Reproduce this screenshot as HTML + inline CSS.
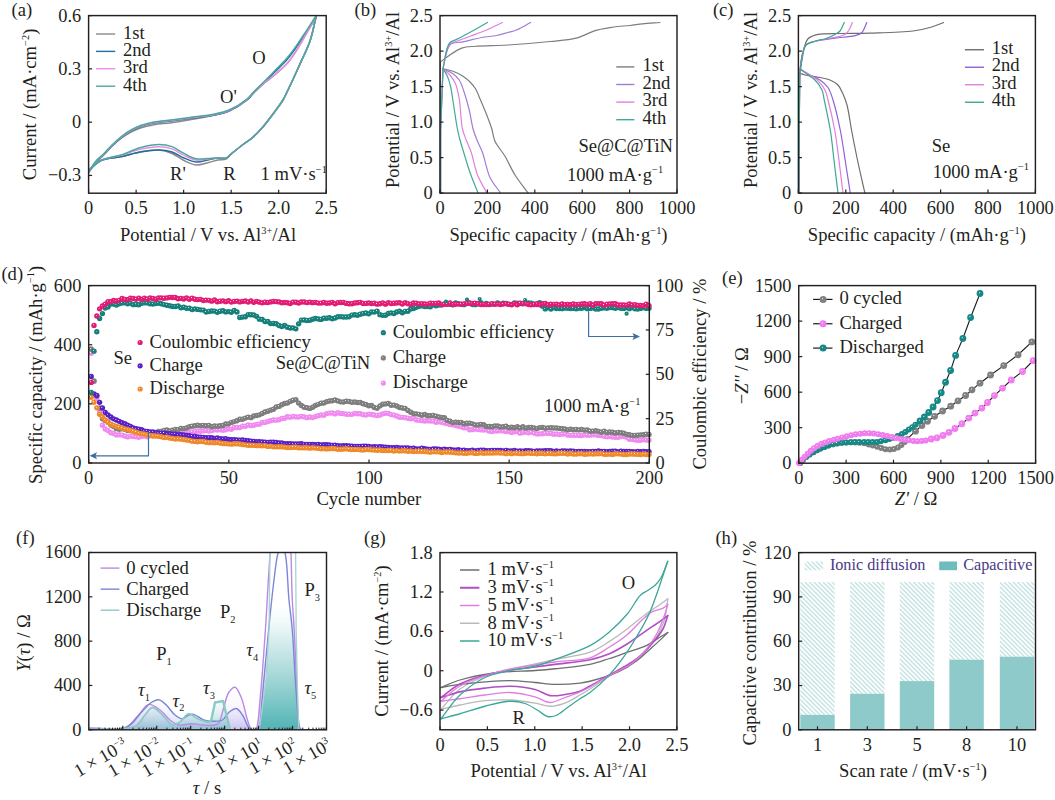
<!DOCTYPE html>
<html><head><meta charset="utf-8"><style>
html,body{margin:0;padding:0;background:#fff;}
svg{display:block;font-family:"Liberation Serif",serif;}
</style></head><body>
<svg width="1055" height="800" viewBox="0 0 1055 800">
<path d="M89,172 C91.33,168.67 93.46,164.92 96,162 C98.33,159.32 100.96,157.51 103.5,155 C106.28,152.25 108.97,148.96 112,146.11 C115.13,143.16 118.66,140.06 122,137.63 C125,135.45 127.9,133.68 131,132.06 C134.07,130.45 137,129.09 140.5,127.92 C144.55,126.58 149.22,125.58 154,124.74 C159.32,123.81 165.18,123.55 171,122.74 C177.17,121.89 183.24,120.9 190,119.72 C197.77,118.37 207.9,116.68 215,115 C220.37,113.73 224.19,113.11 229,111 C234.79,108.46 242.56,103.62 247,100 C250.09,97.48 251.34,95.12 254,92.5 C257.2,89.35 261.37,85.62 265,82.54 C268.37,79.69 271.54,77.59 275,74.62 C279,71.19 284.01,66.92 287.5,63 C290.51,59.61 292.36,56.72 295,52.74 C298.43,47.57 302.45,40.44 306,34.39 C309.44,28.54 312.67,22.8 316,17" fill="none" stroke="#8a8a8a" stroke-width="1.5" stroke-linejoin="round" stroke-linecap="round" />
<path d="M316,17 C314,25 312.65,33.19 310,41 C307.33,48.86 303.53,56.12 300,64 C296.23,72.42 291.18,83.38 288,90 C286.01,94.13 284.94,96.74 283,100 C280.97,103.41 278.79,106.22 276,110 C272.19,115.17 266.42,122.99 262,128 C258.52,131.95 255.36,135.14 252,138 C249.02,140.54 246.17,142.04 243,144.5 C239.24,147.42 234.11,151.77 231,154.5 C228.95,156.3 228.04,158.18 226,159.1 C223.78,160.11 220.79,159.43 218,159.96 C214.83,160.56 211.5,161.9 208,162.71 C204.2,163.6 199.95,165.33 196,164.99 C191.95,164.65 187.92,162.4 184,160.53 C179.91,158.58 176.21,155.21 172,153.45 C167.87,151.72 163.78,150.37 159,150 C153.3,149.56 146.21,150.9 140,152 C133.88,153.08 128.25,155.12 122,156.5 C115.29,157.98 106.77,157.86 101,160.5 C96.12,162.73 93,166.83 89,170" fill="none" stroke="#8a8a8a" stroke-width="1.5" stroke-linejoin="round" stroke-linecap="round" />
<path d="M89,172 C91.33,168.67 93.46,164.92 96,162 C98.33,159.32 100.96,157.52 103.5,155 C106.29,152.23 108.99,148.94 112,146 C115.14,142.93 118.66,139.59 122,137 C124.99,134.67 127.89,132.76 131,131 C134.06,129.27 136.99,127.77 140.5,126.5 C144.54,125.03 149.21,123.9 154,123 C159.31,122 165.18,121.73 171,121 C177.16,120.23 183.23,119.42 190,118.5 C197.76,117.45 207.91,116.5 215,115 C220.38,113.86 224.19,113.11 229,111 C234.79,108.46 242.56,103.62 247,100 C250.09,97.48 251.37,95.19 254,92.5 C257.22,89.22 261.43,85.34 265,81.82 C268.43,78.44 271.49,75.35 275,71.79 C278.94,67.8 283.97,63.1 287.5,59 C290.44,55.58 292.32,52.86 295,49.09 C298.38,44.32 302.44,37.98 306,32.54 C309.43,27.29 312.67,22.18 316,17" fill="none" stroke="#1f6f9a" stroke-width="1.5" stroke-linejoin="round" stroke-linecap="round" />
<path d="M316,17 C314,25 312.65,33.19 310,41 C307.33,48.86 303.53,56.12 300,64 C296.23,72.42 291.18,83.38 288,90 C286.01,94.13 284.94,96.74 283,100 C280.97,103.41 278.79,106.22 276,110 C272.19,115.17 266.42,122.99 262,128 C258.52,131.95 255.36,135.14 252,138 C249.02,140.54 246.19,142.09 243,144.5 C239.26,147.33 234.14,151.5 231,154 C228.97,155.61 228.01,157.3 226,158 C223.76,158.79 220.8,157.72 218,158 C214.84,158.31 211.49,159.36 208,160 C204.19,160.7 199.96,162.31 196,162 C191.96,161.68 187.94,159.63 184,158 C179.94,156.32 176.19,153.33 172,152 C167.85,150.68 163.75,150.11 159,150 C153.27,149.86 146.21,150.9 140,152 C133.88,153.08 128.25,155.12 122,156.5 C115.29,157.98 106.77,157.86 101,160.5 C96.12,162.73 93,166.83 89,170" fill="none" stroke="#1f6f9a" stroke-width="1.5" stroke-linejoin="round" stroke-linecap="round" />
<path d="M89,171.5 C91.33,168.17 93.46,164.42 96,161.5 C98.33,158.82 100.96,157.02 103.5,154.5 C106.29,151.73 108.99,148.44 112,145.5 C115.14,142.43 118.66,139.09 122,136.5 C124.99,134.17 127.89,132.26 131,130.5 C134.06,128.77 136.99,127.27 140.5,126 C144.54,124.53 149.21,123.4 154,122.5 C159.31,121.5 165.18,121.23 171,120.5 C177.16,119.73 183.23,118.92 190,118 C197.76,116.95 207.91,116 215,114.5 C220.38,113.36 224.19,112.61 229,110.5 C234.79,107.96 242.56,103.12 247,99.5 C250.09,96.98 251.34,94.61 254,92 C257.19,88.87 261.36,85.15 265,82.13 C268.36,79.35 271.55,77.37 275,74.47 C279.01,71.11 284.02,66.9 287.5,63 C290.52,59.62 292.36,56.7 295,52.69 C298.43,47.47 302.45,40.25 306,34.13 C309.44,28.19 312.67,22.38 316,16.5" fill="none" stroke="#e88ee8" stroke-width="1.5" stroke-linejoin="round" stroke-linecap="round" />
<path d="M316,17 C314,25 312.65,33.19 310,41 C307.33,48.86 303.53,56.12 300,64 C296.23,72.42 291.18,83.38 288,90 C286.01,94.13 284.94,96.74 283,100 C280.97,103.41 278.79,106.22 276,110 C272.19,115.17 266.42,122.99 262,128 C258.52,131.95 255.36,135.14 252,138 C249.02,140.54 246.19,142.09 243,144.5 C239.26,147.33 234.14,151.5 231,154 C228.97,155.61 228.01,157.32 226,158 C223.76,158.76 220.81,157.7 218,157.83 C214.85,157.97 211.49,158.61 208,158.97 C204.18,159.36 199.93,160.61 196,160.05 C191.93,159.47 187.95,157.16 184,155.34 C179.94,153.46 176.2,150.33 172,148.91 C167.86,147.51 163.75,146.87 159,146.81 C153.27,146.74 146.19,148 140,149.39 C133.86,150.76 128.26,153.27 122,155.07 C115.29,156.99 106.78,157.62 101,160.5 C96.14,162.92 93,166.83 89,170" fill="none" stroke="#e88ee8" stroke-width="1.5" stroke-linejoin="round" stroke-linecap="round" />
<path d="M89,171 C91.33,167.67 93.46,163.92 96,161 C98.33,158.32 100.96,156.52 103.5,154 C106.29,151.23 108.99,147.94 112,145 C115.14,141.93 118.66,138.59 122,136 C124.99,133.67 127.89,131.76 131,130 C134.06,128.27 136.99,126.77 140.5,125.5 C144.54,124.03 149.21,122.9 154,122 C159.31,121 165.18,120.73 171,120 C177.16,119.23 183.23,118.42 190,117.5 C197.76,116.45 207.91,115.5 215,114 C220.38,112.86 224.19,112.11 229,110 C234.79,107.46 242.56,102.62 247,99 C250.09,96.48 251.37,94.19 254,91.5 C257.22,88.2 261.44,84.3 265,80.73 C268.43,77.28 271.48,74.07 275,70.44 C278.94,66.38 283.96,61.62 287.5,57.5 C290.43,54.08 292.32,51.38 295,47.63 C298.38,42.91 302.44,36.67 306,31.3 C309.43,26.13 312.67,21.1 316,16" fill="none" stroke="#4aa89a" stroke-width="1.5" stroke-linejoin="round" stroke-linecap="round" />
<path d="M316,17 C314,25 312.65,33.19 310,41 C307.33,48.86 303.53,56.12 300,64 C296.23,72.42 291.18,83.38 288,90 C286.01,94.13 284.94,96.74 283,100 C280.97,103.41 278.79,106.22 276,110 C272.19,115.17 266.42,122.99 262,128 C258.52,131.95 255.36,135.14 252,138 C249.02,140.54 246.19,142.09 243,144.5 C239.26,147.33 234.14,151.5 231,154 C228.97,155.61 228.01,157.3 226,158 C223.76,158.79 220.81,157.94 218,158 C214.85,158.07 211.49,158.31 208,158.42 C204.18,158.55 199.91,159.49 196,158.72 C191.91,157.9 187.95,155.39 184,153.4 C179.95,151.37 176.22,148.12 172,146.65 C167.88,145.21 163.74,144.54 159,144.56 C153.26,144.58 146.17,146.11 140,147.79 C133.83,149.46 128.28,152.55 122,154.62 C115.32,156.82 106.79,157.55 101,160.5 C96.15,162.97 93,166.83 89,170" fill="none" stroke="#4aa89a" stroke-width="1.5" stroke-linejoin="round" stroke-linecap="round" />
<rect x="88.6" y="15.6" width="237.6" height="177.6" fill="none" stroke="#231f20" stroke-width="1.45"/>
<line x1="88.6" y1="15.6" x2="92.1" y2="15.6" stroke="#231f20" stroke-width="1.2" />
<text x="81.3" y="21.5" font-size="18.4" text-anchor="end" fill="#231f20" >0.6</text>
<line x1="88.6" y1="68.88" x2="92.1" y2="68.88" stroke="#231f20" stroke-width="1.2" />
<text x="81.3" y="74.78" font-size="18.4" text-anchor="end" fill="#231f20" >0.3</text>
<line x1="88.6" y1="122.16" x2="92.1" y2="122.16" stroke="#231f20" stroke-width="1.2" />
<text x="81.3" y="128.06" font-size="18.4" text-anchor="end" fill="#231f20" >0</text>
<line x1="88.6" y1="175.44" x2="92.1" y2="175.44" stroke="#231f20" stroke-width="1.2" />
<text x="81.3" y="181.34" font-size="18.4" text-anchor="end" fill="#231f20" >−0.3</text>
<line x1="88.6" y1="193.2" x2="88.6" y2="189.7" stroke="#231f20" stroke-width="1.2" />
<text x="88.6" y="214.2" font-size="18.4" text-anchor="middle" fill="#231f20" >0</text>
<line x1="136.12" y1="193.2" x2="136.12" y2="189.7" stroke="#231f20" stroke-width="1.2" />
<text x="136.12" y="214.2" font-size="18.4" text-anchor="middle" fill="#231f20" >0.5</text>
<line x1="183.64" y1="193.2" x2="183.64" y2="189.7" stroke="#231f20" stroke-width="1.2" />
<text x="183.64" y="214.2" font-size="18.4" text-anchor="middle" fill="#231f20" >1.0</text>
<line x1="231.16" y1="193.2" x2="231.16" y2="189.7" stroke="#231f20" stroke-width="1.2" />
<text x="231.16" y="214.2" font-size="18.4" text-anchor="middle" fill="#231f20" >1.5</text>
<line x1="278.68" y1="193.2" x2="278.68" y2="189.7" stroke="#231f20" stroke-width="1.2" />
<text x="278.68" y="214.2" font-size="18.4" text-anchor="middle" fill="#231f20" >2.0</text>
<line x1="326.2" y1="193.2" x2="326.2" y2="189.7" stroke="#231f20" stroke-width="1.2" />
<text x="326.2" y="214.2" font-size="18.4" text-anchor="middle" fill="#231f20" >2.5</text>
<text x="208" y="241" font-size="18.6" text-anchor="middle" fill="#231f20" >Potential / V vs. Al<tspan font-size="10.4" dy="-7.4">3+</tspan><tspan dy="7.4">/Al</tspan></text>
<text transform="translate(36.3,104.4) rotate(-90)" font-size="18.6" text-anchor="middle" fill="#231f20">Current / (mA·cm<tspan font-size="10.4" dy="-7.4">−2</tspan><tspan dy="7.4">)</tspan></text>
<text x="11.5" y="15.5" font-size="18.6" text-anchor="start" fill="#231f20" >(a)</text>
<line x1="96" y1="34" x2="115.2" y2="34" stroke="#8a8a8a" stroke-width="1.4" />
<text x="123" y="38.6" font-size="18.6" text-anchor="start" fill="#231f20" >1st</text>
<line x1="96" y1="51.4" x2="115.2" y2="51.4" stroke="#1f6f9a" stroke-width="1.4" />
<text x="123" y="56" font-size="18.6" text-anchor="start" fill="#231f20" >2nd</text>
<line x1="96" y1="68.8" x2="115.2" y2="68.8" stroke="#e88ee8" stroke-width="1.4" />
<text x="123" y="73.4" font-size="18.6" text-anchor="start" fill="#231f20" >3rd</text>
<line x1="96" y1="86.2" x2="115.2" y2="86.2" stroke="#4aa89a" stroke-width="1.4" />
<text x="123" y="90.8" font-size="18.6" text-anchor="start" fill="#231f20" >4th</text>
<text x="259" y="64.4" font-size="18.6" text-anchor="middle" fill="#231f20" >O</text>
<text x="228.5" y="103" font-size="18.6" text-anchor="middle" fill="#231f20" >O'</text>
<text x="178" y="180.2" font-size="18.6" text-anchor="middle" fill="#231f20" >R'</text>
<text x="229.5" y="180.2" font-size="18.6" text-anchor="middle" fill="#231f20" >R</text>
<text x="260.5" y="180.2" font-size="18.6" text-anchor="start" fill="#231f20" >1 mV·s<tspan font-size="10.4" dy="-7.4">−1</tspan></text>
<text x="578.5" y="151.9" font-size="18.6" text-anchor="start" fill="#231f20" >Se@C@TiN</text>
<text x="566.9" y="180.6" font-size="18.6" text-anchor="start" fill="#231f20" >1000 mA·g<tspan font-size="10.4" dy="-7.4">−1</tspan></text>
<path d="M440.2,193 L440.3,120 L440.4,62" fill="none" stroke="#7d7d7d" stroke-width="1.2" stroke-linejoin="round" />
<path d="M440.4,62 C442.93,60.08 445.03,58.25 448,56.25 C451.85,53.67 456.99,49.75 461.75,48.1 C466.18,46.56 469.93,46.73 475.5,46.25 C484.03,45.51 496.48,45.7 508,45 C521.11,44.2 537.68,42.79 550,41.5 C559.71,40.48 568.02,40.25 576,38.2 C583.23,36.34 589.85,32.09 596,30.3 C601.01,28.84 606.05,28.27 610,27.6 C612.88,27.11 614.68,26.82 617.5,26.5 C621.13,26.09 625.84,25.95 630,25.5 C634.17,25.05 637.98,24.28 642.5,23.8 C647.84,23.24 654.17,22.93 660,22.5" fill="none" stroke="#7d7d7d" stroke-width="1.2" stroke-linejoin="round" stroke-linecap="round" />
<path d="M443,68.75 C446.33,69.58 449.73,70.04 453,71.25 C456.4,72.51 460.01,74.29 463,76.25 C465.8,78.08 468.35,80.3 470.5,82.5 C472.45,84.49 473.98,86.25 475.5,88.75 C477.39,91.85 478.77,95.97 480.5,100 C482.49,104.63 484.83,110.09 486.75,115 C488.57,119.66 490.35,124.24 491.75,128.75 C493.07,132.98 493.12,137.05 495,141.25 C497.22,146.21 501.79,150.89 505,156.25 C508.48,162.07 511.21,168.94 515,175 C518.88,181.2 523.73,187 528.1,193" fill="none" stroke="#7d7d7d" stroke-width="1.2" stroke-linejoin="round" stroke-linecap="round" />
<path d="M440.6,193 L440.6,130 L443,68.75 L445.7,56" fill="none" stroke="#a07cd6" stroke-width="1.2" stroke-linejoin="round" />
<path d="M445.7,56 C446.4,53.67 446.85,51.08 447.8,49 C448.66,47.13 449.22,45.18 451,44 C453.54,42.31 458.57,42.81 463,41.9 C468.57,40.76 475.85,38.59 481.75,37.5 C486.94,36.54 491.91,36.41 496.5,35.5 C500.6,34.69 504.47,33.48 508,32.5 C511.03,31.65 513.3,31.26 516.4,30 C520.59,28.29 525.87,25 530.6,22.5" fill="none" stroke="#a07cd6" stroke-width="1.2" stroke-linejoin="round" stroke-linecap="round" />
<path d="M443,68.75 C446.33,70.42 450.19,71.73 453,73.75 C455.5,75.55 457.49,77.34 459.25,80 C461.42,83.29 462.69,87.94 464.25,92.5 C466.06,97.8 467.8,104.04 469.25,110 C470.73,116.11 471.51,123.34 473,128.75 C474.18,133.02 475.48,136.18 477,140 C478.62,144.09 480.68,147.55 482.5,152.5 C485.02,159.34 486.6,170.38 490,177.5 C492.88,183.54 497.07,187.83 500.6,193" fill="none" stroke="#a07cd6" stroke-width="1.2" stroke-linejoin="round" stroke-linecap="round" />
<path d="M440.6,193 L440.6,130 L443,68.75 L445.5,55" fill="none" stroke="#e07fe0" stroke-width="1.2" stroke-linejoin="round" />
<path d="M445.5,55 C446.13,52.67 446.47,50.01 447.4,48 C448.21,46.26 449.06,44.61 450.5,43.5 C452.09,42.28 454.28,42.16 456.75,41.25 C460.35,39.92 465.32,37.96 470,36.2 C475.25,34.23 481.3,32.3 486.75,30 C492.13,27.73 497.25,25 502.5,22.5" fill="none" stroke="#e07fe0" stroke-width="1.2" stroke-linejoin="round" stroke-linecap="round" />
<path d="M443,68.75 C445.3,70.83 447.86,72.59 449.9,75 C452.06,77.55 454.01,80.3 455.5,83.75 C457.31,87.96 458.21,92.85 459.25,98.75 C460.71,106.99 460.74,121.22 462.4,128.75 C463.44,133.48 464.83,136.17 466.25,140 C467.76,144.08 469.62,147.67 471.25,152.5 C473.4,158.86 474.76,168.05 477.5,175 C480.06,181.48 483.77,187 486.9,193" fill="none" stroke="#e07fe0" stroke-width="1.2" stroke-linejoin="round" stroke-linecap="round" />
<path d="M440.6,193 L440.6,130 L443,68.75 L445.5,55" fill="none" stroke="#3eaa98" stroke-width="1.2" stroke-linejoin="round" />
<path d="M445.5,55 C446.13,52.5 446.58,49.71 447.4,47.5 C448.1,45.62 448.54,43.81 449.9,42.5 C451.48,40.98 453.97,40.77 456.75,39.4 C461.27,37.17 468.84,32.99 474.25,30 C478.99,27.39 483.08,25 487.5,22.5" fill="none" stroke="#3eaa98" stroke-width="1.2" stroke-linejoin="round" stroke-linecap="round" />
<path d="M443,68.75 C444.47,71.25 446.18,73.49 447.4,76.25 C448.73,79.27 449.58,82.36 450.5,86.25 C451.74,91.49 452.52,98.38 453.6,105 C454.81,112.45 456.14,122.31 457.4,128.75 C458.27,133.21 458.98,136.17 460,140 C461.08,144.07 462.33,147.85 463.75,152.5 C465.55,158.39 467.65,165.84 470,172.5 C472.41,179.34 475.4,186.17 478.1,193" fill="none" stroke="#3eaa98" stroke-width="1.2" stroke-linejoin="round" stroke-linecap="round" />
<rect x="440" y="15.6" width="237" height="177.5" fill="none" stroke="#231f20" stroke-width="1.45"/>
<line x1="440" y1="193.1" x2="443.5" y2="193.1" stroke="#231f20" stroke-width="1.2" />
<text x="432.7" y="199" font-size="18.4" text-anchor="end" fill="#231f20" >0</text>
<line x1="440" y1="157.6" x2="443.5" y2="157.6" stroke="#231f20" stroke-width="1.2" />
<text x="432.7" y="163.5" font-size="18.4" text-anchor="end" fill="#231f20" >0.5</text>
<line x1="440" y1="122.1" x2="443.5" y2="122.1" stroke="#231f20" stroke-width="1.2" />
<text x="432.7" y="128" font-size="18.4" text-anchor="end" fill="#231f20" >1.0</text>
<line x1="440" y1="86.6" x2="443.5" y2="86.6" stroke="#231f20" stroke-width="1.2" />
<text x="432.7" y="92.5" font-size="18.4" text-anchor="end" fill="#231f20" >1.5</text>
<line x1="440" y1="51.1" x2="443.5" y2="51.1" stroke="#231f20" stroke-width="1.2" />
<text x="432.7" y="57" font-size="18.4" text-anchor="end" fill="#231f20" >2.0</text>
<line x1="440" y1="15.6" x2="443.5" y2="15.6" stroke="#231f20" stroke-width="1.2" />
<text x="432.7" y="21.5" font-size="18.4" text-anchor="end" fill="#231f20" >2.5</text>
<line x1="440" y1="193.1" x2="440" y2="189.6" stroke="#231f20" stroke-width="1.2" />
<text x="440" y="214.1" font-size="18.4" text-anchor="middle" fill="#231f20" >0</text>
<line x1="487.4" y1="193.1" x2="487.4" y2="189.6" stroke="#231f20" stroke-width="1.2" />
<text x="487.4" y="214.1" font-size="18.4" text-anchor="middle" fill="#231f20" >200</text>
<line x1="534.8" y1="193.1" x2="534.8" y2="189.6" stroke="#231f20" stroke-width="1.2" />
<text x="534.8" y="214.1" font-size="18.4" text-anchor="middle" fill="#231f20" >400</text>
<line x1="582.2" y1="193.1" x2="582.2" y2="189.6" stroke="#231f20" stroke-width="1.2" />
<text x="582.2" y="214.1" font-size="18.4" text-anchor="middle" fill="#231f20" >600</text>
<line x1="629.6" y1="193.1" x2="629.6" y2="189.6" stroke="#231f20" stroke-width="1.2" />
<text x="629.6" y="214.1" font-size="18.4" text-anchor="middle" fill="#231f20" >800</text>
<line x1="677" y1="193.1" x2="677" y2="189.6" stroke="#231f20" stroke-width="1.2" />
<text x="677" y="214.1" font-size="18.4" text-anchor="middle" fill="#231f20" >1000</text>
<text x="558.5" y="241" font-size="18.6" text-anchor="middle" fill="#231f20" >Specific capacity / (mAh·g<tspan font-size="10.4" dy="-7.4">−1</tspan><tspan dy="7.4">)</tspan></text>
<text transform="translate(399,100) rotate(-90)" font-size="18.6" text-anchor="middle" fill="#231f20">Potential / V vs. Al<tspan font-size="10.4" dy="-7.4">3+</tspan><tspan dy="7.4">/Al</tspan></text>
<text x="354.5" y="15.5" font-size="18.6" text-anchor="start" fill="#231f20" >(b)</text>
<line x1="616.25" y1="66.9" x2="634.4" y2="66.9" stroke="#7d7d7d" stroke-width="1.4" />
<text x="642.5" y="71.1" font-size="18.6" text-anchor="start" fill="#231f20" >1st</text>
<line x1="616.25" y1="84.5" x2="634.4" y2="84.5" stroke="#a07cd6" stroke-width="1.4" />
<text x="642.5" y="88.7" font-size="18.6" text-anchor="start" fill="#231f20" >2nd</text>
<line x1="616.25" y1="102.1" x2="634.4" y2="102.1" stroke="#e07fe0" stroke-width="1.4" />
<text x="642.5" y="106.3" font-size="18.6" text-anchor="start" fill="#231f20" >3rd</text>
<line x1="616.25" y1="119.7" x2="634.4" y2="119.7" stroke="#3eaa98" stroke-width="1.4" />
<text x="642.5" y="123.9" font-size="18.6" text-anchor="start" fill="#231f20" >4th</text>
<text x="931.7" y="151.9" font-size="18.6" text-anchor="start" fill="#231f20" >Se</text>
<text x="932.7" y="177.8" font-size="18.6" text-anchor="start" fill="#231f20" >1000 mA·g<tspan font-size="10.4" dy="-7.4">−1</tspan></text>
<path d="M799,193 L799.2,120 L799.5,80" fill="none" stroke="#6e6e6e" stroke-width="1.2" stroke-linejoin="round" />
<path d="M799.5,80 C799.67,77.83 799.71,76.05 800,73.5 C800.42,69.81 801.2,64.61 802,60 C802.85,55.12 803.71,48.86 805,45 C805.87,42.4 806.66,40.25 808,38.75 C809.1,37.52 810.48,36.94 812,36.25 C813.75,35.45 815.33,34.86 818,34.4 C822.99,33.54 832.1,33.71 840,33.5 C849.22,33.25 859.11,33.44 870,33.1 C883.05,32.69 901.65,32.48 913,31 C920.58,30.01 926.27,28.62 931.75,27 C936.21,25.69 939.65,24 943.6,22.5" fill="none" stroke="#6e6e6e" stroke-width="1.2" stroke-linejoin="round" stroke-linecap="round" />
<path d="M799,73 C801,73.67 802.52,74.38 805,75 C808.85,75.96 815.52,76.57 820,77.5 C823.69,78.27 826.95,78.7 830,80 C832.92,81.24 835.86,82.74 838,85 C840.24,87.36 841.53,90.79 843,94 C844.56,97.43 845.78,100.48 847,105 C848.84,111.82 850.01,122.13 851.75,131.25 C853.65,141.22 855.8,152.16 858,162.5 C860.18,172.74 862.6,182.83 864.9,193" fill="none" stroke="#6e6e6e" stroke-width="1.2" stroke-linejoin="round" stroke-linecap="round" />
<path d="M799,193 L799.3,120 L799.8,75" fill="none" stroke="#9060d8" stroke-width="1.2" stroke-linejoin="round" />
<path d="M799.8,75 C800.2,70.67 800.41,66.04 801,62 C801.52,58.43 802.07,54.99 803,52 C803.8,49.41 804.23,46.76 806,45 C808.01,43.01 811.33,42.29 815,41.25 C820.28,39.76 828.33,39.04 835,38.1 C841.66,37.16 850.12,36.96 855,35.6 C858.01,34.76 860.13,34.32 862,32.5 C864.25,30.31 865.17,25.83 866.75,22.5" fill="none" stroke="#9060d8" stroke-width="1.2" stroke-linejoin="round" stroke-linecap="round" />
<path d="M800,69 C803.33,71 806.63,73.15 810,75 C813.3,76.81 816.99,77.9 820,80 C822.98,82.08 825.88,84.4 828,87.5 C830.34,90.93 831.35,94.82 833,100 C835.55,108 838.41,120.79 840.5,131.25 C842.57,141.63 843.87,152.14 845.5,162.5 C847.11,172.73 848.67,182.83 850.25,193" fill="none" stroke="#9060d8" stroke-width="1.2" stroke-linejoin="round" stroke-linecap="round" />
<path d="M799,193 L799.3,120 L799.8,75" fill="none" stroke="#e07fe0" stroke-width="1.2" stroke-linejoin="round" />
<path d="M799.8,75 C800.2,70.67 800.41,66.04 801,62 C801.52,58.43 802.07,54.99 803,52 C803.8,49.41 804.23,46.76 806,45 C808.01,43.01 811.8,42.23 815,41.25 C818.44,40.19 821.84,39.93 826,39 C831.48,37.78 841.19,36.66 845,34.4 C847.1,33.15 847.84,31.77 849,30 C850.37,27.92 851.27,25 852.4,22.5" fill="none" stroke="#e07fe0" stroke-width="1.2" stroke-linejoin="round" stroke-linecap="round" />
<path d="M800,69 C803.33,71 806.89,72.98 810,75 C812.85,76.85 815.59,78.26 818,80.6 C820.64,83.16 823.32,86.66 825,90 C826.58,93.15 826.89,95.72 828,100 C829.95,107.5 833.02,120.8 834.9,131.25 C836.77,141.63 837.89,152.14 839.25,162.5 C840.59,172.72 841.75,182.83 843,193" fill="none" stroke="#e07fe0" stroke-width="1.2" stroke-linejoin="round" stroke-linecap="round" />
<path d="M799,193 L799.3,120 L799.8,75" fill="none" stroke="#3aa890" stroke-width="1.2" stroke-linejoin="round" />
<path d="M799.8,75 C800.2,70.67 800.41,66.04 801,62 C801.52,58.43 802.07,54.99 803,52 C803.8,49.41 804.23,46.76 806,45 C808.01,43.01 811.81,42.31 815,41.25 C818.44,40.11 822.57,39.7 826,38.5 C829.2,37.38 832.49,35.81 835,34.4 C836.96,33.3 838.57,32.63 840,31 C841.79,28.95 842.83,25.33 844.25,22.5" fill="none" stroke="#3aa890" stroke-width="1.2" stroke-linejoin="round" stroke-linecap="round" />
<path d="M800,69 C802.67,71 805.41,73.11 808,75 C810.4,76.76 812.84,77.82 815,80 C817.58,82.6 820.46,86.51 822,90 C823.41,93.2 823.34,95.74 824.25,100 C825.85,107.52 828.83,120.8 830.5,131.25 C832.16,141.63 832.99,152.15 834.25,162.5 C835.49,172.73 836.75,182.83 838,193" fill="none" stroke="#3aa890" stroke-width="1.2" stroke-linejoin="round" stroke-linecap="round" />
<rect x="798.4" y="15.6" width="237" height="177.5" fill="none" stroke="#231f20" stroke-width="1.45"/>
<line x1="798.4" y1="193.1" x2="801.9" y2="193.1" stroke="#231f20" stroke-width="1.2" />
<text x="791.1" y="199" font-size="18.4" text-anchor="end" fill="#231f20" >0</text>
<line x1="798.4" y1="157.6" x2="801.9" y2="157.6" stroke="#231f20" stroke-width="1.2" />
<text x="791.1" y="163.5" font-size="18.4" text-anchor="end" fill="#231f20" >0.5</text>
<line x1="798.4" y1="122.1" x2="801.9" y2="122.1" stroke="#231f20" stroke-width="1.2" />
<text x="791.1" y="128" font-size="18.4" text-anchor="end" fill="#231f20" >1.0</text>
<line x1="798.4" y1="86.6" x2="801.9" y2="86.6" stroke="#231f20" stroke-width="1.2" />
<text x="791.1" y="92.5" font-size="18.4" text-anchor="end" fill="#231f20" >1.5</text>
<line x1="798.4" y1="51.1" x2="801.9" y2="51.1" stroke="#231f20" stroke-width="1.2" />
<text x="791.1" y="57" font-size="18.4" text-anchor="end" fill="#231f20" >2.0</text>
<line x1="798.4" y1="15.6" x2="801.9" y2="15.6" stroke="#231f20" stroke-width="1.2" />
<text x="791.1" y="21.5" font-size="18.4" text-anchor="end" fill="#231f20" >2.5</text>
<line x1="798.4" y1="193.1" x2="798.4" y2="189.6" stroke="#231f20" stroke-width="1.2" />
<text x="798.4" y="214.1" font-size="18.4" text-anchor="middle" fill="#231f20" >0</text>
<line x1="845.8" y1="193.1" x2="845.8" y2="189.6" stroke="#231f20" stroke-width="1.2" />
<text x="845.8" y="214.1" font-size="18.4" text-anchor="middle" fill="#231f20" >200</text>
<line x1="893.2" y1="193.1" x2="893.2" y2="189.6" stroke="#231f20" stroke-width="1.2" />
<text x="893.2" y="214.1" font-size="18.4" text-anchor="middle" fill="#231f20" >400</text>
<line x1="940.6" y1="193.1" x2="940.6" y2="189.6" stroke="#231f20" stroke-width="1.2" />
<text x="940.6" y="214.1" font-size="18.4" text-anchor="middle" fill="#231f20" >600</text>
<line x1="988" y1="193.1" x2="988" y2="189.6" stroke="#231f20" stroke-width="1.2" />
<text x="988" y="214.1" font-size="18.4" text-anchor="middle" fill="#231f20" >800</text>
<line x1="1035.4" y1="193.1" x2="1035.4" y2="189.6" stroke="#231f20" stroke-width="1.2" />
<text x="1035.4" y="214.1" font-size="18.4" text-anchor="middle" fill="#231f20" >1000</text>
<text x="916.9" y="241" font-size="18.6" text-anchor="middle" fill="#231f20" >Specific capacity / (mAh·g<tspan font-size="10.4" dy="-7.4">−1</tspan><tspan dy="7.4">)</tspan></text>
<text transform="translate(757.4,100) rotate(-90)" font-size="18.6" text-anchor="middle" fill="#231f20">Potential / V vs. Al<tspan font-size="10.4" dy="-7.4">3+</tspan><tspan dy="7.4">/Al</tspan></text>
<text x="712.9" y="15.5" font-size="18.6" text-anchor="start" fill="#231f20" >(c)</text>
<line x1="964.9" y1="49.75" x2="984" y2="49.75" stroke="#6e6e6e" stroke-width="1.4" />
<text x="991.75" y="53.95" font-size="18.6" text-anchor="start" fill="#231f20" >1st</text>
<line x1="964.9" y1="67.25" x2="984" y2="67.25" stroke="#9060d8" stroke-width="1.4" />
<text x="991.75" y="71.45" font-size="18.6" text-anchor="start" fill="#231f20" >2nd</text>
<line x1="964.9" y1="84.75" x2="984" y2="84.75" stroke="#e07fe0" stroke-width="1.4" />
<text x="991.75" y="88.95" font-size="18.6" text-anchor="start" fill="#231f20" >3rd</text>
<line x1="964.9" y1="102.25" x2="984" y2="102.25" stroke="#3aa890" stroke-width="1.4" />
<text x="991.75" y="106.45" font-size="18.6" text-anchor="start" fill="#231f20" >4th</text>
<defs>
<radialGradient id="g0" cx="0.5" cy="0.5" r="0.5" fx="0.38" fy="0.36"><stop offset="0" stop-color="#ffffff"/><stop offset="0.28" stop-color="#e21c74"/><stop offset="1" stop-color="#e21c74"/></radialGradient>
<radialGradient id="g1" cx="0.5" cy="0.5" r="0.5" fx="0.38" fy="0.36"><stop offset="0" stop-color="#ffffff"/><stop offset="0.28" stop-color="#157f7a"/><stop offset="1" stop-color="#157f7a"/></radialGradient>
<radialGradient id="g2" cx="0.5" cy="0.5" r="0.5" fx="0.38" fy="0.36"><stop offset="0" stop-color="#ffffff"/><stop offset="0.28" stop-color="#5a20c8"/><stop offset="1" stop-color="#5a20c8"/></radialGradient>
<radialGradient id="g3" cx="0.5" cy="0.5" r="0.5" fx="0.38" fy="0.36"><stop offset="0" stop-color="#ffffff"/><stop offset="0.28" stop-color="#ee8a2a"/><stop offset="1" stop-color="#ee8a2a"/></radialGradient>
<radialGradient id="g4" cx="0.5" cy="0.5" r="0.5" fx="0.38" fy="0.36"><stop offset="0" stop-color="#ffffff"/><stop offset="0.28" stop-color="#7d7d7d"/><stop offset="1" stop-color="#7d7d7d"/></radialGradient>
<radialGradient id="g5" cx="0.5" cy="0.5" r="0.5" fx="0.38" fy="0.36"><stop offset="0" stop-color="#ffffff"/><stop offset="0.28" stop-color="#f08af0"/><stop offset="1" stop-color="#f08af0"/></radialGradient>
</defs>
<circle cx="91.2" cy="353.22" r="2.7" fill="url(#g5)"/>
<circle cx="94.01" cy="381.49" r="2.7" fill="url(#g5)"/>
<circle cx="96.81" cy="398.38" r="2.7" fill="url(#g5)"/>
<circle cx="99.61" cy="411.69" r="2.7" fill="url(#g5)"/>
<circle cx="102.42" cy="425.16" r="2.7" fill="url(#g5)"/>
<circle cx="105.22" cy="428.99" r="2.7" fill="url(#g5)"/>
<circle cx="108.02" cy="430.58" r="2.7" fill="url(#g5)"/>
<circle cx="110.82" cy="432.73" r="2.7" fill="url(#g5)"/>
<circle cx="113.63" cy="433.41" r="2.7" fill="url(#g5)"/>
<circle cx="116.43" cy="435.02" r="2.7" fill="url(#g5)"/>
<circle cx="119.23" cy="434.75" r="2.7" fill="url(#g5)"/>
<circle cx="122.04" cy="435.09" r="2.7" fill="url(#g5)"/>
<circle cx="124.84" cy="435.94" r="2.7" fill="url(#g5)"/>
<circle cx="127.64" cy="436.89" r="2.7" fill="url(#g5)"/>
<circle cx="130.44" cy="436.08" r="2.7" fill="url(#g5)"/>
<circle cx="133.25" cy="436.4" r="2.7" fill="url(#g5)"/>
<circle cx="136.05" cy="436.86" r="2.7" fill="url(#g5)"/>
<circle cx="138.85" cy="437.19" r="2.7" fill="url(#g5)"/>
<circle cx="141.66" cy="436.41" r="2.7" fill="url(#g5)"/>
<circle cx="144.46" cy="435.94" r="2.7" fill="url(#g5)"/>
<circle cx="147.26" cy="436.68" r="2.7" fill="url(#g5)"/>
<circle cx="150.07" cy="434.95" r="2.7" fill="url(#g5)"/>
<circle cx="152.87" cy="435.99" r="2.7" fill="url(#g5)"/>
<circle cx="155.67" cy="434.82" r="2.7" fill="url(#g5)"/>
<circle cx="158.47" cy="434.33" r="2.7" fill="url(#g5)"/>
<circle cx="161.28" cy="434.03" r="2.7" fill="url(#g5)"/>
<circle cx="164.08" cy="434.08" r="2.7" fill="url(#g5)"/>
<circle cx="166.88" cy="434.63" r="2.7" fill="url(#g5)"/>
<circle cx="169.69" cy="433.36" r="2.7" fill="url(#g5)"/>
<circle cx="172.49" cy="433.74" r="2.7" fill="url(#g5)"/>
<circle cx="175.29" cy="433.58" r="2.7" fill="url(#g5)"/>
<circle cx="178.1" cy="432.89" r="2.7" fill="url(#g5)"/>
<circle cx="180.9" cy="432.91" r="2.7" fill="url(#g5)"/>
<circle cx="183.7" cy="431.88" r="2.7" fill="url(#g5)"/>
<circle cx="186.5" cy="431.62" r="2.7" fill="url(#g5)"/>
<circle cx="189.31" cy="431.59" r="2.7" fill="url(#g5)"/>
<circle cx="192.11" cy="432.09" r="2.7" fill="url(#g5)"/>
<circle cx="194.91" cy="431.43" r="2.7" fill="url(#g5)"/>
<circle cx="197.72" cy="430.99" r="2.7" fill="url(#g5)"/>
<circle cx="200.52" cy="431.22" r="2.7" fill="url(#g5)"/>
<circle cx="203.32" cy="430.82" r="2.7" fill="url(#g5)"/>
<circle cx="206.13" cy="430.38" r="2.7" fill="url(#g5)"/>
<circle cx="208.93" cy="430.99" r="2.7" fill="url(#g5)"/>
<circle cx="211.73" cy="430.65" r="2.7" fill="url(#g5)"/>
<circle cx="214.53" cy="429.73" r="2.7" fill="url(#g5)"/>
<circle cx="217.34" cy="430.08" r="2.7" fill="url(#g5)"/>
<circle cx="220.14" cy="429.81" r="2.7" fill="url(#g5)"/>
<circle cx="222.94" cy="430.18" r="2.7" fill="url(#g5)"/>
<circle cx="225.75" cy="429.76" r="2.7" fill="url(#g5)"/>
<circle cx="228.55" cy="428.73" r="2.7" fill="url(#g5)"/>
<circle cx="231.35" cy="429.37" r="2.7" fill="url(#g5)"/>
<circle cx="234.16" cy="427.51" r="2.7" fill="url(#g5)"/>
<circle cx="236.96" cy="427.52" r="2.7" fill="url(#g5)"/>
<circle cx="239.76" cy="427.59" r="2.7" fill="url(#g5)"/>
<circle cx="242.56" cy="426.15" r="2.7" fill="url(#g5)"/>
<circle cx="245.37" cy="426.21" r="2.7" fill="url(#g5)"/>
<circle cx="248.17" cy="425.02" r="2.7" fill="url(#g5)"/>
<circle cx="250.97" cy="425.55" r="2.7" fill="url(#g5)"/>
<circle cx="253.78" cy="425.23" r="2.7" fill="url(#g5)"/>
<circle cx="256.58" cy="424.37" r="2.7" fill="url(#g5)"/>
<circle cx="259.38" cy="424.13" r="2.7" fill="url(#g5)"/>
<circle cx="262.19" cy="422.51" r="2.7" fill="url(#g5)"/>
<circle cx="264.99" cy="422.4" r="2.7" fill="url(#g5)"/>
<circle cx="267.79" cy="421.52" r="2.7" fill="url(#g5)"/>
<circle cx="270.59" cy="420.81" r="2.7" fill="url(#g5)"/>
<circle cx="273.4" cy="420.07" r="2.7" fill="url(#g5)"/>
<circle cx="276.2" cy="420.13" r="2.7" fill="url(#g5)"/>
<circle cx="279" cy="419.75" r="2.7" fill="url(#g5)"/>
<circle cx="281.81" cy="418.45" r="2.7" fill="url(#g5)"/>
<circle cx="284.61" cy="418.21" r="2.7" fill="url(#g5)"/>
<circle cx="287.41" cy="416.7" r="2.7" fill="url(#g5)"/>
<circle cx="290.22" cy="417.18" r="2.7" fill="url(#g5)"/>
<circle cx="293.02" cy="416.54" r="2.7" fill="url(#g5)"/>
<circle cx="295.82" cy="416.92" r="2.7" fill="url(#g5)"/>
<circle cx="298.62" cy="416.96" r="2.7" fill="url(#g5)"/>
<circle cx="301.43" cy="416.41" r="2.7" fill="url(#g5)"/>
<circle cx="304.23" cy="416.89" r="2.7" fill="url(#g5)"/>
<circle cx="307.03" cy="417.65" r="2.7" fill="url(#g5)"/>
<circle cx="309.84" cy="416.93" r="2.7" fill="url(#g5)"/>
<circle cx="312.64" cy="417.61" r="2.7" fill="url(#g5)"/>
<circle cx="315.44" cy="416.44" r="2.7" fill="url(#g5)"/>
<circle cx="318.25" cy="415.67" r="2.7" fill="url(#g5)"/>
<circle cx="321.05" cy="414.88" r="2.7" fill="url(#g5)"/>
<circle cx="323.85" cy="415.32" r="2.7" fill="url(#g5)"/>
<circle cx="326.65" cy="413.61" r="2.7" fill="url(#g5)"/>
<circle cx="329.46" cy="413.1" r="2.7" fill="url(#g5)"/>
<circle cx="332.26" cy="413.07" r="2.7" fill="url(#g5)"/>
<circle cx="335.06" cy="413.91" r="2.7" fill="url(#g5)"/>
<circle cx="337.87" cy="412.72" r="2.7" fill="url(#g5)"/>
<circle cx="340.67" cy="413.38" r="2.7" fill="url(#g5)"/>
<circle cx="343.47" cy="413.62" r="2.7" fill="url(#g5)"/>
<circle cx="346.28" cy="414.22" r="2.7" fill="url(#g5)"/>
<circle cx="349.08" cy="414.2" r="2.7" fill="url(#g5)"/>
<circle cx="351.88" cy="414.34" r="2.7" fill="url(#g5)"/>
<circle cx="354.68" cy="413.48" r="2.7" fill="url(#g5)"/>
<circle cx="357.49" cy="413.77" r="2.7" fill="url(#g5)"/>
<circle cx="360.29" cy="413.76" r="2.7" fill="url(#g5)"/>
<circle cx="363.09" cy="414.67" r="2.7" fill="url(#g5)"/>
<circle cx="365.9" cy="414.99" r="2.7" fill="url(#g5)"/>
<circle cx="368.7" cy="414.1" r="2.7" fill="url(#g5)"/>
<circle cx="371.5" cy="414.55" r="2.7" fill="url(#g5)"/>
<circle cx="374.31" cy="415.04" r="2.7" fill="url(#g5)"/>
<circle cx="377.11" cy="415.45" r="2.7" fill="url(#g5)"/>
<circle cx="379.91" cy="415.04" r="2.7" fill="url(#g5)"/>
<circle cx="382.71" cy="413.83" r="2.7" fill="url(#g5)"/>
<circle cx="385.52" cy="413.2" r="2.7" fill="url(#g5)"/>
<circle cx="388.32" cy="413.36" r="2.7" fill="url(#g5)"/>
<circle cx="391.12" cy="414.6" r="2.7" fill="url(#g5)"/>
<circle cx="393.93" cy="415.1" r="2.7" fill="url(#g5)"/>
<circle cx="396.73" cy="415.99" r="2.7" fill="url(#g5)"/>
<circle cx="399.53" cy="417.19" r="2.7" fill="url(#g5)"/>
<circle cx="402.34" cy="417.35" r="2.7" fill="url(#g5)"/>
<circle cx="405.14" cy="417.64" r="2.7" fill="url(#g5)"/>
<circle cx="407.94" cy="418.29" r="2.7" fill="url(#g5)"/>
<circle cx="410.74" cy="418.78" r="2.7" fill="url(#g5)"/>
<circle cx="413.55" cy="418.18" r="2.7" fill="url(#g5)"/>
<circle cx="416.35" cy="419.93" r="2.7" fill="url(#g5)"/>
<circle cx="419.15" cy="420.13" r="2.7" fill="url(#g5)"/>
<circle cx="421.96" cy="420.67" r="2.7" fill="url(#g5)"/>
<circle cx="424.76" cy="420.95" r="2.7" fill="url(#g5)"/>
<circle cx="427.56" cy="420.69" r="2.7" fill="url(#g5)"/>
<circle cx="430.37" cy="421.1" r="2.7" fill="url(#g5)"/>
<circle cx="433.17" cy="421.02" r="2.7" fill="url(#g5)"/>
<circle cx="435.97" cy="422.26" r="2.7" fill="url(#g5)"/>
<circle cx="438.77" cy="421.74" r="2.7" fill="url(#g5)"/>
<circle cx="441.58" cy="422.23" r="2.7" fill="url(#g5)"/>
<circle cx="444.38" cy="423.08" r="2.7" fill="url(#g5)"/>
<circle cx="447.18" cy="423.64" r="2.7" fill="url(#g5)"/>
<circle cx="449.99" cy="424.55" r="2.7" fill="url(#g5)"/>
<circle cx="452.79" cy="424.72" r="2.7" fill="url(#g5)"/>
<circle cx="455.59" cy="425.27" r="2.7" fill="url(#g5)"/>
<circle cx="458.4" cy="426.14" r="2.7" fill="url(#g5)"/>
<circle cx="461.2" cy="426.69" r="2.7" fill="url(#g5)"/>
<circle cx="464" cy="427.74" r="2.7" fill="url(#g5)"/>
<circle cx="466.8" cy="427.82" r="2.7" fill="url(#g5)"/>
<circle cx="469.61" cy="429.81" r="2.7" fill="url(#g5)"/>
<circle cx="472.41" cy="429.64" r="2.7" fill="url(#g5)"/>
<circle cx="475.21" cy="429.09" r="2.7" fill="url(#g5)"/>
<circle cx="478.02" cy="429.44" r="2.7" fill="url(#g5)"/>
<circle cx="480.82" cy="429.78" r="2.7" fill="url(#g5)"/>
<circle cx="483.62" cy="429.99" r="2.7" fill="url(#g5)"/>
<circle cx="486.43" cy="429.79" r="2.7" fill="url(#g5)"/>
<circle cx="489.23" cy="431.14" r="2.7" fill="url(#g5)"/>
<circle cx="492.03" cy="431.56" r="2.7" fill="url(#g5)"/>
<circle cx="494.83" cy="430.91" r="2.7" fill="url(#g5)"/>
<circle cx="497.64" cy="431.12" r="2.7" fill="url(#g5)"/>
<circle cx="500.44" cy="430.67" r="2.7" fill="url(#g5)"/>
<circle cx="503.24" cy="430.89" r="2.7" fill="url(#g5)"/>
<circle cx="506.05" cy="431.46" r="2.7" fill="url(#g5)"/>
<circle cx="508.85" cy="431.52" r="2.7" fill="url(#g5)"/>
<circle cx="511.65" cy="432.61" r="2.7" fill="url(#g5)"/>
<circle cx="514.46" cy="431.67" r="2.7" fill="url(#g5)"/>
<circle cx="517.26" cy="431.56" r="2.7" fill="url(#g5)"/>
<circle cx="520.06" cy="433.17" r="2.7" fill="url(#g5)"/>
<circle cx="522.87" cy="432.61" r="2.7" fill="url(#g5)"/>
<circle cx="525.67" cy="432.12" r="2.7" fill="url(#g5)"/>
<circle cx="528.47" cy="432.87" r="2.7" fill="url(#g5)"/>
<circle cx="531.27" cy="432.16" r="2.7" fill="url(#g5)"/>
<circle cx="534.08" cy="433.08" r="2.7" fill="url(#g5)"/>
<circle cx="536.88" cy="433.92" r="2.7" fill="url(#g5)"/>
<circle cx="539.68" cy="433.85" r="2.7" fill="url(#g5)"/>
<circle cx="542.49" cy="433.71" r="2.7" fill="url(#g5)"/>
<circle cx="545.29" cy="433.13" r="2.7" fill="url(#g5)"/>
<circle cx="548.09" cy="433.41" r="2.7" fill="url(#g5)"/>
<circle cx="550.89" cy="433.21" r="2.7" fill="url(#g5)"/>
<circle cx="553.7" cy="434.3" r="2.7" fill="url(#g5)"/>
<circle cx="556.5" cy="434.04" r="2.7" fill="url(#g5)"/>
<circle cx="559.3" cy="434.55" r="2.7" fill="url(#g5)"/>
<circle cx="562.11" cy="433.95" r="2.7" fill="url(#g5)"/>
<circle cx="564.91" cy="433.89" r="2.7" fill="url(#g5)"/>
<circle cx="567.71" cy="434.95" r="2.7" fill="url(#g5)"/>
<circle cx="570.52" cy="435.35" r="2.7" fill="url(#g5)"/>
<circle cx="573.32" cy="435.26" r="2.7" fill="url(#g5)"/>
<circle cx="576.12" cy="435.3" r="2.7" fill="url(#g5)"/>
<circle cx="578.92" cy="435.44" r="2.7" fill="url(#g5)"/>
<circle cx="581.73" cy="435.43" r="2.7" fill="url(#g5)"/>
<circle cx="584.53" cy="434.73" r="2.7" fill="url(#g5)"/>
<circle cx="587.33" cy="435.31" r="2.7" fill="url(#g5)"/>
<circle cx="590.14" cy="435.17" r="2.7" fill="url(#g5)"/>
<circle cx="592.94" cy="434.77" r="2.7" fill="url(#g5)"/>
<circle cx="595.74" cy="434.88" r="2.7" fill="url(#g5)"/>
<circle cx="598.55" cy="435.4" r="2.7" fill="url(#g5)"/>
<circle cx="601.35" cy="435.49" r="2.7" fill="url(#g5)"/>
<circle cx="604.15" cy="436.3" r="2.7" fill="url(#g5)"/>
<circle cx="606.96" cy="436.84" r="2.7" fill="url(#g5)"/>
<circle cx="609.76" cy="436.15" r="2.7" fill="url(#g5)"/>
<circle cx="612.56" cy="437.05" r="2.7" fill="url(#g5)"/>
<circle cx="615.36" cy="437.25" r="2.7" fill="url(#g5)"/>
<circle cx="618.17" cy="437.31" r="2.7" fill="url(#g5)"/>
<circle cx="620.97" cy="436.49" r="2.7" fill="url(#g5)"/>
<circle cx="623.77" cy="436.38" r="2.7" fill="url(#g5)"/>
<circle cx="626.58" cy="437.18" r="2.7" fill="url(#g5)"/>
<circle cx="629.38" cy="439.2" r="2.7" fill="url(#g5)"/>
<circle cx="632.18" cy="439.23" r="2.7" fill="url(#g5)"/>
<circle cx="634.99" cy="439.9" r="2.7" fill="url(#g5)"/>
<circle cx="637.79" cy="440.34" r="2.7" fill="url(#g5)"/>
<circle cx="640.59" cy="440.24" r="2.7" fill="url(#g5)"/>
<circle cx="643.39" cy="439.67" r="2.7" fill="url(#g5)"/>
<circle cx="646.2" cy="439.94" r="2.7" fill="url(#g5)"/>
<circle cx="649" cy="440.18" r="2.7" fill="url(#g5)"/>
<circle cx="91.2" cy="349.04" r="2.7" fill="url(#g4)"/>
<circle cx="94.01" cy="381.01" r="2.7" fill="url(#g4)"/>
<circle cx="96.81" cy="396" r="2.7" fill="url(#g4)"/>
<circle cx="99.61" cy="408.03" r="2.7" fill="url(#g4)"/>
<circle cx="102.42" cy="418.71" r="2.7" fill="url(#g4)"/>
<circle cx="105.22" cy="420.38" r="2.7" fill="url(#g4)"/>
<circle cx="108.02" cy="422.01" r="2.7" fill="url(#g4)"/>
<circle cx="110.82" cy="425.1" r="2.7" fill="url(#g4)"/>
<circle cx="113.63" cy="426.47" r="2.7" fill="url(#g4)"/>
<circle cx="116.43" cy="428.65" r="2.7" fill="url(#g4)"/>
<circle cx="119.23" cy="429.33" r="2.7" fill="url(#g4)"/>
<circle cx="122.04" cy="428.82" r="2.7" fill="url(#g4)"/>
<circle cx="124.84" cy="429.24" r="2.7" fill="url(#g4)"/>
<circle cx="127.64" cy="430.52" r="2.7" fill="url(#g4)"/>
<circle cx="130.44" cy="430.57" r="2.7" fill="url(#g4)"/>
<circle cx="133.25" cy="430.1" r="2.7" fill="url(#g4)"/>
<circle cx="136.05" cy="430.44" r="2.7" fill="url(#g4)"/>
<circle cx="138.85" cy="430.89" r="2.7" fill="url(#g4)"/>
<circle cx="141.66" cy="432.5" r="2.7" fill="url(#g4)"/>
<circle cx="144.46" cy="432.75" r="2.7" fill="url(#g4)"/>
<circle cx="147.26" cy="432.11" r="2.7" fill="url(#g4)"/>
<circle cx="150.07" cy="433.45" r="2.7" fill="url(#g4)"/>
<circle cx="152.87" cy="433.31" r="2.7" fill="url(#g4)"/>
<circle cx="155.67" cy="432.42" r="2.7" fill="url(#g4)"/>
<circle cx="158.47" cy="431.55" r="2.7" fill="url(#g4)"/>
<circle cx="161.28" cy="431.49" r="2.7" fill="url(#g4)"/>
<circle cx="164.08" cy="430.45" r="2.7" fill="url(#g4)"/>
<circle cx="166.88" cy="429.88" r="2.7" fill="url(#g4)"/>
<circle cx="169.69" cy="431.04" r="2.7" fill="url(#g4)"/>
<circle cx="172.49" cy="430.08" r="2.7" fill="url(#g4)"/>
<circle cx="175.29" cy="429.42" r="2.7" fill="url(#g4)"/>
<circle cx="178.1" cy="429.6" r="2.7" fill="url(#g4)"/>
<circle cx="180.9" cy="428.34" r="2.7" fill="url(#g4)"/>
<circle cx="183.7" cy="428.58" r="2.7" fill="url(#g4)"/>
<circle cx="186.5" cy="428.04" r="2.7" fill="url(#g4)"/>
<circle cx="189.31" cy="426.59" r="2.7" fill="url(#g4)"/>
<circle cx="192.11" cy="426.19" r="2.7" fill="url(#g4)"/>
<circle cx="194.91" cy="425.8" r="2.7" fill="url(#g4)"/>
<circle cx="197.72" cy="425.25" r="2.7" fill="url(#g4)"/>
<circle cx="200.52" cy="425.72" r="2.7" fill="url(#g4)"/>
<circle cx="203.32" cy="425.33" r="2.7" fill="url(#g4)"/>
<circle cx="206.13" cy="425.72" r="2.7" fill="url(#g4)"/>
<circle cx="208.93" cy="425.39" r="2.7" fill="url(#g4)"/>
<circle cx="211.73" cy="426.77" r="2.7" fill="url(#g4)"/>
<circle cx="214.53" cy="426.02" r="2.7" fill="url(#g4)"/>
<circle cx="217.34" cy="426.32" r="2.7" fill="url(#g4)"/>
<circle cx="220.14" cy="425.81" r="2.7" fill="url(#g4)"/>
<circle cx="222.94" cy="425.5" r="2.7" fill="url(#g4)"/>
<circle cx="225.75" cy="423.9" r="2.7" fill="url(#g4)"/>
<circle cx="228.55" cy="423.87" r="2.7" fill="url(#g4)"/>
<circle cx="231.35" cy="422.38" r="2.7" fill="url(#g4)"/>
<circle cx="234.16" cy="421.6" r="2.7" fill="url(#g4)"/>
<circle cx="236.96" cy="420.77" r="2.7" fill="url(#g4)"/>
<circle cx="239.76" cy="419.25" r="2.7" fill="url(#g4)"/>
<circle cx="242.56" cy="419.21" r="2.7" fill="url(#g4)"/>
<circle cx="245.37" cy="418.09" r="2.7" fill="url(#g4)"/>
<circle cx="248.17" cy="417.09" r="2.7" fill="url(#g4)"/>
<circle cx="250.97" cy="417.65" r="2.7" fill="url(#g4)"/>
<circle cx="253.78" cy="415.94" r="2.7" fill="url(#g4)"/>
<circle cx="256.58" cy="415.57" r="2.7" fill="url(#g4)"/>
<circle cx="259.38" cy="414.86" r="2.7" fill="url(#g4)"/>
<circle cx="262.19" cy="413.48" r="2.7" fill="url(#g4)"/>
<circle cx="264.99" cy="412.01" r="2.7" fill="url(#g4)"/>
<circle cx="267.79" cy="411.2" r="2.7" fill="url(#g4)"/>
<circle cx="270.59" cy="410.13" r="2.7" fill="url(#g4)"/>
<circle cx="273.4" cy="409.25" r="2.7" fill="url(#g4)"/>
<circle cx="276.2" cy="406.93" r="2.7" fill="url(#g4)"/>
<circle cx="279" cy="406.42" r="2.7" fill="url(#g4)"/>
<circle cx="281.81" cy="404.69" r="2.7" fill="url(#g4)"/>
<circle cx="284.61" cy="403.49" r="2.7" fill="url(#g4)"/>
<circle cx="287.41" cy="403.05" r="2.7" fill="url(#g4)"/>
<circle cx="290.22" cy="401.39" r="2.7" fill="url(#g4)"/>
<circle cx="293.02" cy="400.24" r="2.7" fill="url(#g4)"/>
<circle cx="295.82" cy="399.67" r="2.7" fill="url(#g4)"/>
<circle cx="298.62" cy="403.1" r="2.7" fill="url(#g4)"/>
<circle cx="301.43" cy="405.53" r="2.7" fill="url(#g4)"/>
<circle cx="304.23" cy="407.19" r="2.7" fill="url(#g4)"/>
<circle cx="307.03" cy="407.72" r="2.7" fill="url(#g4)"/>
<circle cx="309.84" cy="408.4" r="2.7" fill="url(#g4)"/>
<circle cx="312.64" cy="407.29" r="2.7" fill="url(#g4)"/>
<circle cx="315.44" cy="405.5" r="2.7" fill="url(#g4)"/>
<circle cx="318.25" cy="404.35" r="2.7" fill="url(#g4)"/>
<circle cx="321.05" cy="403.28" r="2.7" fill="url(#g4)"/>
<circle cx="323.85" cy="403.03" r="2.7" fill="url(#g4)"/>
<circle cx="326.65" cy="401.65" r="2.7" fill="url(#g4)"/>
<circle cx="329.46" cy="400.94" r="2.7" fill="url(#g4)"/>
<circle cx="332.26" cy="400.8" r="2.7" fill="url(#g4)"/>
<circle cx="335.06" cy="400.06" r="2.7" fill="url(#g4)"/>
<circle cx="337.87" cy="400.9" r="2.7" fill="url(#g4)"/>
<circle cx="340.67" cy="401.86" r="2.7" fill="url(#g4)"/>
<circle cx="343.47" cy="402.05" r="2.7" fill="url(#g4)"/>
<circle cx="346.28" cy="401.27" r="2.7" fill="url(#g4)"/>
<circle cx="349.08" cy="401.52" r="2.7" fill="url(#g4)"/>
<circle cx="351.88" cy="402.32" r="2.7" fill="url(#g4)"/>
<circle cx="354.68" cy="402" r="2.7" fill="url(#g4)"/>
<circle cx="357.49" cy="402.55" r="2.7" fill="url(#g4)"/>
<circle cx="360.29" cy="402.57" r="2.7" fill="url(#g4)"/>
<circle cx="363.09" cy="403.8" r="2.7" fill="url(#g4)"/>
<circle cx="365.9" cy="404.54" r="2.7" fill="url(#g4)"/>
<circle cx="368.7" cy="405.72" r="2.7" fill="url(#g4)"/>
<circle cx="371.5" cy="405.53" r="2.7" fill="url(#g4)"/>
<circle cx="374.31" cy="407.43" r="2.7" fill="url(#g4)"/>
<circle cx="377.11" cy="408.34" r="2.7" fill="url(#g4)"/>
<circle cx="379.91" cy="405.92" r="2.7" fill="url(#g4)"/>
<circle cx="382.71" cy="404.3" r="2.7" fill="url(#g4)"/>
<circle cx="385.52" cy="403.91" r="2.7" fill="url(#g4)"/>
<circle cx="388.32" cy="403.42" r="2.7" fill="url(#g4)"/>
<circle cx="391.12" cy="405.3" r="2.7" fill="url(#g4)"/>
<circle cx="393.93" cy="405.12" r="2.7" fill="url(#g4)"/>
<circle cx="396.73" cy="405.97" r="2.7" fill="url(#g4)"/>
<circle cx="399.53" cy="407.48" r="2.7" fill="url(#g4)"/>
<circle cx="402.34" cy="407.94" r="2.7" fill="url(#g4)"/>
<circle cx="405.14" cy="408.38" r="2.7" fill="url(#g4)"/>
<circle cx="407.94" cy="410.45" r="2.7" fill="url(#g4)"/>
<circle cx="410.74" cy="412.22" r="2.7" fill="url(#g4)"/>
<circle cx="413.55" cy="413.58" r="2.7" fill="url(#g4)"/>
<circle cx="416.35" cy="413.87" r="2.7" fill="url(#g4)"/>
<circle cx="419.15" cy="414.37" r="2.7" fill="url(#g4)"/>
<circle cx="421.96" cy="415.32" r="2.7" fill="url(#g4)"/>
<circle cx="424.76" cy="414.5" r="2.7" fill="url(#g4)"/>
<circle cx="427.56" cy="415.67" r="2.7" fill="url(#g4)"/>
<circle cx="430.37" cy="415.79" r="2.7" fill="url(#g4)"/>
<circle cx="433.17" cy="415.42" r="2.7" fill="url(#g4)"/>
<circle cx="435.97" cy="416.23" r="2.7" fill="url(#g4)"/>
<circle cx="438.77" cy="417" r="2.7" fill="url(#g4)"/>
<circle cx="441.58" cy="417.41" r="2.7" fill="url(#g4)"/>
<circle cx="444.38" cy="417.8" r="2.7" fill="url(#g4)"/>
<circle cx="447.18" cy="420.38" r="2.7" fill="url(#g4)"/>
<circle cx="449.99" cy="421.18" r="2.7" fill="url(#g4)"/>
<circle cx="452.79" cy="422.58" r="2.7" fill="url(#g4)"/>
<circle cx="455.59" cy="422.11" r="2.7" fill="url(#g4)"/>
<circle cx="458.4" cy="422.57" r="2.7" fill="url(#g4)"/>
<circle cx="461.2" cy="422.42" r="2.7" fill="url(#g4)"/>
<circle cx="464" cy="423.81" r="2.7" fill="url(#g4)"/>
<circle cx="466.8" cy="423.2" r="2.7" fill="url(#g4)"/>
<circle cx="469.61" cy="423.18" r="2.7" fill="url(#g4)"/>
<circle cx="472.41" cy="423.85" r="2.7" fill="url(#g4)"/>
<circle cx="475.21" cy="424.84" r="2.7" fill="url(#g4)"/>
<circle cx="478.02" cy="424.89" r="2.7" fill="url(#g4)"/>
<circle cx="480.82" cy="424.36" r="2.7" fill="url(#g4)"/>
<circle cx="483.62" cy="424.74" r="2.7" fill="url(#g4)"/>
<circle cx="486.43" cy="426.54" r="2.7" fill="url(#g4)"/>
<circle cx="489.23" cy="426.52" r="2.7" fill="url(#g4)"/>
<circle cx="492.03" cy="426.81" r="2.7" fill="url(#g4)"/>
<circle cx="494.83" cy="425.92" r="2.7" fill="url(#g4)"/>
<circle cx="497.64" cy="425.96" r="2.7" fill="url(#g4)"/>
<circle cx="500.44" cy="427.06" r="2.7" fill="url(#g4)"/>
<circle cx="503.24" cy="426.72" r="2.7" fill="url(#g4)"/>
<circle cx="506.05" cy="426.25" r="2.7" fill="url(#g4)"/>
<circle cx="508.85" cy="427.72" r="2.7" fill="url(#g4)"/>
<circle cx="511.65" cy="427.32" r="2.7" fill="url(#g4)"/>
<circle cx="514.46" cy="427.68" r="2.7" fill="url(#g4)"/>
<circle cx="517.26" cy="426.62" r="2.7" fill="url(#g4)"/>
<circle cx="520.06" cy="427.94" r="2.7" fill="url(#g4)"/>
<circle cx="522.87" cy="426.76" r="2.7" fill="url(#g4)"/>
<circle cx="525.67" cy="428.13" r="2.7" fill="url(#g4)"/>
<circle cx="528.47" cy="427.56" r="2.7" fill="url(#g4)"/>
<circle cx="531.27" cy="427.46" r="2.7" fill="url(#g4)"/>
<circle cx="534.08" cy="427.89" r="2.7" fill="url(#g4)"/>
<circle cx="536.88" cy="428.58" r="2.7" fill="url(#g4)"/>
<circle cx="539.68" cy="427.61" r="2.7" fill="url(#g4)"/>
<circle cx="542.49" cy="427.48" r="2.7" fill="url(#g4)"/>
<circle cx="545.29" cy="428.2" r="2.7" fill="url(#g4)"/>
<circle cx="548.09" cy="427.83" r="2.7" fill="url(#g4)"/>
<circle cx="550.89" cy="427.74" r="2.7" fill="url(#g4)"/>
<circle cx="553.7" cy="428.01" r="2.7" fill="url(#g4)"/>
<circle cx="556.5" cy="428" r="2.7" fill="url(#g4)"/>
<circle cx="559.3" cy="428.42" r="2.7" fill="url(#g4)"/>
<circle cx="562.11" cy="428.78" r="2.7" fill="url(#g4)"/>
<circle cx="564.91" cy="428.94" r="2.7" fill="url(#g4)"/>
<circle cx="567.71" cy="429.85" r="2.7" fill="url(#g4)"/>
<circle cx="570.52" cy="429.28" r="2.7" fill="url(#g4)"/>
<circle cx="573.32" cy="429.79" r="2.7" fill="url(#g4)"/>
<circle cx="576.12" cy="429.45" r="2.7" fill="url(#g4)"/>
<circle cx="578.92" cy="429.9" r="2.7" fill="url(#g4)"/>
<circle cx="581.73" cy="429.55" r="2.7" fill="url(#g4)"/>
<circle cx="584.53" cy="430.1" r="2.7" fill="url(#g4)"/>
<circle cx="587.33" cy="429.9" r="2.7" fill="url(#g4)"/>
<circle cx="590.14" cy="431.23" r="2.7" fill="url(#g4)"/>
<circle cx="592.94" cy="431.11" r="2.7" fill="url(#g4)"/>
<circle cx="595.74" cy="430.71" r="2.7" fill="url(#g4)"/>
<circle cx="598.55" cy="431.35" r="2.7" fill="url(#g4)"/>
<circle cx="601.35" cy="432.26" r="2.7" fill="url(#g4)"/>
<circle cx="604.15" cy="431.11" r="2.7" fill="url(#g4)"/>
<circle cx="606.96" cy="432.43" r="2.7" fill="url(#g4)"/>
<circle cx="609.76" cy="431.99" r="2.7" fill="url(#g4)"/>
<circle cx="612.56" cy="432.27" r="2.7" fill="url(#g4)"/>
<circle cx="615.36" cy="432.99" r="2.7" fill="url(#g4)"/>
<circle cx="618.17" cy="432.46" r="2.7" fill="url(#g4)"/>
<circle cx="620.97" cy="432.82" r="2.7" fill="url(#g4)"/>
<circle cx="623.77" cy="433.28" r="2.7" fill="url(#g4)"/>
<circle cx="626.58" cy="434.36" r="2.7" fill="url(#g4)"/>
<circle cx="629.38" cy="434.74" r="2.7" fill="url(#g4)"/>
<circle cx="632.18" cy="435.53" r="2.7" fill="url(#g4)"/>
<circle cx="634.99" cy="435.33" r="2.7" fill="url(#g4)"/>
<circle cx="637.79" cy="435.22" r="2.7" fill="url(#g4)"/>
<circle cx="640.59" cy="434.85" r="2.7" fill="url(#g4)"/>
<circle cx="643.39" cy="434.76" r="2.7" fill="url(#g4)"/>
<circle cx="646.2" cy="434.29" r="2.7" fill="url(#g4)"/>
<circle cx="649" cy="434.41" r="2.7" fill="url(#g4)"/>
<circle cx="91.2" cy="376.56" r="2.7" fill="url(#g2)"/>
<circle cx="94.01" cy="393.92" r="2.7" fill="url(#g2)"/>
<circle cx="96.81" cy="395.5" r="2.7" fill="url(#g2)"/>
<circle cx="99.61" cy="402.37" r="2.7" fill="url(#g2)"/>
<circle cx="102.42" cy="408.04" r="2.7" fill="url(#g2)"/>
<circle cx="105.22" cy="412.56" r="2.7" fill="url(#g2)"/>
<circle cx="108.02" cy="414.85" r="2.7" fill="url(#g2)"/>
<circle cx="110.82" cy="416.95" r="2.7" fill="url(#g2)"/>
<circle cx="113.63" cy="418.83" r="2.7" fill="url(#g2)"/>
<circle cx="116.43" cy="420.05" r="2.7" fill="url(#g2)"/>
<circle cx="119.23" cy="421.34" r="2.7" fill="url(#g2)"/>
<circle cx="122.04" cy="422.73" r="2.7" fill="url(#g2)"/>
<circle cx="124.84" cy="423.74" r="2.7" fill="url(#g2)"/>
<circle cx="127.64" cy="425.23" r="2.7" fill="url(#g2)"/>
<circle cx="130.44" cy="426.34" r="2.7" fill="url(#g2)"/>
<circle cx="133.25" cy="428" r="2.7" fill="url(#g2)"/>
<circle cx="136.05" cy="428.78" r="2.7" fill="url(#g2)"/>
<circle cx="138.85" cy="429.21" r="2.7" fill="url(#g2)"/>
<circle cx="141.66" cy="429.74" r="2.7" fill="url(#g2)"/>
<circle cx="144.46" cy="431.09" r="2.7" fill="url(#g2)"/>
<circle cx="147.26" cy="431.33" r="2.7" fill="url(#g2)"/>
<circle cx="150.07" cy="432.04" r="2.7" fill="url(#g2)"/>
<circle cx="152.87" cy="432.03" r="2.7" fill="url(#g2)"/>
<circle cx="155.67" cy="432.61" r="2.7" fill="url(#g2)"/>
<circle cx="158.47" cy="432.96" r="2.7" fill="url(#g2)"/>
<circle cx="161.28" cy="433.25" r="2.7" fill="url(#g2)"/>
<circle cx="164.08" cy="433.28" r="2.7" fill="url(#g2)"/>
<circle cx="166.88" cy="433.8" r="2.7" fill="url(#g2)"/>
<circle cx="169.69" cy="433.67" r="2.7" fill="url(#g2)"/>
<circle cx="172.49" cy="434.15" r="2.7" fill="url(#g2)"/>
<circle cx="175.29" cy="434.29" r="2.7" fill="url(#g2)"/>
<circle cx="178.1" cy="434.81" r="2.7" fill="url(#g2)"/>
<circle cx="180.9" cy="434.8" r="2.7" fill="url(#g2)"/>
<circle cx="183.7" cy="435.05" r="2.7" fill="url(#g2)"/>
<circle cx="186.5" cy="435.55" r="2.7" fill="url(#g2)"/>
<circle cx="189.31" cy="435.77" r="2.7" fill="url(#g2)"/>
<circle cx="192.11" cy="436.33" r="2.7" fill="url(#g2)"/>
<circle cx="194.91" cy="436.55" r="2.7" fill="url(#g2)"/>
<circle cx="197.72" cy="437" r="2.7" fill="url(#g2)"/>
<circle cx="200.52" cy="437.17" r="2.7" fill="url(#g2)"/>
<circle cx="203.32" cy="437.43" r="2.7" fill="url(#g2)"/>
<circle cx="206.13" cy="437.77" r="2.7" fill="url(#g2)"/>
<circle cx="208.93" cy="437.59" r="2.7" fill="url(#g2)"/>
<circle cx="211.73" cy="437.76" r="2.7" fill="url(#g2)"/>
<circle cx="214.53" cy="438.5" r="2.7" fill="url(#g2)"/>
<circle cx="217.34" cy="438.04" r="2.7" fill="url(#g2)"/>
<circle cx="220.14" cy="438.72" r="2.7" fill="url(#g2)"/>
<circle cx="222.94" cy="438.87" r="2.7" fill="url(#g2)"/>
<circle cx="225.75" cy="438.6" r="2.7" fill="url(#g2)"/>
<circle cx="228.55" cy="439.45" r="2.7" fill="url(#g2)"/>
<circle cx="231.35" cy="439.71" r="2.7" fill="url(#g2)"/>
<circle cx="234.16" cy="439.71" r="2.7" fill="url(#g2)"/>
<circle cx="236.96" cy="440.01" r="2.7" fill="url(#g2)"/>
<circle cx="239.76" cy="440.29" r="2.7" fill="url(#g2)"/>
<circle cx="242.56" cy="439.97" r="2.7" fill="url(#g2)"/>
<circle cx="245.37" cy="440.49" r="2.7" fill="url(#g2)"/>
<circle cx="248.17" cy="440.69" r="2.7" fill="url(#g2)"/>
<circle cx="250.97" cy="441.17" r="2.7" fill="url(#g2)"/>
<circle cx="253.78" cy="441.36" r="2.7" fill="url(#g2)"/>
<circle cx="256.58" cy="441.59" r="2.7" fill="url(#g2)"/>
<circle cx="259.38" cy="441.61" r="2.7" fill="url(#g2)"/>
<circle cx="262.19" cy="442.07" r="2.7" fill="url(#g2)"/>
<circle cx="264.99" cy="442.12" r="2.7" fill="url(#g2)"/>
<circle cx="267.79" cy="442.34" r="2.7" fill="url(#g2)"/>
<circle cx="270.59" cy="442.18" r="2.7" fill="url(#g2)"/>
<circle cx="273.4" cy="442.24" r="2.7" fill="url(#g2)"/>
<circle cx="276.2" cy="442.53" r="2.7" fill="url(#g2)"/>
<circle cx="279" cy="442.93" r="2.7" fill="url(#g2)"/>
<circle cx="281.81" cy="442.94" r="2.7" fill="url(#g2)"/>
<circle cx="284.61" cy="443.74" r="2.7" fill="url(#g2)"/>
<circle cx="287.41" cy="443.64" r="2.7" fill="url(#g2)"/>
<circle cx="290.22" cy="443.8" r="2.7" fill="url(#g2)"/>
<circle cx="293.02" cy="443.9" r="2.7" fill="url(#g2)"/>
<circle cx="295.82" cy="444.05" r="2.7" fill="url(#g2)"/>
<circle cx="298.62" cy="444.01" r="2.7" fill="url(#g2)"/>
<circle cx="301.43" cy="443.72" r="2.7" fill="url(#g2)"/>
<circle cx="304.23" cy="444.47" r="2.7" fill="url(#g2)"/>
<circle cx="307.03" cy="444.53" r="2.7" fill="url(#g2)"/>
<circle cx="309.84" cy="444.44" r="2.7" fill="url(#g2)"/>
<circle cx="312.64" cy="444.57" r="2.7" fill="url(#g2)"/>
<circle cx="315.44" cy="444.78" r="2.7" fill="url(#g2)"/>
<circle cx="318.25" cy="444.41" r="2.7" fill="url(#g2)"/>
<circle cx="321.05" cy="445.05" r="2.7" fill="url(#g2)"/>
<circle cx="323.85" cy="444.77" r="2.7" fill="url(#g2)"/>
<circle cx="326.65" cy="444.74" r="2.7" fill="url(#g2)"/>
<circle cx="329.46" cy="444.99" r="2.7" fill="url(#g2)"/>
<circle cx="332.26" cy="445.47" r="2.7" fill="url(#g2)"/>
<circle cx="335.06" cy="445.16" r="2.7" fill="url(#g2)"/>
<circle cx="337.87" cy="445.69" r="2.7" fill="url(#g2)"/>
<circle cx="340.67" cy="445.99" r="2.7" fill="url(#g2)"/>
<circle cx="343.47" cy="445.71" r="2.7" fill="url(#g2)"/>
<circle cx="346.28" cy="445.72" r="2.7" fill="url(#g2)"/>
<circle cx="349.08" cy="445.91" r="2.7" fill="url(#g2)"/>
<circle cx="351.88" cy="446.18" r="2.7" fill="url(#g2)"/>
<circle cx="354.68" cy="446.35" r="2.7" fill="url(#g2)"/>
<circle cx="357.49" cy="446.34" r="2.7" fill="url(#g2)"/>
<circle cx="360.29" cy="446.46" r="2.7" fill="url(#g2)"/>
<circle cx="363.09" cy="446.12" r="2.7" fill="url(#g2)"/>
<circle cx="365.9" cy="446.28" r="2.7" fill="url(#g2)"/>
<circle cx="368.7" cy="446.47" r="2.7" fill="url(#g2)"/>
<circle cx="371.5" cy="446.97" r="2.7" fill="url(#g2)"/>
<circle cx="374.31" cy="446.72" r="2.7" fill="url(#g2)"/>
<circle cx="377.11" cy="447.04" r="2.7" fill="url(#g2)"/>
<circle cx="379.91" cy="446.7" r="2.7" fill="url(#g2)"/>
<circle cx="382.71" cy="446.85" r="2.7" fill="url(#g2)"/>
<circle cx="385.52" cy="447.12" r="2.7" fill="url(#g2)"/>
<circle cx="388.32" cy="447.55" r="2.7" fill="url(#g2)"/>
<circle cx="391.12" cy="447.67" r="2.7" fill="url(#g2)"/>
<circle cx="393.93" cy="447.76" r="2.7" fill="url(#g2)"/>
<circle cx="396.73" cy="447.56" r="2.7" fill="url(#g2)"/>
<circle cx="399.53" cy="447.85" r="2.7" fill="url(#g2)"/>
<circle cx="402.34" cy="447.91" r="2.7" fill="url(#g2)"/>
<circle cx="405.14" cy="448.02" r="2.7" fill="url(#g2)"/>
<circle cx="407.94" cy="447.85" r="2.7" fill="url(#g2)"/>
<circle cx="410.74" cy="448.57" r="2.7" fill="url(#g2)"/>
<circle cx="413.55" cy="448.12" r="2.7" fill="url(#g2)"/>
<circle cx="416.35" cy="448.85" r="2.7" fill="url(#g2)"/>
<circle cx="419.15" cy="448.93" r="2.7" fill="url(#g2)"/>
<circle cx="421.96" cy="448.3" r="2.7" fill="url(#g2)"/>
<circle cx="424.76" cy="448.76" r="2.7" fill="url(#g2)"/>
<circle cx="427.56" cy="449.15" r="2.7" fill="url(#g2)"/>
<circle cx="430.37" cy="449.37" r="2.7" fill="url(#g2)"/>
<circle cx="433.17" cy="449.07" r="2.7" fill="url(#g2)"/>
<circle cx="435.97" cy="449.03" r="2.7" fill="url(#g2)"/>
<circle cx="438.77" cy="449.09" r="2.7" fill="url(#g2)"/>
<circle cx="441.58" cy="449.78" r="2.7" fill="url(#g2)"/>
<circle cx="444.38" cy="449.3" r="2.7" fill="url(#g2)"/>
<circle cx="447.18" cy="449.7" r="2.7" fill="url(#g2)"/>
<circle cx="449.99" cy="449.46" r="2.7" fill="url(#g2)"/>
<circle cx="452.79" cy="449.87" r="2.7" fill="url(#g2)"/>
<circle cx="455.59" cy="450.32" r="2.7" fill="url(#g2)"/>
<circle cx="458.4" cy="449.77" r="2.7" fill="url(#g2)"/>
<circle cx="461.2" cy="450.42" r="2.7" fill="url(#g2)"/>
<circle cx="464" cy="450.28" r="2.7" fill="url(#g2)"/>
<circle cx="466.8" cy="450.69" r="2.7" fill="url(#g2)"/>
<circle cx="469.61" cy="450.65" r="2.7" fill="url(#g2)"/>
<circle cx="472.41" cy="450.3" r="2.7" fill="url(#g2)"/>
<circle cx="475.21" cy="450.85" r="2.7" fill="url(#g2)"/>
<circle cx="478.02" cy="450.54" r="2.7" fill="url(#g2)"/>
<circle cx="480.82" cy="450.19" r="2.7" fill="url(#g2)"/>
<circle cx="483.62" cy="450.19" r="2.7" fill="url(#g2)"/>
<circle cx="486.43" cy="450.6" r="2.7" fill="url(#g2)"/>
<circle cx="489.23" cy="450.59" r="2.7" fill="url(#g2)"/>
<circle cx="492.03" cy="450.49" r="2.7" fill="url(#g2)"/>
<circle cx="494.83" cy="450.38" r="2.7" fill="url(#g2)"/>
<circle cx="497.64" cy="450.56" r="2.7" fill="url(#g2)"/>
<circle cx="500.44" cy="450.56" r="2.7" fill="url(#g2)"/>
<circle cx="503.24" cy="451" r="2.7" fill="url(#g2)"/>
<circle cx="506.05" cy="450.34" r="2.7" fill="url(#g2)"/>
<circle cx="508.85" cy="450.96" r="2.7" fill="url(#g2)"/>
<circle cx="511.65" cy="451.05" r="2.7" fill="url(#g2)"/>
<circle cx="514.46" cy="450.49" r="2.7" fill="url(#g2)"/>
<circle cx="517.26" cy="451.16" r="2.7" fill="url(#g2)"/>
<circle cx="520.06" cy="451.01" r="2.7" fill="url(#g2)"/>
<circle cx="522.87" cy="451.18" r="2.7" fill="url(#g2)"/>
<circle cx="525.67" cy="450.71" r="2.7" fill="url(#g2)"/>
<circle cx="528.47" cy="450.79" r="2.7" fill="url(#g2)"/>
<circle cx="531.27" cy="450.83" r="2.7" fill="url(#g2)"/>
<circle cx="534.08" cy="451.33" r="2.7" fill="url(#g2)"/>
<circle cx="536.88" cy="451.02" r="2.7" fill="url(#g2)"/>
<circle cx="539.68" cy="450.86" r="2.7" fill="url(#g2)"/>
<circle cx="542.49" cy="450.93" r="2.7" fill="url(#g2)"/>
<circle cx="545.29" cy="450.82" r="2.7" fill="url(#g2)"/>
<circle cx="548.09" cy="450.66" r="2.7" fill="url(#g2)"/>
<circle cx="550.89" cy="450.72" r="2.7" fill="url(#g2)"/>
<circle cx="553.7" cy="451.33" r="2.7" fill="url(#g2)"/>
<circle cx="556.5" cy="450.91" r="2.7" fill="url(#g2)"/>
<circle cx="559.3" cy="451.45" r="2.7" fill="url(#g2)"/>
<circle cx="562.11" cy="450.92" r="2.7" fill="url(#g2)"/>
<circle cx="564.91" cy="450.95" r="2.7" fill="url(#g2)"/>
<circle cx="567.71" cy="451.16" r="2.7" fill="url(#g2)"/>
<circle cx="570.52" cy="450.93" r="2.7" fill="url(#g2)"/>
<circle cx="573.32" cy="451.09" r="2.7" fill="url(#g2)"/>
<circle cx="576.12" cy="451.58" r="2.7" fill="url(#g2)"/>
<circle cx="578.92" cy="451.54" r="2.7" fill="url(#g2)"/>
<circle cx="581.73" cy="451.5" r="2.7" fill="url(#g2)"/>
<circle cx="584.53" cy="451.37" r="2.7" fill="url(#g2)"/>
<circle cx="587.33" cy="451.62" r="2.7" fill="url(#g2)"/>
<circle cx="590.14" cy="451.66" r="2.7" fill="url(#g2)"/>
<circle cx="592.94" cy="451.36" r="2.7" fill="url(#g2)"/>
<circle cx="595.74" cy="451.52" r="2.7" fill="url(#g2)"/>
<circle cx="598.55" cy="451" r="2.7" fill="url(#g2)"/>
<circle cx="601.35" cy="451.57" r="2.7" fill="url(#g2)"/>
<circle cx="604.15" cy="451.36" r="2.7" fill="url(#g2)"/>
<circle cx="606.96" cy="451.62" r="2.7" fill="url(#g2)"/>
<circle cx="609.76" cy="451.55" r="2.7" fill="url(#g2)"/>
<circle cx="612.56" cy="451.28" r="2.7" fill="url(#g2)"/>
<circle cx="615.36" cy="451.11" r="2.7" fill="url(#g2)"/>
<circle cx="618.17" cy="451.83" r="2.7" fill="url(#g2)"/>
<circle cx="620.97" cy="451.21" r="2.7" fill="url(#g2)"/>
<circle cx="623.77" cy="451.51" r="2.7" fill="url(#g2)"/>
<circle cx="626.58" cy="451.42" r="2.7" fill="url(#g2)"/>
<circle cx="629.38" cy="451.41" r="2.7" fill="url(#g2)"/>
<circle cx="632.18" cy="451.78" r="2.7" fill="url(#g2)"/>
<circle cx="634.99" cy="451.99" r="2.7" fill="url(#g2)"/>
<circle cx="637.79" cy="451.43" r="2.7" fill="url(#g2)"/>
<circle cx="640.59" cy="451.77" r="2.7" fill="url(#g2)"/>
<circle cx="643.39" cy="451.5" r="2.7" fill="url(#g2)"/>
<circle cx="646.2" cy="451.73" r="2.7" fill="url(#g2)"/>
<circle cx="649" cy="451.62" r="2.7" fill="url(#g2)"/>
<circle cx="91.2" cy="397.33" r="2.7" fill="url(#g3)"/>
<circle cx="94.01" cy="402.18" r="2.7" fill="url(#g3)"/>
<circle cx="96.81" cy="407.87" r="2.7" fill="url(#g3)"/>
<circle cx="99.61" cy="414.37" r="2.7" fill="url(#g3)"/>
<circle cx="102.42" cy="417.06" r="2.7" fill="url(#g3)"/>
<circle cx="105.22" cy="419.84" r="2.7" fill="url(#g3)"/>
<circle cx="108.02" cy="422.39" r="2.7" fill="url(#g3)"/>
<circle cx="110.82" cy="424.13" r="2.7" fill="url(#g3)"/>
<circle cx="113.63" cy="425.36" r="2.7" fill="url(#g3)"/>
<circle cx="116.43" cy="426.43" r="2.7" fill="url(#g3)"/>
<circle cx="119.23" cy="427.26" r="2.7" fill="url(#g3)"/>
<circle cx="122.04" cy="427.96" r="2.7" fill="url(#g3)"/>
<circle cx="124.84" cy="428.95" r="2.7" fill="url(#g3)"/>
<circle cx="127.64" cy="429.54" r="2.7" fill="url(#g3)"/>
<circle cx="130.44" cy="430.44" r="2.7" fill="url(#g3)"/>
<circle cx="133.25" cy="431.21" r="2.7" fill="url(#g3)"/>
<circle cx="136.05" cy="432.15" r="2.7" fill="url(#g3)"/>
<circle cx="138.85" cy="433.09" r="2.7" fill="url(#g3)"/>
<circle cx="141.66" cy="433.67" r="2.7" fill="url(#g3)"/>
<circle cx="144.46" cy="434.09" r="2.7" fill="url(#g3)"/>
<circle cx="147.26" cy="434.78" r="2.7" fill="url(#g3)"/>
<circle cx="150.07" cy="435.49" r="2.7" fill="url(#g3)"/>
<circle cx="152.87" cy="435.73" r="2.7" fill="url(#g3)"/>
<circle cx="155.67" cy="436.05" r="2.7" fill="url(#g3)"/>
<circle cx="158.47" cy="436.18" r="2.7" fill="url(#g3)"/>
<circle cx="161.28" cy="436.71" r="2.7" fill="url(#g3)"/>
<circle cx="164.08" cy="437.61" r="2.7" fill="url(#g3)"/>
<circle cx="166.88" cy="437.29" r="2.7" fill="url(#g3)"/>
<circle cx="169.69" cy="437.95" r="2.7" fill="url(#g3)"/>
<circle cx="172.49" cy="438.4" r="2.7" fill="url(#g3)"/>
<circle cx="175.29" cy="438.94" r="2.7" fill="url(#g3)"/>
<circle cx="178.1" cy="438.78" r="2.7" fill="url(#g3)"/>
<circle cx="180.9" cy="439.17" r="2.7" fill="url(#g3)"/>
<circle cx="183.7" cy="439.51" r="2.7" fill="url(#g3)"/>
<circle cx="186.5" cy="439.98" r="2.7" fill="url(#g3)"/>
<circle cx="189.31" cy="440.37" r="2.7" fill="url(#g3)"/>
<circle cx="192.11" cy="441.13" r="2.7" fill="url(#g3)"/>
<circle cx="194.91" cy="441.4" r="2.7" fill="url(#g3)"/>
<circle cx="197.72" cy="441.77" r="2.7" fill="url(#g3)"/>
<circle cx="200.52" cy="441.34" r="2.7" fill="url(#g3)"/>
<circle cx="203.32" cy="441.53" r="2.7" fill="url(#g3)"/>
<circle cx="206.13" cy="442.26" r="2.7" fill="url(#g3)"/>
<circle cx="208.93" cy="442.59" r="2.7" fill="url(#g3)"/>
<circle cx="211.73" cy="442.44" r="2.7" fill="url(#g3)"/>
<circle cx="214.53" cy="442.72" r="2.7" fill="url(#g3)"/>
<circle cx="217.34" cy="442.43" r="2.7" fill="url(#g3)"/>
<circle cx="220.14" cy="442.93" r="2.7" fill="url(#g3)"/>
<circle cx="222.94" cy="443.54" r="2.7" fill="url(#g3)"/>
<circle cx="225.75" cy="443.65" r="2.7" fill="url(#g3)"/>
<circle cx="228.55" cy="443.86" r="2.7" fill="url(#g3)"/>
<circle cx="231.35" cy="444.13" r="2.7" fill="url(#g3)"/>
<circle cx="234.16" cy="443.74" r="2.7" fill="url(#g3)"/>
<circle cx="236.96" cy="443.81" r="2.7" fill="url(#g3)"/>
<circle cx="239.76" cy="444.04" r="2.7" fill="url(#g3)"/>
<circle cx="242.56" cy="444.52" r="2.7" fill="url(#g3)"/>
<circle cx="245.37" cy="444.83" r="2.7" fill="url(#g3)"/>
<circle cx="248.17" cy="445.22" r="2.7" fill="url(#g3)"/>
<circle cx="250.97" cy="445.23" r="2.7" fill="url(#g3)"/>
<circle cx="253.78" cy="445.36" r="2.7" fill="url(#g3)"/>
<circle cx="256.58" cy="445.63" r="2.7" fill="url(#g3)"/>
<circle cx="259.38" cy="445.57" r="2.7" fill="url(#g3)"/>
<circle cx="262.19" cy="445.83" r="2.7" fill="url(#g3)"/>
<circle cx="264.99" cy="445.61" r="2.7" fill="url(#g3)"/>
<circle cx="267.79" cy="446.39" r="2.7" fill="url(#g3)"/>
<circle cx="270.59" cy="446.13" r="2.7" fill="url(#g3)"/>
<circle cx="273.4" cy="446.87" r="2.7" fill="url(#g3)"/>
<circle cx="276.2" cy="446.84" r="2.7" fill="url(#g3)"/>
<circle cx="279" cy="446.75" r="2.7" fill="url(#g3)"/>
<circle cx="281.81" cy="446.79" r="2.7" fill="url(#g3)"/>
<circle cx="284.61" cy="447.08" r="2.7" fill="url(#g3)"/>
<circle cx="287.41" cy="447.48" r="2.7" fill="url(#g3)"/>
<circle cx="290.22" cy="447.62" r="2.7" fill="url(#g3)"/>
<circle cx="293.02" cy="447.24" r="2.7" fill="url(#g3)"/>
<circle cx="295.82" cy="447.29" r="2.7" fill="url(#g3)"/>
<circle cx="298.62" cy="447.74" r="2.7" fill="url(#g3)"/>
<circle cx="301.43" cy="447.87" r="2.7" fill="url(#g3)"/>
<circle cx="304.23" cy="447.8" r="2.7" fill="url(#g3)"/>
<circle cx="307.03" cy="447.76" r="2.7" fill="url(#g3)"/>
<circle cx="309.84" cy="448.15" r="2.7" fill="url(#g3)"/>
<circle cx="312.64" cy="447.76" r="2.7" fill="url(#g3)"/>
<circle cx="315.44" cy="448.08" r="2.7" fill="url(#g3)"/>
<circle cx="318.25" cy="448.29" r="2.7" fill="url(#g3)"/>
<circle cx="321.05" cy="448.78" r="2.7" fill="url(#g3)"/>
<circle cx="323.85" cy="448.61" r="2.7" fill="url(#g3)"/>
<circle cx="326.65" cy="448.89" r="2.7" fill="url(#g3)"/>
<circle cx="329.46" cy="448.65" r="2.7" fill="url(#g3)"/>
<circle cx="332.26" cy="448.54" r="2.7" fill="url(#g3)"/>
<circle cx="335.06" cy="448.64" r="2.7" fill="url(#g3)"/>
<circle cx="337.87" cy="449.3" r="2.7" fill="url(#g3)"/>
<circle cx="340.67" cy="449.18" r="2.7" fill="url(#g3)"/>
<circle cx="343.47" cy="448.95" r="2.7" fill="url(#g3)"/>
<circle cx="346.28" cy="448.81" r="2.7" fill="url(#g3)"/>
<circle cx="349.08" cy="449.27" r="2.7" fill="url(#g3)"/>
<circle cx="351.88" cy="449.5" r="2.7" fill="url(#g3)"/>
<circle cx="354.68" cy="449.38" r="2.7" fill="url(#g3)"/>
<circle cx="357.49" cy="449.34" r="2.7" fill="url(#g3)"/>
<circle cx="360.29" cy="449.75" r="2.7" fill="url(#g3)"/>
<circle cx="363.09" cy="450.05" r="2.7" fill="url(#g3)"/>
<circle cx="365.9" cy="449.57" r="2.7" fill="url(#g3)"/>
<circle cx="368.7" cy="449.51" r="2.7" fill="url(#g3)"/>
<circle cx="371.5" cy="449.84" r="2.7" fill="url(#g3)"/>
<circle cx="374.31" cy="449.99" r="2.7" fill="url(#g3)"/>
<circle cx="377.11" cy="450.28" r="2.7" fill="url(#g3)"/>
<circle cx="379.91" cy="449.98" r="2.7" fill="url(#g3)"/>
<circle cx="382.71" cy="450.55" r="2.7" fill="url(#g3)"/>
<circle cx="385.52" cy="450.59" r="2.7" fill="url(#g3)"/>
<circle cx="388.32" cy="450.49" r="2.7" fill="url(#g3)"/>
<circle cx="391.12" cy="450.33" r="2.7" fill="url(#g3)"/>
<circle cx="393.93" cy="451.03" r="2.7" fill="url(#g3)"/>
<circle cx="396.73" cy="450.59" r="2.7" fill="url(#g3)"/>
<circle cx="399.53" cy="451.08" r="2.7" fill="url(#g3)"/>
<circle cx="402.34" cy="450.7" r="2.7" fill="url(#g3)"/>
<circle cx="405.14" cy="450.78" r="2.7" fill="url(#g3)"/>
<circle cx="407.94" cy="451.3" r="2.7" fill="url(#g3)"/>
<circle cx="410.74" cy="451.01" r="2.7" fill="url(#g3)"/>
<circle cx="413.55" cy="451.62" r="2.7" fill="url(#g3)"/>
<circle cx="416.35" cy="451.34" r="2.7" fill="url(#g3)"/>
<circle cx="419.15" cy="451.18" r="2.7" fill="url(#g3)"/>
<circle cx="421.96" cy="451.3" r="2.7" fill="url(#g3)"/>
<circle cx="424.76" cy="451.54" r="2.7" fill="url(#g3)"/>
<circle cx="427.56" cy="451.82" r="2.7" fill="url(#g3)"/>
<circle cx="430.37" cy="452.14" r="2.7" fill="url(#g3)"/>
<circle cx="433.17" cy="451.58" r="2.7" fill="url(#g3)"/>
<circle cx="435.97" cy="451.87" r="2.7" fill="url(#g3)"/>
<circle cx="438.77" cy="451.81" r="2.7" fill="url(#g3)"/>
<circle cx="441.58" cy="452.5" r="2.7" fill="url(#g3)"/>
<circle cx="444.38" cy="451.92" r="2.7" fill="url(#g3)"/>
<circle cx="447.18" cy="451.94" r="2.7" fill="url(#g3)"/>
<circle cx="449.99" cy="452.03" r="2.7" fill="url(#g3)"/>
<circle cx="452.79" cy="452.38" r="2.7" fill="url(#g3)"/>
<circle cx="455.59" cy="452.87" r="2.7" fill="url(#g3)"/>
<circle cx="458.4" cy="452.95" r="2.7" fill="url(#g3)"/>
<circle cx="461.2" cy="452.92" r="2.7" fill="url(#g3)"/>
<circle cx="464" cy="453.21" r="2.7" fill="url(#g3)"/>
<circle cx="466.8" cy="453.25" r="2.7" fill="url(#g3)"/>
<circle cx="469.61" cy="452.85" r="2.7" fill="url(#g3)"/>
<circle cx="472.41" cy="452.77" r="2.7" fill="url(#g3)"/>
<circle cx="475.21" cy="453.39" r="2.7" fill="url(#g3)"/>
<circle cx="478.02" cy="453.26" r="2.7" fill="url(#g3)"/>
<circle cx="480.82" cy="452.7" r="2.7" fill="url(#g3)"/>
<circle cx="483.62" cy="453.23" r="2.7" fill="url(#g3)"/>
<circle cx="486.43" cy="453.02" r="2.7" fill="url(#g3)"/>
<circle cx="489.23" cy="453.04" r="2.7" fill="url(#g3)"/>
<circle cx="492.03" cy="453.03" r="2.7" fill="url(#g3)"/>
<circle cx="494.83" cy="452.92" r="2.7" fill="url(#g3)"/>
<circle cx="497.64" cy="452.8" r="2.7" fill="url(#g3)"/>
<circle cx="500.44" cy="453.04" r="2.7" fill="url(#g3)"/>
<circle cx="503.24" cy="453.12" r="2.7" fill="url(#g3)"/>
<circle cx="506.05" cy="453.63" r="2.7" fill="url(#g3)"/>
<circle cx="508.85" cy="452.98" r="2.7" fill="url(#g3)"/>
<circle cx="511.65" cy="453.67" r="2.7" fill="url(#g3)"/>
<circle cx="514.46" cy="453.09" r="2.7" fill="url(#g3)"/>
<circle cx="517.26" cy="453.23" r="2.7" fill="url(#g3)"/>
<circle cx="520.06" cy="453.62" r="2.7" fill="url(#g3)"/>
<circle cx="522.87" cy="453.64" r="2.7" fill="url(#g3)"/>
<circle cx="525.67" cy="453.35" r="2.7" fill="url(#g3)"/>
<circle cx="528.47" cy="453.06" r="2.7" fill="url(#g3)"/>
<circle cx="531.27" cy="453.42" r="2.7" fill="url(#g3)"/>
<circle cx="534.08" cy="453.36" r="2.7" fill="url(#g3)"/>
<circle cx="536.88" cy="453.82" r="2.7" fill="url(#g3)"/>
<circle cx="539.68" cy="453.26" r="2.7" fill="url(#g3)"/>
<circle cx="542.49" cy="453.42" r="2.7" fill="url(#g3)"/>
<circle cx="545.29" cy="453.86" r="2.7" fill="url(#g3)"/>
<circle cx="548.09" cy="453.19" r="2.7" fill="url(#g3)"/>
<circle cx="550.89" cy="453.52" r="2.7" fill="url(#g3)"/>
<circle cx="553.7" cy="453.86" r="2.7" fill="url(#g3)"/>
<circle cx="556.5" cy="453.84" r="2.7" fill="url(#g3)"/>
<circle cx="559.3" cy="453.28" r="2.7" fill="url(#g3)"/>
<circle cx="562.11" cy="453.3" r="2.7" fill="url(#g3)"/>
<circle cx="564.91" cy="453.34" r="2.7" fill="url(#g3)"/>
<circle cx="567.71" cy="454.05" r="2.7" fill="url(#g3)"/>
<circle cx="570.52" cy="453.54" r="2.7" fill="url(#g3)"/>
<circle cx="573.32" cy="453.95" r="2.7" fill="url(#g3)"/>
<circle cx="576.12" cy="454.09" r="2.7" fill="url(#g3)"/>
<circle cx="578.92" cy="453.66" r="2.7" fill="url(#g3)"/>
<circle cx="581.73" cy="453.63" r="2.7" fill="url(#g3)"/>
<circle cx="584.53" cy="454.2" r="2.7" fill="url(#g3)"/>
<circle cx="587.33" cy="453.95" r="2.7" fill="url(#g3)"/>
<circle cx="590.14" cy="453.68" r="2.7" fill="url(#g3)"/>
<circle cx="592.94" cy="454.07" r="2.7" fill="url(#g3)"/>
<circle cx="595.74" cy="453.77" r="2.7" fill="url(#g3)"/>
<circle cx="598.55" cy="453.75" r="2.7" fill="url(#g3)"/>
<circle cx="601.35" cy="453.56" r="2.7" fill="url(#g3)"/>
<circle cx="604.15" cy="454.18" r="2.7" fill="url(#g3)"/>
<circle cx="606.96" cy="454.33" r="2.7" fill="url(#g3)"/>
<circle cx="609.76" cy="454.12" r="2.7" fill="url(#g3)"/>
<circle cx="612.56" cy="454.39" r="2.7" fill="url(#g3)"/>
<circle cx="615.36" cy="453.68" r="2.7" fill="url(#g3)"/>
<circle cx="618.17" cy="453.86" r="2.7" fill="url(#g3)"/>
<circle cx="620.97" cy="454.08" r="2.7" fill="url(#g3)"/>
<circle cx="623.77" cy="454.48" r="2.7" fill="url(#g3)"/>
<circle cx="626.58" cy="454.5" r="2.7" fill="url(#g3)"/>
<circle cx="629.38" cy="454.07" r="2.7" fill="url(#g3)"/>
<circle cx="632.18" cy="453.98" r="2.7" fill="url(#g3)"/>
<circle cx="634.99" cy="454.14" r="2.7" fill="url(#g3)"/>
<circle cx="637.79" cy="454.21" r="2.7" fill="url(#g3)"/>
<circle cx="640.59" cy="454.58" r="2.7" fill="url(#g3)"/>
<circle cx="643.39" cy="454.01" r="2.7" fill="url(#g3)"/>
<circle cx="646.2" cy="454.52" r="2.7" fill="url(#g3)"/>
<circle cx="649" cy="454.49" r="2.7" fill="url(#g3)"/>
<circle cx="91.2" cy="392.55" r="2.7" fill="url(#g1)"/>
<circle cx="94.01" cy="351.14" r="2.7" fill="url(#g1)"/>
<circle cx="96.81" cy="331.77" r="2.7" fill="url(#g1)"/>
<circle cx="99.61" cy="318.47" r="2.7" fill="url(#g1)"/>
<circle cx="102.42" cy="313.58" r="2.7" fill="url(#g1)"/>
<circle cx="105.22" cy="307.98" r="2.7" fill="url(#g1)"/>
<circle cx="108.02" cy="306.91" r="2.7" fill="url(#g1)"/>
<circle cx="110.82" cy="304.09" r="2.7" fill="url(#g1)"/>
<circle cx="113.63" cy="304.08" r="2.7" fill="url(#g1)"/>
<circle cx="116.43" cy="304.95" r="2.7" fill="url(#g1)"/>
<circle cx="119.23" cy="303.69" r="2.7" fill="url(#g1)"/>
<circle cx="122.04" cy="303.09" r="2.7" fill="url(#g1)"/>
<circle cx="124.84" cy="302.78" r="2.7" fill="url(#g1)"/>
<circle cx="127.64" cy="303.81" r="2.7" fill="url(#g1)"/>
<circle cx="130.44" cy="303.35" r="2.7" fill="url(#g1)"/>
<circle cx="133.25" cy="304.66" r="2.7" fill="url(#g1)"/>
<circle cx="136.05" cy="304.47" r="2.7" fill="url(#g1)"/>
<circle cx="138.85" cy="304.68" r="2.7" fill="url(#g1)"/>
<circle cx="141.66" cy="303.23" r="2.7" fill="url(#g1)"/>
<circle cx="144.46" cy="302.87" r="2.7" fill="url(#g1)"/>
<circle cx="147.26" cy="302.89" r="2.7" fill="url(#g1)"/>
<circle cx="150.07" cy="303.7" r="2.7" fill="url(#g1)"/>
<circle cx="152.87" cy="304.12" r="2.7" fill="url(#g1)"/>
<circle cx="155.67" cy="303.59" r="2.7" fill="url(#g1)"/>
<circle cx="158.47" cy="303.17" r="2.7" fill="url(#g1)"/>
<circle cx="161.28" cy="303.74" r="2.7" fill="url(#g1)"/>
<circle cx="164.08" cy="304.61" r="2.7" fill="url(#g1)"/>
<circle cx="166.88" cy="305.18" r="2.7" fill="url(#g1)"/>
<circle cx="169.69" cy="305.79" r="2.7" fill="url(#g1)"/>
<circle cx="172.49" cy="306.44" r="2.7" fill="url(#g1)"/>
<circle cx="175.29" cy="306.54" r="2.7" fill="url(#g1)"/>
<circle cx="178.1" cy="305.91" r="2.7" fill="url(#g1)"/>
<circle cx="180.9" cy="307.81" r="2.7" fill="url(#g1)"/>
<circle cx="183.7" cy="307.18" r="2.7" fill="url(#g1)"/>
<circle cx="186.5" cy="308.18" r="2.7" fill="url(#g1)"/>
<circle cx="189.31" cy="308.26" r="2.7" fill="url(#g1)"/>
<circle cx="192.11" cy="309.45" r="2.7" fill="url(#g1)"/>
<circle cx="194.91" cy="308.83" r="2.7" fill="url(#g1)"/>
<circle cx="197.72" cy="309.39" r="2.7" fill="url(#g1)"/>
<circle cx="200.52" cy="309.84" r="2.7" fill="url(#g1)"/>
<circle cx="203.32" cy="310.12" r="2.7" fill="url(#g1)"/>
<circle cx="206.13" cy="312.04" r="2.7" fill="url(#g1)"/>
<circle cx="208.93" cy="311.46" r="2.7" fill="url(#g1)"/>
<circle cx="211.73" cy="310.95" r="2.7" fill="url(#g1)"/>
<circle cx="214.53" cy="311.09" r="2.7" fill="url(#g1)"/>
<circle cx="217.34" cy="312.28" r="2.7" fill="url(#g1)"/>
<circle cx="220.14" cy="311.31" r="2.7" fill="url(#g1)"/>
<circle cx="222.94" cy="310.76" r="2.7" fill="url(#g1)"/>
<circle cx="225.75" cy="311.92" r="2.7" fill="url(#g1)"/>
<circle cx="228.55" cy="311.61" r="2.7" fill="url(#g1)"/>
<circle cx="231.35" cy="312.28" r="2.7" fill="url(#g1)"/>
<circle cx="234.16" cy="310.5" r="2.7" fill="url(#g1)"/>
<circle cx="236.96" cy="312.03" r="2.7" fill="url(#g1)"/>
<circle cx="239.76" cy="317.46" r="2.7" fill="url(#g1)"/>
<circle cx="242.56" cy="317.08" r="2.7" fill="url(#g1)"/>
<circle cx="245.37" cy="316.8" r="2.7" fill="url(#g1)"/>
<circle cx="248.17" cy="314.63" r="2.7" fill="url(#g1)"/>
<circle cx="250.97" cy="314.71" r="2.7" fill="url(#g1)"/>
<circle cx="253.78" cy="315.07" r="2.7" fill="url(#g1)"/>
<circle cx="256.58" cy="316.4" r="2.7" fill="url(#g1)"/>
<circle cx="259.38" cy="319.15" r="2.7" fill="url(#g1)"/>
<circle cx="262.19" cy="319.56" r="2.7" fill="url(#g1)"/>
<circle cx="264.99" cy="321.44" r="2.7" fill="url(#g1)"/>
<circle cx="267.79" cy="321.51" r="2.7" fill="url(#g1)"/>
<circle cx="270.59" cy="323.58" r="2.7" fill="url(#g1)"/>
<circle cx="273.4" cy="323.44" r="2.7" fill="url(#g1)"/>
<circle cx="276.2" cy="323.75" r="2.7" fill="url(#g1)"/>
<circle cx="279" cy="325.48" r="2.7" fill="url(#g1)"/>
<circle cx="281.81" cy="326.5" r="2.7" fill="url(#g1)"/>
<circle cx="284.61" cy="325.52" r="2.7" fill="url(#g1)"/>
<circle cx="287.41" cy="327.2" r="2.7" fill="url(#g1)"/>
<circle cx="290.22" cy="327.96" r="2.7" fill="url(#g1)"/>
<circle cx="293.02" cy="327.86" r="2.7" fill="url(#g1)"/>
<circle cx="295.82" cy="328.87" r="2.7" fill="url(#g1)"/>
<circle cx="298.62" cy="323.83" r="2.7" fill="url(#g1)"/>
<circle cx="301.43" cy="320.11" r="2.7" fill="url(#g1)"/>
<circle cx="304.23" cy="319.98" r="2.7" fill="url(#g1)"/>
<circle cx="307.03" cy="320.44" r="2.7" fill="url(#g1)"/>
<circle cx="309.84" cy="320.31" r="2.7" fill="url(#g1)"/>
<circle cx="312.64" cy="319.18" r="2.7" fill="url(#g1)"/>
<circle cx="315.44" cy="318.56" r="2.7" fill="url(#g1)"/>
<circle cx="318.25" cy="318.96" r="2.7" fill="url(#g1)"/>
<circle cx="321.05" cy="319.42" r="2.7" fill="url(#g1)"/>
<circle cx="323.85" cy="318.2" r="2.7" fill="url(#g1)"/>
<circle cx="326.65" cy="318.22" r="2.7" fill="url(#g1)"/>
<circle cx="329.46" cy="317.77" r="2.7" fill="url(#g1)"/>
<circle cx="332.26" cy="318.72" r="2.7" fill="url(#g1)"/>
<circle cx="335.06" cy="317.99" r="2.7" fill="url(#g1)"/>
<circle cx="337.87" cy="316.79" r="2.7" fill="url(#g1)"/>
<circle cx="340.67" cy="316.63" r="2.7" fill="url(#g1)"/>
<circle cx="343.47" cy="316.98" r="2.7" fill="url(#g1)"/>
<circle cx="346.28" cy="317.02" r="2.7" fill="url(#g1)"/>
<circle cx="349.08" cy="316.7" r="2.7" fill="url(#g1)"/>
<circle cx="351.88" cy="315.11" r="2.7" fill="url(#g1)"/>
<circle cx="354.68" cy="314.75" r="2.7" fill="url(#g1)"/>
<circle cx="357.49" cy="315.32" r="2.7" fill="url(#g1)"/>
<circle cx="360.29" cy="314.25" r="2.7" fill="url(#g1)"/>
<circle cx="363.09" cy="313.51" r="2.7" fill="url(#g1)"/>
<circle cx="365.9" cy="313.06" r="2.7" fill="url(#g1)"/>
<circle cx="368.7" cy="313.85" r="2.7" fill="url(#g1)"/>
<circle cx="371.5" cy="312.07" r="2.7" fill="url(#g1)"/>
<circle cx="374.31" cy="312.09" r="2.7" fill="url(#g1)"/>
<circle cx="377.11" cy="311.17" r="2.7" fill="url(#g1)"/>
<circle cx="379.91" cy="314.67" r="2.7" fill="url(#g1)"/>
<circle cx="382.71" cy="315.35" r="2.7" fill="url(#g1)"/>
<circle cx="385.52" cy="315.22" r="2.7" fill="url(#g1)"/>
<circle cx="388.32" cy="313.57" r="2.7" fill="url(#g1)"/>
<circle cx="391.12" cy="312.84" r="2.7" fill="url(#g1)"/>
<circle cx="393.93" cy="313.51" r="2.7" fill="url(#g1)"/>
<circle cx="396.73" cy="312.07" r="2.7" fill="url(#g1)"/>
<circle cx="399.53" cy="311.28" r="2.7" fill="url(#g1)"/>
<circle cx="402.34" cy="312.68" r="2.7" fill="url(#g1)"/>
<circle cx="405.14" cy="311.34" r="2.7" fill="url(#g1)"/>
<circle cx="407.94" cy="311.21" r="2.7" fill="url(#g1)"/>
<circle cx="410.74" cy="308.96" r="2.7" fill="url(#g1)"/>
<circle cx="413.55" cy="308.49" r="2.7" fill="url(#g1)"/>
<circle cx="416.35" cy="307.2" r="2.7" fill="url(#g1)"/>
<circle cx="419.15" cy="306.35" r="2.7" fill="url(#g1)"/>
<circle cx="421.96" cy="305.79" r="2.7" fill="url(#g1)"/>
<circle cx="424.76" cy="306.61" r="2.7" fill="url(#g1)"/>
<circle cx="427.56" cy="306.52" r="2.7" fill="url(#g1)"/>
<circle cx="430.37" cy="306.8" r="2.7" fill="url(#g1)"/>
<circle cx="433.17" cy="304.9" r="2.7" fill="url(#g1)"/>
<circle cx="435.97" cy="305.71" r="2.7" fill="url(#g1)"/>
<circle cx="438.77" cy="304.95" r="2.7" fill="url(#g1)"/>
<circle cx="441.58" cy="304.95" r="2.7" fill="url(#g1)"/>
<circle cx="444.38" cy="303.98" r="2.7" fill="url(#g1)"/>
<circle cx="447.18" cy="303.99" r="2.7" fill="url(#g1)"/>
<circle cx="449.99" cy="304.21" r="2.7" fill="url(#g1)"/>
<circle cx="452.79" cy="304.76" r="2.7" fill="url(#g1)"/>
<circle cx="455.59" cy="302.92" r="2.7" fill="url(#g1)"/>
<circle cx="458.4" cy="303.68" r="2.7" fill="url(#g1)"/>
<circle cx="461.2" cy="304.31" r="2.7" fill="url(#g1)"/>
<circle cx="464" cy="304.63" r="2.7" fill="url(#g1)"/>
<circle cx="466.8" cy="303.09" r="2.7" fill="url(#g1)"/>
<circle cx="469.61" cy="302.95" r="2.7" fill="url(#g1)"/>
<circle cx="472.41" cy="304.59" r="2.7" fill="url(#g1)"/>
<circle cx="475.21" cy="304.65" r="2.7" fill="url(#g1)"/>
<circle cx="478.02" cy="303.67" r="2.7" fill="url(#g1)"/>
<circle cx="480.82" cy="302.81" r="2.7" fill="url(#g1)"/>
<circle cx="483.62" cy="304.55" r="2.7" fill="url(#g1)"/>
<circle cx="486.43" cy="303.48" r="2.7" fill="url(#g1)"/>
<circle cx="489.23" cy="304.51" r="2.7" fill="url(#g1)"/>
<circle cx="492.03" cy="303.94" r="2.7" fill="url(#g1)"/>
<circle cx="494.83" cy="304.35" r="2.7" fill="url(#g1)"/>
<circle cx="497.64" cy="303.02" r="2.7" fill="url(#g1)"/>
<circle cx="500.44" cy="304.27" r="2.7" fill="url(#g1)"/>
<circle cx="503.24" cy="303.14" r="2.7" fill="url(#g1)"/>
<circle cx="506.05" cy="303.51" r="2.7" fill="url(#g1)"/>
<circle cx="508.85" cy="304.39" r="2.7" fill="url(#g1)"/>
<circle cx="511.65" cy="304.36" r="2.7" fill="url(#g1)"/>
<circle cx="514.46" cy="303.07" r="2.7" fill="url(#g1)"/>
<circle cx="517.26" cy="303.14" r="2.7" fill="url(#g1)"/>
<circle cx="520.06" cy="303.5" r="2.7" fill="url(#g1)"/>
<circle cx="522.87" cy="303.74" r="2.7" fill="url(#g1)"/>
<circle cx="525.67" cy="303.47" r="2.7" fill="url(#g1)"/>
<circle cx="528.47" cy="302.95" r="2.7" fill="url(#g1)"/>
<circle cx="531.27" cy="303.19" r="2.7" fill="url(#g1)"/>
<circle cx="534.08" cy="304.15" r="2.7" fill="url(#g1)"/>
<circle cx="536.88" cy="304.49" r="2.7" fill="url(#g1)"/>
<circle cx="539.68" cy="302.78" r="2.7" fill="url(#g1)"/>
<circle cx="542.49" cy="306.16" r="2.7" fill="url(#g1)"/>
<circle cx="545.29" cy="308.91" r="2.7" fill="url(#g1)"/>
<circle cx="548.09" cy="307.48" r="2.7" fill="url(#g1)"/>
<circle cx="550.89" cy="309.08" r="2.7" fill="url(#g1)"/>
<circle cx="553.7" cy="307.64" r="2.7" fill="url(#g1)"/>
<circle cx="556.5" cy="308.6" r="2.7" fill="url(#g1)"/>
<circle cx="559.3" cy="308.5" r="2.7" fill="url(#g1)"/>
<circle cx="562.11" cy="308.65" r="2.7" fill="url(#g1)"/>
<circle cx="564.91" cy="308.01" r="2.7" fill="url(#g1)"/>
<circle cx="567.71" cy="308.24" r="2.7" fill="url(#g1)"/>
<circle cx="570.52" cy="308.57" r="2.7" fill="url(#g1)"/>
<circle cx="573.32" cy="308.25" r="2.7" fill="url(#g1)"/>
<circle cx="576.12" cy="308.72" r="2.7" fill="url(#g1)"/>
<circle cx="578.92" cy="308.29" r="2.7" fill="url(#g1)"/>
<circle cx="581.73" cy="308.28" r="2.7" fill="url(#g1)"/>
<circle cx="584.53" cy="307.45" r="2.7" fill="url(#g1)"/>
<circle cx="587.33" cy="308.64" r="2.7" fill="url(#g1)"/>
<circle cx="590.14" cy="308.38" r="2.7" fill="url(#g1)"/>
<circle cx="592.94" cy="307.87" r="2.7" fill="url(#g1)"/>
<circle cx="595.74" cy="308.93" r="2.7" fill="url(#g1)"/>
<circle cx="598.55" cy="308.96" r="2.7" fill="url(#g1)"/>
<circle cx="601.35" cy="308.32" r="2.7" fill="url(#g1)"/>
<circle cx="604.15" cy="307.76" r="2.7" fill="url(#g1)"/>
<circle cx="606.96" cy="308.35" r="2.7" fill="url(#g1)"/>
<circle cx="609.76" cy="307.61" r="2.7" fill="url(#g1)"/>
<circle cx="612.56" cy="307.66" r="2.7" fill="url(#g1)"/>
<circle cx="615.36" cy="308.26" r="2.7" fill="url(#g1)"/>
<circle cx="618.17" cy="307.58" r="2.7" fill="url(#g1)"/>
<circle cx="620.97" cy="308.28" r="2.7" fill="url(#g1)"/>
<circle cx="623.77" cy="308.42" r="2.7" fill="url(#g1)"/>
<circle cx="626.58" cy="307.48" r="2.7" fill="url(#g1)"/>
<circle cx="629.38" cy="308.67" r="2.7" fill="url(#g1)"/>
<circle cx="632.18" cy="307.56" r="2.7" fill="url(#g1)"/>
<circle cx="634.99" cy="308.87" r="2.7" fill="url(#g1)"/>
<circle cx="637.79" cy="308.96" r="2.7" fill="url(#g1)"/>
<circle cx="640.59" cy="308.42" r="2.7" fill="url(#g1)"/>
<circle cx="643.39" cy="307.51" r="2.7" fill="url(#g1)"/>
<circle cx="646.2" cy="308.41" r="2.7" fill="url(#g1)"/>
<circle cx="649" cy="308.16" r="2.7" fill="url(#g1)"/>
<circle cx="91.2" cy="382.41" r="2.7" fill="url(#g0)"/>
<circle cx="94.01" cy="325.42" r="2.7" fill="url(#g0)"/>
<circle cx="96.81" cy="316" r="2.7" fill="url(#g0)"/>
<circle cx="99.61" cy="308.85" r="2.7" fill="url(#g0)"/>
<circle cx="102.42" cy="305.93" r="2.7" fill="url(#g0)"/>
<circle cx="105.22" cy="304.3" r="2.7" fill="url(#g0)"/>
<circle cx="108.02" cy="301.58" r="2.7" fill="url(#g0)"/>
<circle cx="110.82" cy="301.74" r="2.7" fill="url(#g0)"/>
<circle cx="113.63" cy="300.43" r="2.7" fill="url(#g0)"/>
<circle cx="116.43" cy="300.83" r="2.7" fill="url(#g0)"/>
<circle cx="119.23" cy="300.33" r="2.7" fill="url(#g0)"/>
<circle cx="122.04" cy="298.55" r="2.7" fill="url(#g0)"/>
<circle cx="124.84" cy="299.49" r="2.7" fill="url(#g0)"/>
<circle cx="127.64" cy="299.69" r="2.7" fill="url(#g0)"/>
<circle cx="130.44" cy="298.09" r="2.7" fill="url(#g0)"/>
<circle cx="133.25" cy="298.55" r="2.7" fill="url(#g0)"/>
<circle cx="136.05" cy="299.23" r="2.7" fill="url(#g0)"/>
<circle cx="138.85" cy="298.11" r="2.7" fill="url(#g0)"/>
<circle cx="141.66" cy="299.39" r="2.7" fill="url(#g0)"/>
<circle cx="144.46" cy="298.22" r="2.7" fill="url(#g0)"/>
<circle cx="147.26" cy="299.14" r="2.7" fill="url(#g0)"/>
<circle cx="150.07" cy="297.88" r="2.7" fill="url(#g0)"/>
<circle cx="152.87" cy="298.48" r="2.7" fill="url(#g0)"/>
<circle cx="155.67" cy="299.18" r="2.7" fill="url(#g0)"/>
<circle cx="158.47" cy="297.85" r="2.7" fill="url(#g0)"/>
<circle cx="161.28" cy="297.9" r="2.7" fill="url(#g0)"/>
<circle cx="164.08" cy="298.29" r="2.7" fill="url(#g0)"/>
<circle cx="166.88" cy="297.9" r="2.7" fill="url(#g0)"/>
<circle cx="169.69" cy="297.34" r="2.7" fill="url(#g0)"/>
<circle cx="172.49" cy="297.56" r="2.7" fill="url(#g0)"/>
<circle cx="175.29" cy="297.47" r="2.7" fill="url(#g0)"/>
<circle cx="178.1" cy="298.82" r="2.7" fill="url(#g0)"/>
<circle cx="180.9" cy="298.41" r="2.7" fill="url(#g0)"/>
<circle cx="183.7" cy="299.01" r="2.7" fill="url(#g0)"/>
<circle cx="186.5" cy="297.92" r="2.7" fill="url(#g0)"/>
<circle cx="189.31" cy="299.24" r="2.7" fill="url(#g0)"/>
<circle cx="192.11" cy="298.25" r="2.7" fill="url(#g0)"/>
<circle cx="194.91" cy="299.21" r="2.7" fill="url(#g0)"/>
<circle cx="197.72" cy="299.62" r="2.7" fill="url(#g0)"/>
<circle cx="200.52" cy="299.33" r="2.7" fill="url(#g0)"/>
<circle cx="203.32" cy="300.47" r="2.7" fill="url(#g0)"/>
<circle cx="206.13" cy="300.11" r="2.7" fill="url(#g0)"/>
<circle cx="208.93" cy="300.37" r="2.7" fill="url(#g0)"/>
<circle cx="211.73" cy="301.13" r="2.7" fill="url(#g0)"/>
<circle cx="214.53" cy="299.95" r="2.7" fill="url(#g0)"/>
<circle cx="217.34" cy="301.76" r="2.7" fill="url(#g0)"/>
<circle cx="220.14" cy="301.19" r="2.7" fill="url(#g0)"/>
<circle cx="222.94" cy="300.83" r="2.7" fill="url(#g0)"/>
<circle cx="225.75" cy="301.63" r="2.7" fill="url(#g0)"/>
<circle cx="228.55" cy="300.73" r="2.7" fill="url(#g0)"/>
<circle cx="231.35" cy="302.11" r="2.7" fill="url(#g0)"/>
<circle cx="234.16" cy="301.43" r="2.7" fill="url(#g0)"/>
<circle cx="236.96" cy="301.11" r="2.7" fill="url(#g0)"/>
<circle cx="239.76" cy="301.9" r="2.7" fill="url(#g0)"/>
<circle cx="242.56" cy="301.39" r="2.7" fill="url(#g0)"/>
<circle cx="245.37" cy="300.98" r="2.7" fill="url(#g0)"/>
<circle cx="248.17" cy="302.06" r="2.7" fill="url(#g0)"/>
<circle cx="250.97" cy="300.88" r="2.7" fill="url(#g0)"/>
<circle cx="253.78" cy="302.33" r="2.7" fill="url(#g0)"/>
<circle cx="256.58" cy="301.39" r="2.7" fill="url(#g0)"/>
<circle cx="259.38" cy="302.17" r="2.7" fill="url(#g0)"/>
<circle cx="262.19" cy="302.87" r="2.7" fill="url(#g0)"/>
<circle cx="264.99" cy="302.24" r="2.7" fill="url(#g0)"/>
<circle cx="267.79" cy="302.47" r="2.7" fill="url(#g0)"/>
<circle cx="270.59" cy="301.92" r="2.7" fill="url(#g0)"/>
<circle cx="273.4" cy="301.45" r="2.7" fill="url(#g0)"/>
<circle cx="276.2" cy="301.59" r="2.7" fill="url(#g0)"/>
<circle cx="279" cy="301.89" r="2.7" fill="url(#g0)"/>
<circle cx="281.81" cy="302.81" r="2.7" fill="url(#g0)"/>
<circle cx="284.61" cy="302.57" r="2.7" fill="url(#g0)"/>
<circle cx="287.41" cy="302.74" r="2.7" fill="url(#g0)"/>
<circle cx="290.22" cy="303.45" r="2.7" fill="url(#g0)"/>
<circle cx="293.02" cy="302.09" r="2.7" fill="url(#g0)"/>
<circle cx="295.82" cy="302.29" r="2.7" fill="url(#g0)"/>
<circle cx="298.62" cy="303.07" r="2.7" fill="url(#g0)"/>
<circle cx="301.43" cy="301.96" r="2.7" fill="url(#g0)"/>
<circle cx="304.23" cy="301.94" r="2.7" fill="url(#g0)"/>
<circle cx="307.03" cy="302.59" r="2.7" fill="url(#g0)"/>
<circle cx="309.84" cy="302.17" r="2.7" fill="url(#g0)"/>
<circle cx="312.64" cy="302.64" r="2.7" fill="url(#g0)"/>
<circle cx="315.44" cy="302.42" r="2.7" fill="url(#g0)"/>
<circle cx="318.25" cy="303.08" r="2.7" fill="url(#g0)"/>
<circle cx="321.05" cy="303.11" r="2.7" fill="url(#g0)"/>
<circle cx="323.85" cy="302.44" r="2.7" fill="url(#g0)"/>
<circle cx="326.65" cy="303.22" r="2.7" fill="url(#g0)"/>
<circle cx="329.46" cy="302.97" r="2.7" fill="url(#g0)"/>
<circle cx="332.26" cy="302.37" r="2.7" fill="url(#g0)"/>
<circle cx="335.06" cy="303.84" r="2.7" fill="url(#g0)"/>
<circle cx="337.87" cy="302.61" r="2.7" fill="url(#g0)"/>
<circle cx="340.67" cy="302.46" r="2.7" fill="url(#g0)"/>
<circle cx="343.47" cy="302.38" r="2.7" fill="url(#g0)"/>
<circle cx="346.28" cy="303.38" r="2.7" fill="url(#g0)"/>
<circle cx="349.08" cy="303.82" r="2.7" fill="url(#g0)"/>
<circle cx="351.88" cy="303.68" r="2.7" fill="url(#g0)"/>
<circle cx="354.68" cy="303.01" r="2.7" fill="url(#g0)"/>
<circle cx="357.49" cy="302.79" r="2.7" fill="url(#g0)"/>
<circle cx="360.29" cy="302.35" r="2.7" fill="url(#g0)"/>
<circle cx="363.09" cy="303.51" r="2.7" fill="url(#g0)"/>
<circle cx="365.9" cy="303.38" r="2.7" fill="url(#g0)"/>
<circle cx="368.7" cy="303.02" r="2.7" fill="url(#g0)"/>
<circle cx="371.5" cy="303.57" r="2.7" fill="url(#g0)"/>
<circle cx="374.31" cy="303.23" r="2.7" fill="url(#g0)"/>
<circle cx="377.11" cy="304.13" r="2.7" fill="url(#g0)"/>
<circle cx="379.91" cy="303.79" r="2.7" fill="url(#g0)"/>
<circle cx="382.71" cy="302.93" r="2.7" fill="url(#g0)"/>
<circle cx="385.52" cy="304.13" r="2.7" fill="url(#g0)"/>
<circle cx="388.32" cy="302.61" r="2.7" fill="url(#g0)"/>
<circle cx="391.12" cy="303.5" r="2.7" fill="url(#g0)"/>
<circle cx="393.93" cy="303.3" r="2.7" fill="url(#g0)"/>
<circle cx="396.73" cy="303.01" r="2.7" fill="url(#g0)"/>
<circle cx="399.53" cy="302.71" r="2.7" fill="url(#g0)"/>
<circle cx="402.34" cy="304.03" r="2.7" fill="url(#g0)"/>
<circle cx="405.14" cy="302.67" r="2.7" fill="url(#g0)"/>
<circle cx="407.94" cy="303.66" r="2.7" fill="url(#g0)"/>
<circle cx="410.74" cy="304.38" r="2.7" fill="url(#g0)"/>
<circle cx="413.55" cy="302.96" r="2.7" fill="url(#g0)"/>
<circle cx="416.35" cy="303.08" r="2.7" fill="url(#g0)"/>
<circle cx="419.15" cy="303.84" r="2.7" fill="url(#g0)"/>
<circle cx="421.96" cy="303.67" r="2.7" fill="url(#g0)"/>
<circle cx="424.76" cy="303.94" r="2.7" fill="url(#g0)"/>
<circle cx="427.56" cy="304.27" r="2.7" fill="url(#g0)"/>
<circle cx="430.37" cy="303.14" r="2.7" fill="url(#g0)"/>
<circle cx="433.17" cy="303.4" r="2.7" fill="url(#g0)"/>
<circle cx="435.97" cy="303.4" r="2.7" fill="url(#g0)"/>
<circle cx="438.77" cy="302.97" r="2.7" fill="url(#g0)"/>
<circle cx="441.58" cy="304.5" r="2.7" fill="url(#g0)"/>
<circle cx="444.38" cy="304.33" r="2.7" fill="url(#g0)"/>
<circle cx="447.18" cy="304.23" r="2.7" fill="url(#g0)"/>
<circle cx="449.99" cy="302.97" r="2.7" fill="url(#g0)"/>
<circle cx="452.79" cy="304.5" r="2.7" fill="url(#g0)"/>
<circle cx="455.59" cy="304.34" r="2.7" fill="url(#g0)"/>
<circle cx="458.4" cy="303.86" r="2.7" fill="url(#g0)"/>
<circle cx="461.2" cy="304.37" r="2.7" fill="url(#g0)"/>
<circle cx="464" cy="303.87" r="2.7" fill="url(#g0)"/>
<circle cx="466.8" cy="303.48" r="2.7" fill="url(#g0)"/>
<circle cx="469.61" cy="303.29" r="2.7" fill="url(#g0)"/>
<circle cx="472.41" cy="303.52" r="2.7" fill="url(#g0)"/>
<circle cx="475.21" cy="303.17" r="2.7" fill="url(#g0)"/>
<circle cx="478.02" cy="303.7" r="2.7" fill="url(#g0)"/>
<circle cx="480.82" cy="304.45" r="2.7" fill="url(#g0)"/>
<circle cx="483.62" cy="304.35" r="2.7" fill="url(#g0)"/>
<circle cx="486.43" cy="304.62" r="2.7" fill="url(#g0)"/>
<circle cx="489.23" cy="304.38" r="2.7" fill="url(#g0)"/>
<circle cx="492.03" cy="303.58" r="2.7" fill="url(#g0)"/>
<circle cx="494.83" cy="304.1" r="2.7" fill="url(#g0)"/>
<circle cx="497.64" cy="303.88" r="2.7" fill="url(#g0)"/>
<circle cx="500.44" cy="304.52" r="2.7" fill="url(#g0)"/>
<circle cx="503.24" cy="304.04" r="2.7" fill="url(#g0)"/>
<circle cx="506.05" cy="303.58" r="2.7" fill="url(#g0)"/>
<circle cx="508.85" cy="304.26" r="2.7" fill="url(#g0)"/>
<circle cx="511.65" cy="304.84" r="2.7" fill="url(#g0)"/>
<circle cx="514.46" cy="303.49" r="2.7" fill="url(#g0)"/>
<circle cx="517.26" cy="304.68" r="2.7" fill="url(#g0)"/>
<circle cx="520.06" cy="303.13" r="2.7" fill="url(#g0)"/>
<circle cx="522.87" cy="303.57" r="2.7" fill="url(#g0)"/>
<circle cx="525.67" cy="303.52" r="2.7" fill="url(#g0)"/>
<circle cx="528.47" cy="304.44" r="2.7" fill="url(#g0)"/>
<circle cx="531.27" cy="304.8" r="2.7" fill="url(#g0)"/>
<circle cx="534.08" cy="304.44" r="2.7" fill="url(#g0)"/>
<circle cx="536.88" cy="303.69" r="2.7" fill="url(#g0)"/>
<circle cx="539.68" cy="304.68" r="2.7" fill="url(#g0)"/>
<circle cx="542.49" cy="303.69" r="2.7" fill="url(#g0)"/>
<circle cx="545.29" cy="303.53" r="2.7" fill="url(#g0)"/>
<circle cx="548.09" cy="304.73" r="2.7" fill="url(#g0)"/>
<circle cx="550.89" cy="304.24" r="2.7" fill="url(#g0)"/>
<circle cx="553.7" cy="304.35" r="2.7" fill="url(#g0)"/>
<circle cx="556.5" cy="304.3" r="2.7" fill="url(#g0)"/>
<circle cx="559.3" cy="304.86" r="2.7" fill="url(#g0)"/>
<circle cx="562.11" cy="303.97" r="2.7" fill="url(#g0)"/>
<circle cx="564.91" cy="304.67" r="2.7" fill="url(#g0)"/>
<circle cx="567.71" cy="304.44" r="2.7" fill="url(#g0)"/>
<circle cx="570.52" cy="304.76" r="2.7" fill="url(#g0)"/>
<circle cx="573.32" cy="304.04" r="2.7" fill="url(#g0)"/>
<circle cx="576.12" cy="304.59" r="2.7" fill="url(#g0)"/>
<circle cx="578.92" cy="304.34" r="2.7" fill="url(#g0)"/>
<circle cx="581.73" cy="303.9" r="2.7" fill="url(#g0)"/>
<circle cx="584.53" cy="303.76" r="2.7" fill="url(#g0)"/>
<circle cx="587.33" cy="304.53" r="2.7" fill="url(#g0)"/>
<circle cx="590.14" cy="303.58" r="2.7" fill="url(#g0)"/>
<circle cx="592.94" cy="305.11" r="2.7" fill="url(#g0)"/>
<circle cx="595.74" cy="303.76" r="2.7" fill="url(#g0)"/>
<circle cx="598.55" cy="303.58" r="2.7" fill="url(#g0)"/>
<circle cx="601.35" cy="303.76" r="2.7" fill="url(#g0)"/>
<circle cx="604.15" cy="305.27" r="2.7" fill="url(#g0)"/>
<circle cx="606.96" cy="304.25" r="2.7" fill="url(#g0)"/>
<circle cx="609.76" cy="303.91" r="2.7" fill="url(#g0)"/>
<circle cx="612.56" cy="303.74" r="2.7" fill="url(#g0)"/>
<circle cx="615.36" cy="303.8" r="2.7" fill="url(#g0)"/>
<circle cx="618.17" cy="305" r="2.7" fill="url(#g0)"/>
<circle cx="620.97" cy="304.93" r="2.7" fill="url(#g0)"/>
<circle cx="623.77" cy="305.07" r="2.7" fill="url(#g0)"/>
<circle cx="626.58" cy="305.17" r="2.7" fill="url(#g0)"/>
<circle cx="629.38" cy="304" r="2.7" fill="url(#g0)"/>
<circle cx="632.18" cy="304.97" r="2.7" fill="url(#g0)"/>
<circle cx="634.99" cy="304.6" r="2.7" fill="url(#g0)"/>
<circle cx="637.79" cy="305.45" r="2.7" fill="url(#g0)"/>
<circle cx="640.59" cy="305.48" r="2.7" fill="url(#g0)"/>
<circle cx="643.39" cy="305.64" r="2.7" fill="url(#g0)"/>
<circle cx="646.2" cy="304.19" r="2.7" fill="url(#g0)"/>
<circle cx="649" cy="305.66" r="2.7" fill="url(#g0)"/>
<circle cx="626.6" cy="313.7" r="2.1" fill="url(#g1)"/>
<circle cx="446" cy="301.5" r="2.1" fill="url(#g1)"/>
<circle cx="467" cy="299.5" r="2.1" fill="url(#g1)"/>
<circle cx="479.64" cy="299" r="2.1" fill="url(#g1)"/>
<circle cx="525.14" cy="300" r="2.1" fill="url(#g1)"/>
<rect x="88.7" y="285.6" width="560.6" height="177.4" fill="none" stroke="#231f20" stroke-width="1.45"/>
<line x1="88.7" y1="463" x2="92.2" y2="463" stroke="#231f20" stroke-width="1.2" />
<text x="81.4" y="468.9" font-size="18.4" text-anchor="end" fill="#231f20" >0</text>
<line x1="88.7" y1="403.87" x2="92.2" y2="403.87" stroke="#231f20" stroke-width="1.2" />
<text x="81.4" y="409.77" font-size="18.4" text-anchor="end" fill="#231f20" >200</text>
<line x1="88.7" y1="344.73" x2="92.2" y2="344.73" stroke="#231f20" stroke-width="1.2" />
<text x="81.4" y="350.63" font-size="18.4" text-anchor="end" fill="#231f20" >400</text>
<line x1="88.7" y1="285.6" x2="92.2" y2="285.6" stroke="#231f20" stroke-width="1.2" />
<text x="81.4" y="291.5" font-size="18.4" text-anchor="end" fill="#231f20" >600</text>
<line x1="649.3" y1="463" x2="645.8" y2="463" stroke="#231f20" stroke-width="1.2" />
<text x="655.6" y="468.9" font-size="18.4" text-anchor="start" fill="#231f20" >0</text>
<line x1="649.3" y1="418.65" x2="645.8" y2="418.65" stroke="#231f20" stroke-width="1.2" />
<text x="655.6" y="424.55" font-size="18.4" text-anchor="start" fill="#231f20" >25</text>
<line x1="649.3" y1="374.3" x2="645.8" y2="374.3" stroke="#231f20" stroke-width="1.2" />
<text x="655.6" y="380.2" font-size="18.4" text-anchor="start" fill="#231f20" >50</text>
<line x1="649.3" y1="329.95" x2="645.8" y2="329.95" stroke="#231f20" stroke-width="1.2" />
<text x="655.6" y="335.85" font-size="18.4" text-anchor="start" fill="#231f20" >75</text>
<line x1="649.3" y1="285.6" x2="645.8" y2="285.6" stroke="#231f20" stroke-width="1.2" />
<text x="655.6" y="291.5" font-size="18.4" text-anchor="start" fill="#231f20" >100</text>
<line x1="88.7" y1="463" x2="88.7" y2="459.5" stroke="#231f20" stroke-width="1.2" />
<text x="88.7" y="484" font-size="18.4" text-anchor="middle" fill="#231f20" >0</text>
<line x1="228.85" y1="463" x2="228.85" y2="459.5" stroke="#231f20" stroke-width="1.2" />
<text x="228.85" y="484" font-size="18.4" text-anchor="middle" fill="#231f20" >50</text>
<line x1="369" y1="463" x2="369" y2="459.5" stroke="#231f20" stroke-width="1.2" />
<text x="369" y="484" font-size="18.4" text-anchor="middle" fill="#231f20" >100</text>
<line x1="509.15" y1="463" x2="509.15" y2="459.5" stroke="#231f20" stroke-width="1.2" />
<text x="509.15" y="484" font-size="18.4" text-anchor="middle" fill="#231f20" >150</text>
<line x1="649.3" y1="463" x2="649.3" y2="459.5" stroke="#231f20" stroke-width="1.2" />
<text x="649.3" y="484" font-size="18.4" text-anchor="middle" fill="#231f20" >200</text>
<text x="368.8" y="505" font-size="18.6" text-anchor="middle" fill="#231f20" >Cycle number</text>
<text transform="translate(41.8,374.9) rotate(-90)" font-size="18.6" text-anchor="middle" fill="#231f20">Specific capacity / (mAh·g<tspan font-size="10.4" dy="-7.4">−1</tspan><tspan dy="7.4">)</tspan></text>
<text transform="translate(705.5,374) rotate(-90)" font-size="18.6" text-anchor="middle" fill="#231f20">Coulombic efficiency / %</text>
<text x="1.4" y="279.5" font-size="18.6" text-anchor="start" fill="#231f20" >(d)</text>
<path d="M148.5,432 L148.5,455.8 L95,455.8" fill="none" stroke="#3f6fa0" stroke-width="1.2" stroke-linejoin="round" />
<path d="M89.5,455.8 L97,452.3 L95.5,455.8 L97,459.3 Z" fill="#3f6fa0"/>
<path d="M588.6,311.3 L588.6,336.5 L634,336.5" fill="none" stroke="#3f6fa0" stroke-width="1.2" stroke-linejoin="round" />
<path d="M640,336.5 L632.5,333 L634,336.5 L632.5,340 Z" fill="#3f6fa0"/>
<circle cx="140.1" cy="342.5" r="2.6" fill="url(#g0)"/>
<text x="149.5" y="347.5" font-size="18.6" text-anchor="start" fill="#231f20" >Coulombic efficiency</text>
<circle cx="140.1" cy="365.8" r="2.6" fill="url(#g2)"/>
<text x="149.5" y="370.8" font-size="18.6" text-anchor="start" fill="#231f20" >Charge</text>
<circle cx="140.1" cy="389" r="2.6" fill="url(#g3)"/>
<text x="149.5" y="394" font-size="18.6" text-anchor="start" fill="#231f20" >Discharge</text>
<circle cx="383.3" cy="332.7" r="2.6" fill="url(#g1)"/>
<text x="392.7" y="337.7" font-size="18.6" text-anchor="start" fill="#231f20" >Coulombic efficiency</text>
<circle cx="383.3" cy="357.9" r="2.6" fill="url(#g4)"/>
<text x="392.7" y="362.9" font-size="18.6" text-anchor="start" fill="#231f20" >Charge</text>
<circle cx="383.3" cy="383.1" r="2.6" fill="url(#g5)"/>
<text x="392.7" y="388.1" font-size="18.6" text-anchor="start" fill="#231f20" >Discharge</text>
<text x="113.4" y="364.4" font-size="18.6" text-anchor="start" fill="#231f20" >Se</text>
<text x="275.7" y="369.1" font-size="18.6" text-anchor="start" fill="#231f20" >Se@C@TiN</text>
<text x="544.1" y="412.2" font-size="18.6" text-anchor="start" fill="#231f20" >1000 mA·g<tspan font-size="10.4" dy="-7.4">−1</tspan></text>
<defs>
<radialGradient id="g6" cx="0.5" cy="0.5" r="0.5" fx="0.38" fy="0.36"><stop offset="0" stop-color="#ffffff"/><stop offset="0.28" stop-color="#808080"/><stop offset="1" stop-color="#808080"/></radialGradient>
<radialGradient id="g7" cx="0.5" cy="0.5" r="0.5" fx="0.38" fy="0.36"><stop offset="0" stop-color="#ffffff"/><stop offset="0.28" stop-color="#f07cf0"/><stop offset="1" stop-color="#f07cf0"/></radialGradient>
<radialGradient id="g8" cx="0.5" cy="0.5" r="0.5" fx="0.38" fy="0.36"><stop offset="0" stop-color="#ffffff"/><stop offset="0.28" stop-color="#168886"/><stop offset="1" stop-color="#168886"/></radialGradient>
</defs>
<path d="M907.3,438.89 L915.5,431.2 L921.9,425.5 L927.5,421.25 L934.6,416.3 L942.6,411 L950.7,406.2 L958,400.8 L965.6,395.5 L972,389.8 L980,383.2 L990.6,375 L1003.75,365.6 L1018.1,354.75 L1031.9,341.9" fill="none" stroke="#1a1a1a" stroke-width="1.1" stroke-linejoin="round" />
<circle cx="800" cy="463" r="3.0" fill="url(#g6)"/>
<circle cx="802.76" cy="460.02" r="3.0" fill="url(#g6)"/>
<circle cx="806" cy="457" r="3.0" fill="url(#g6)"/>
<circle cx="809.51" cy="454.42" r="3.0" fill="url(#g6)"/>
<circle cx="813.3" cy="452.14" r="3.0" fill="url(#g6)"/>
<circle cx="816.92" cy="450.3" r="3.0" fill="url(#g6)"/>
<circle cx="820.57" cy="448.61" r="3.0" fill="url(#g6)"/>
<circle cx="824.51" cy="446.93" r="3.0" fill="url(#g6)"/>
<circle cx="828.47" cy="445.48" r="3.0" fill="url(#g6)"/>
<circle cx="832.97" cy="444.21" r="3.0" fill="url(#g6)"/>
<circle cx="837.38" cy="443.33" r="3.0" fill="url(#g6)"/>
<circle cx="841.87" cy="442.75" r="3.0" fill="url(#g6)"/>
<circle cx="846.63" cy="442.41" r="3.0" fill="url(#g6)"/>
<circle cx="850.92" cy="442.33" r="3.0" fill="url(#g6)"/>
<circle cx="855.32" cy="442.44" r="3.0" fill="url(#g6)"/>
<circle cx="859.59" cy="442.73" r="3.0" fill="url(#g6)"/>
<circle cx="864.29" cy="443.37" r="3.0" fill="url(#g6)"/>
<circle cx="868.67" cy="444.4" r="3.0" fill="url(#g6)"/>
<circle cx="872.78" cy="445.59" r="3.0" fill="url(#g6)"/>
<circle cx="877.23" cy="446.84" r="3.0" fill="url(#g6)"/>
<circle cx="881.27" cy="448.11" r="3.0" fill="url(#g6)"/>
<circle cx="885.49" cy="449.27" r="3.0" fill="url(#g6)"/>
<circle cx="889.91" cy="449.62" r="3.0" fill="url(#g6)"/>
<circle cx="893.94" cy="449.12" r="3.0" fill="url(#g6)"/>
<circle cx="897.93" cy="447.55" r="3.0" fill="url(#g6)"/>
<circle cx="901.4" cy="444.91" r="3.0" fill="url(#g6)"/>
<circle cx="904.61" cy="441.93" r="3.0" fill="url(#g6)"/>
<circle cx="907.3" cy="438.89" r="3.0" fill="url(#g6)"/>
<circle cx="915.5" cy="431.2" r="3.4" fill="url(#g6)"/>
<circle cx="921.9" cy="425.5" r="3.4" fill="url(#g6)"/>
<circle cx="927.5" cy="421.25" r="3.4" fill="url(#g6)"/>
<circle cx="934.6" cy="416.3" r="3.4" fill="url(#g6)"/>
<circle cx="942.6" cy="411" r="3.4" fill="url(#g6)"/>
<circle cx="950.7" cy="406.2" r="3.4" fill="url(#g6)"/>
<circle cx="958" cy="400.8" r="3.4" fill="url(#g6)"/>
<circle cx="965.6" cy="395.5" r="3.4" fill="url(#g6)"/>
<circle cx="972" cy="389.8" r="3.4" fill="url(#g6)"/>
<circle cx="980" cy="383.2" r="3.4" fill="url(#g6)"/>
<circle cx="990.6" cy="375" r="3.4" fill="url(#g6)"/>
<circle cx="1003.75" cy="365.6" r="3.4" fill="url(#g6)"/>
<circle cx="1018.1" cy="354.75" r="3.4" fill="url(#g6)"/>
<circle cx="1031.9" cy="341.9" r="3.4" fill="url(#g6)"/>
<path d="M915.45,424.64 L920,421 L924.4,417 L928.75,412.5 L933.1,407 L937.5,400.6 L941.25,392.75 L945.6,382.25 L950.6,370.5 L955.6,355.4 L962.9,338.5 L970.6,317.5 L980,293.5" fill="none" stroke="#1a1a1a" stroke-width="1.1" stroke-linejoin="round" />
<circle cx="800" cy="463" r="3.0" fill="url(#g8)"/>
<circle cx="802.76" cy="460.02" r="3.0" fill="url(#g8)"/>
<circle cx="806" cy="457" r="3.0" fill="url(#g8)"/>
<circle cx="809.51" cy="454.42" r="3.0" fill="url(#g8)"/>
<circle cx="813.3" cy="452.14" r="3.0" fill="url(#g8)"/>
<circle cx="816.92" cy="450.3" r="3.0" fill="url(#g8)"/>
<circle cx="820.57" cy="448.61" r="3.0" fill="url(#g8)"/>
<circle cx="824.51" cy="446.93" r="3.0" fill="url(#g8)"/>
<circle cx="828.47" cy="445.48" r="3.0" fill="url(#g8)"/>
<circle cx="832.92" cy="444.23" r="3.0" fill="url(#g8)"/>
<circle cx="837.19" cy="443.4" r="3.0" fill="url(#g8)"/>
<circle cx="841.68" cy="442.82" r="3.0" fill="url(#g8)"/>
<circle cx="845.89" cy="442.43" r="3.0" fill="url(#g8)"/>
<circle cx="850.79" cy="442.17" r="3.0" fill="url(#g8)"/>
<circle cx="855" cy="442.07" r="3.0" fill="url(#g8)"/>
<circle cx="859.21" cy="442.01" r="3.0" fill="url(#g8)"/>
<circle cx="864.11" cy="441.92" r="3.0" fill="url(#g8)"/>
<circle cx="868.27" cy="441.89" r="3.0" fill="url(#g8)"/>
<circle cx="872.6" cy="442.02" r="3.0" fill="url(#g8)"/>
<circle cx="876.86" cy="441.92" r="3.0" fill="url(#g8)"/>
<circle cx="880.85" cy="441.33" r="3.0" fill="url(#g8)"/>
<circle cx="885.49" cy="440.19" r="3.0" fill="url(#g8)"/>
<circle cx="889.43" cy="439" r="3.0" fill="url(#g8)"/>
<circle cx="893.29" cy="437.68" r="3.0" fill="url(#g8)"/>
<circle cx="897.63" cy="436.02" r="3.0" fill="url(#g8)"/>
<circle cx="901.86" cy="434.03" r="3.0" fill="url(#g8)"/>
<circle cx="905.4" cy="431.89" r="3.0" fill="url(#g8)"/>
<circle cx="908.89" cy="429.51" r="3.0" fill="url(#g8)"/>
<circle cx="912.3" cy="427.14" r="3.0" fill="url(#g8)"/>
<circle cx="915.45" cy="424.64" r="3.0" fill="url(#g8)"/>
<circle cx="920" cy="421" r="3.4" fill="url(#g8)"/>
<circle cx="924.4" cy="417" r="3.4" fill="url(#g8)"/>
<circle cx="928.75" cy="412.5" r="3.4" fill="url(#g8)"/>
<circle cx="933.1" cy="407" r="3.4" fill="url(#g8)"/>
<circle cx="937.5" cy="400.6" r="3.4" fill="url(#g8)"/>
<circle cx="941.25" cy="392.75" r="3.4" fill="url(#g8)"/>
<circle cx="945.6" cy="382.25" r="3.4" fill="url(#g8)"/>
<circle cx="950.6" cy="370.5" r="3.4" fill="url(#g8)"/>
<circle cx="955.6" cy="355.4" r="3.4" fill="url(#g8)"/>
<circle cx="962.9" cy="338.5" r="3.4" fill="url(#g8)"/>
<circle cx="970.6" cy="317.5" r="3.4" fill="url(#g8)"/>
<circle cx="980" cy="293.5" r="3.4" fill="url(#g8)"/>
<path d="M925.72,440.62 L931.25,439 L937,437.8 L943,435.5 L949,432.3 L955,428.5 L961.9,423.75 L968.75,418.1 L975,413.1 L981.9,408.1 L987.5,402.5 L994.4,395.6 L1002.5,388.1 L1011.25,380 L1022.5,371.5 L1033.1,360.6" fill="none" stroke="#1a1a1a" stroke-width="1.1" stroke-linejoin="round" />
<circle cx="799" cy="463" r="3.0" fill="url(#g7)"/>
<circle cx="801.69" cy="459.8" r="3.0" fill="url(#g7)"/>
<circle cx="804.6" cy="456.64" r="3.0" fill="url(#g7)"/>
<circle cx="807.71" cy="453.65" r="3.0" fill="url(#g7)"/>
<circle cx="810.81" cy="450.83" r="3.0" fill="url(#g7)"/>
<circle cx="813.98" cy="448.23" r="3.0" fill="url(#g7)"/>
<circle cx="817.38" cy="445.97" r="3.0" fill="url(#g7)"/>
<circle cx="821.13" cy="444.06" r="3.0" fill="url(#g7)"/>
<circle cx="825" cy="442.5" r="3.0" fill="url(#g7)"/>
<circle cx="829.13" cy="441.11" r="3.0" fill="url(#g7)"/>
<circle cx="833.76" cy="439.78" r="3.0" fill="url(#g7)"/>
<circle cx="837.7" cy="438.72" r="3.0" fill="url(#g7)"/>
<circle cx="842.25" cy="437.48" r="3.0" fill="url(#g7)"/>
<circle cx="846.75" cy="436.25" r="3.0" fill="url(#g7)"/>
<circle cx="851.25" cy="435.13" r="3.0" fill="url(#g7)"/>
<circle cx="855.75" cy="434.28" r="3.0" fill="url(#g7)"/>
<circle cx="860.25" cy="433.66" r="3.0" fill="url(#g7)"/>
<circle cx="864.75" cy="433.26" r="3.0" fill="url(#g7)"/>
<circle cx="869.25" cy="433.18" r="3.0" fill="url(#g7)"/>
<circle cx="873.75" cy="433.51" r="3.0" fill="url(#g7)"/>
<circle cx="878.25" cy="434.2" r="3.0" fill="url(#g7)"/>
<circle cx="882.75" cy="435.07" r="3.0" fill="url(#g7)"/>
<circle cx="887.25" cy="435.95" r="3.0" fill="url(#g7)"/>
<circle cx="891.72" cy="436.97" r="3.0" fill="url(#g7)"/>
<circle cx="896.21" cy="438.01" r="3.0" fill="url(#g7)"/>
<circle cx="900.77" cy="438.94" r="3.0" fill="url(#g7)"/>
<circle cx="904.77" cy="439.68" r="3.0" fill="url(#g7)"/>
<circle cx="908.84" cy="440.37" r="3.0" fill="url(#g7)"/>
<circle cx="913.44" cy="441.01" r="3.0" fill="url(#g7)"/>
<circle cx="917.45" cy="441.27" r="3.0" fill="url(#g7)"/>
<circle cx="921.72" cy="441.05" r="3.0" fill="url(#g7)"/>
<circle cx="925.72" cy="440.62" r="3.0" fill="url(#g7)"/>
<circle cx="931.25" cy="439" r="3.4" fill="url(#g7)"/>
<circle cx="937" cy="437.8" r="3.4" fill="url(#g7)"/>
<circle cx="943" cy="435.5" r="3.4" fill="url(#g7)"/>
<circle cx="949" cy="432.3" r="3.4" fill="url(#g7)"/>
<circle cx="955" cy="428.5" r="3.4" fill="url(#g7)"/>
<circle cx="961.9" cy="423.75" r="3.4" fill="url(#g7)"/>
<circle cx="968.75" cy="418.1" r="3.4" fill="url(#g7)"/>
<circle cx="975" cy="413.1" r="3.4" fill="url(#g7)"/>
<circle cx="981.9" cy="408.1" r="3.4" fill="url(#g7)"/>
<circle cx="987.5" cy="402.5" r="3.4" fill="url(#g7)"/>
<circle cx="994.4" cy="395.6" r="3.4" fill="url(#g7)"/>
<circle cx="1002.5" cy="388.1" r="3.4" fill="url(#g7)"/>
<circle cx="1011.25" cy="380" r="3.4" fill="url(#g7)"/>
<circle cx="1022.5" cy="371.5" r="3.4" fill="url(#g7)"/>
<circle cx="1033.1" cy="360.6" r="3.4" fill="url(#g7)"/>
<rect x="798.75" y="285.6" width="236.85" height="177.6" fill="none" stroke="#231f20" stroke-width="1.45"/>
<line x1="798.75" y1="463.2" x2="802.25" y2="463.2" stroke="#231f20" stroke-width="1.2" />
<text x="791.45" y="469.1" font-size="18.4" text-anchor="end" fill="#231f20" >0</text>
<line x1="798.75" y1="427.68" x2="802.25" y2="427.68" stroke="#231f20" stroke-width="1.2" />
<text x="791.45" y="433.58" font-size="18.4" text-anchor="end" fill="#231f20" >300</text>
<line x1="798.75" y1="392.16" x2="802.25" y2="392.16" stroke="#231f20" stroke-width="1.2" />
<text x="791.45" y="398.06" font-size="18.4" text-anchor="end" fill="#231f20" >600</text>
<line x1="798.75" y1="356.64" x2="802.25" y2="356.64" stroke="#231f20" stroke-width="1.2" />
<text x="791.45" y="362.54" font-size="18.4" text-anchor="end" fill="#231f20" >900</text>
<line x1="798.75" y1="321.12" x2="802.25" y2="321.12" stroke="#231f20" stroke-width="1.2" />
<text x="791.45" y="327.02" font-size="18.4" text-anchor="end" fill="#231f20" >1200</text>
<line x1="798.75" y1="285.6" x2="802.25" y2="285.6" stroke="#231f20" stroke-width="1.2" />
<text x="791.45" y="291.5" font-size="18.4" text-anchor="end" fill="#231f20" >1500</text>
<line x1="798.75" y1="463.2" x2="798.75" y2="459.7" stroke="#231f20" stroke-width="1.2" />
<text x="798.75" y="484.2" font-size="18.4" text-anchor="middle" fill="#231f20" >0</text>
<line x1="846.12" y1="463.2" x2="846.12" y2="459.7" stroke="#231f20" stroke-width="1.2" />
<text x="846.12" y="484.2" font-size="18.4" text-anchor="middle" fill="#231f20" >300</text>
<line x1="893.49" y1="463.2" x2="893.49" y2="459.7" stroke="#231f20" stroke-width="1.2" />
<text x="893.49" y="484.2" font-size="18.4" text-anchor="middle" fill="#231f20" >600</text>
<line x1="940.86" y1="463.2" x2="940.86" y2="459.7" stroke="#231f20" stroke-width="1.2" />
<text x="940.86" y="484.2" font-size="18.4" text-anchor="middle" fill="#231f20" >900</text>
<line x1="988.23" y1="463.2" x2="988.23" y2="459.7" stroke="#231f20" stroke-width="1.2" />
<text x="988.23" y="484.2" font-size="18.4" text-anchor="middle" fill="#231f20" >1200</text>
<line x1="1035.6" y1="463.2" x2="1035.6" y2="459.7" stroke="#231f20" stroke-width="1.2" />
<text x="1035.6" y="484.2" font-size="18.4" text-anchor="middle" fill="#231f20" >1500</text>
<text x="916" y="504.8" font-size="18.6" text-anchor="middle" fill="#231f20" ><tspan font-style="italic">Z'</tspan> / Ω</text>
<text transform="translate(748,375.7) rotate(-90)" font-size="18.6" text-anchor="middle" fill="#231f20">−<tspan font-style="italic">Z''</tspan> / Ω</text>
<text x="722" y="283.7" font-size="18.6" text-anchor="start" fill="#231f20" >(e)</text>
<line x1="813.1" y1="299.4" x2="832.5" y2="299.4" stroke="#1a1a1a" stroke-width="1.2" />
<circle cx="823.1" cy="299.4" r="3.5" fill="url(#g6)"/>
<text x="839.4" y="304.4" font-size="18.6" text-anchor="start" fill="#231f20" >0 cycled</text>
<line x1="813.1" y1="323.75" x2="832.5" y2="323.75" stroke="#1a1a1a" stroke-width="1.2" />
<circle cx="823.1" cy="323.75" r="3.5" fill="url(#g7)"/>
<text x="839.4" y="328.75" font-size="18.6" text-anchor="start" fill="#231f20" >Charged</text>
<line x1="813.1" y1="348.1" x2="832.5" y2="348.1" stroke="#1a1a1a" stroke-width="1.2" />
<circle cx="823.1" cy="348.1" r="3.5" fill="url(#g8)"/>
<text x="839.4" y="353.1" font-size="18.6" text-anchor="start" fill="#231f20" >Discharged</text>
<defs><clipPath id="clipf"><rect x="88.8" y="552.5" width="237.7" height="177.3"/></clipPath>
<linearGradient id="fgT" gradientUnits="userSpaceOnUse" x1="0" y1="552" x2="0" y2="730"><stop offset="0" stop-color="#ffffff" stop-opacity="0"/><stop offset="0.3" stop-color="#ffffff" stop-opacity="0.5"/><stop offset="0.5" stop-color="#d6eded"/><stop offset="0.7" stop-color="#a6d7d7"/><stop offset="0.9" stop-color="#6cc0c0"/><stop offset="1" stop-color="#52b4b4"/></linearGradient>
<linearGradient id="fgTs" gradientUnits="userSpaceOnUse" x1="0" y1="690" x2="0" y2="730"><stop offset="0" stop-color="#ffffff" stop-opacity="0"/><stop offset="1" stop-color="#62bcbc" stop-opacity="0.9"/></linearGradient>
<linearGradient id="fgC" gradientUnits="userSpaceOnUse" x1="0" y1="690" x2="0" y2="730"><stop offset="0" stop-color="#ffffff" stop-opacity="0"/><stop offset="1" stop-color="#8f94e8" stop-opacity="0.9"/></linearGradient>
<linearGradient id="fgP" gradientUnits="userSpaceOnUse" x1="0" y1="680" x2="0" y2="730"><stop offset="0" stop-color="#ffffff" stop-opacity="0"/><stop offset="1" stop-color="#c89cf0" stop-opacity="0.8"/></linearGradient>
<linearGradient id="fgP3" gradientUnits="userSpaceOnUse" x1="0" y1="640" x2="0" y2="730"><stop offset="0" stop-color="#ffffff" stop-opacity="0"/><stop offset="1" stop-color="#c9a8f2" stop-opacity="0.9"/></linearGradient>
<linearGradient id="fgC3" gradientUnits="userSpaceOnUse" x1="0" y1="640" x2="0" y2="730"><stop offset="0" stop-color="#ffffff" stop-opacity="0"/><stop offset="1" stop-color="#9da6ee" stop-opacity="0.9"/></linearGradient>
</defs>
<g clip-path="url(#clipf)">
<path d="M89,728 C101.33,727.73 117.58,730.67 126,727.2 C131.51,724.93 133.73,720.02 137.5,716.25 C141.32,712.42 144.72,705.11 148.75,704.4 C152.28,703.78 156.54,707.51 160,710 C163.67,712.64 166.6,717.4 170,720 C172.87,722.19 175.45,724.3 178.75,725 C182.44,725.78 187.15,723.74 191.25,723.75 C195.23,723.76 199.06,724.79 203,725 C206.97,725.21 212.19,725.7 215,725 C216.67,724.58 217.63,724.33 218.75,723 C220.93,720.39 222.07,712.62 223.75,707.5 C225.4,702.45 226.37,696.01 228.75,692.5 C230.46,689.98 233.08,686.94 235,687.25 C237.33,687.63 239.41,693.26 241.25,697.5 C243.81,703.41 245.53,714.15 247.5,720 C248.8,723.85 249.67,728.24 251.25,729.4 C252.08,730 253.08,729.53 254,729.6 L254,729.8 L89,729.8 Z" fill="url(#fgP)" opacity="0.4"/>
<path d="M89,728.8 C101.42,728.37 117.13,731.46 126.25,727.5 C133.13,724.51 136.76,716.99 141.25,712.5 C144.92,708.83 147.92,704.63 151.25,702.5 C153.75,700.9 156.33,699.43 158.75,699.75 C161.34,700.09 163.79,702.79 166.25,705 C169.22,707.66 171.95,712.65 175,715 C177.42,716.87 180.14,718.84 182.5,718.75 C184.7,718.67 186.71,715.7 188.75,715 C190.45,714.42 191.87,714.03 193.75,714.4 C196.59,714.96 200.42,718.87 203.75,720 C206.67,720.99 209.48,721.22 212.5,721.25 C215.72,721.28 219.78,721.49 222.5,720 C225.18,718.54 226.36,714.45 228.75,712.5 C230.98,710.68 233.99,708.14 236.25,708.5 C238.58,708.87 240.6,712.31 242.5,715 C244.87,718.35 246.68,725.19 248.75,727.5 C249.84,728.71 250.8,729.25 252,729.6 C253.22,729.96 254.67,729.6 256,729.6 L256,729.8 L89,729.8 Z" fill="url(#fgC)" opacity="0.42"/>
<path d="M89,729.4 C104.33,728.35 125.71,730.81 135,726.25 C140.31,723.65 141.86,718.33 145,715 C147.64,712.2 149.73,707.7 152.5,707.5 C155.51,707.29 159.26,712.19 162.5,715 C165.94,717.99 169.18,724.32 172.5,725 C175.01,725.51 177.55,723.56 180,722 C182.99,720.09 185.69,714.11 188.75,713.75 C191.55,713.42 194.32,717.33 197.5,718.75 C200.95,720.29 205,721.25 208.75,722.5 L208.75,729.8 L89,729.8 Z" fill="url(#fgTs)" opacity="0.6"/>
<path d="M208.75,722.5 L211.25,720 L215,702.5 L223.1,701 L230,729.6 L208.75,729.6 Z" fill="url(#fgTs)" opacity="0.7"/>
<path d="M254,729.6 C254.73,729.4 255.55,729.75 256.2,729 C258.53,726.33 258.77,711.78 260,700 C261.9,681.75 263.86,652.44 265.4,630 C266.82,609.24 267.66,589.08 269,570 C270.22,552.57 270.81,535.68 273,520 C274.97,505.86 278.33,480 281,480 C283.67,480 287.12,504.29 289,520 C291.64,542.01 291.24,579.75 292.3,600 C292.95,612.41 293.56,618.28 294.2,630 C295.11,646.57 296.01,672.15 297,690 C297.8,704.4 297.32,725.99 299.5,729 C299.94,729.61 300.17,729.44 301,729.6 C304.26,730.23 317.67,729.6 326,729.6 L326,729.8 L254,729.8 Z" fill="url(#fgP3)"/>
<path d="M256,729.6 C256.93,729.4 258.01,729.87 258.8,729 C261.32,726.21 260.8,711.77 262,700 C263.87,681.73 266.44,651.37 268.6,630 C270.43,611.93 272.17,594.1 274,580 C275.35,569.61 276.24,558.98 278.1,553 C279.09,549.81 280.35,546.01 281.5,546 C282.65,545.99 284.01,549.5 285,553 C287.42,561.6 287.64,586.09 289,600 C290.09,611.13 291.29,618.27 292.3,630 C293.72,646.55 294.48,672.23 296,690 C297.22,704.27 297.85,724.8 300.2,728.5 C300.75,729.36 300.99,729.32 302,729.6 C305.39,730.55 318,729.6 326,729.6 L326,729.8 L256,729.8 Z" fill="url(#fgC3)"/>
<path d="M257,729.6 L259.4,729 L266,680 L269,630 L270,552.5 L295.6,552.5 L296.2,630 L297.5,690 L298.8,729 L301,729.6 Z" fill="url(#fgT)"/>
<path d="M89,728 C101.33,727.73 117.58,730.67 126,727.2 C131.51,724.93 133.73,720.02 137.5,716.25 C141.32,712.42 144.72,705.11 148.75,704.4 C152.28,703.78 156.54,707.51 160,710 C163.67,712.64 166.6,717.4 170,720 C172.87,722.19 175.45,724.3 178.75,725 C182.44,725.78 187.15,723.74 191.25,723.75 C195.23,723.76 199.06,724.79 203,725 C206.97,725.21 212.19,725.7 215,725 C216.67,724.58 217.63,724.33 218.75,723 C220.93,720.39 222.07,712.62 223.75,707.5 C225.4,702.45 226.37,696.01 228.75,692.5 C230.46,689.98 233.08,686.94 235,687.25 C237.33,687.63 239.41,693.26 241.25,697.5 C243.81,703.41 245.53,714.15 247.5,720 C248.8,723.85 249.67,728.24 251.25,729.4 C252.08,730 253.08,729.53 254,729.6" fill="none" stroke="#b98ae6" stroke-width="1.4" stroke-linejoin="round" stroke-linecap="round" />
<path d="M254,729.6 C254.73,729.4 255.55,729.75 256.2,729 C258.53,726.33 258.77,711.78 260,700 C261.9,681.75 263.86,652.44 265.4,630 C266.82,609.24 267.66,589.08 269,570 C270.22,552.57 270.81,535.68 273,520 C274.97,505.86 278.33,480 281,480 C283.67,480 287.12,504.29 289,520 C291.64,542.01 291.24,579.75 292.3,600 C292.95,612.41 293.56,618.28 294.2,630 C295.11,646.57 296.01,672.15 297,690 C297.8,704.4 297.32,725.99 299.5,729 C299.94,729.61 300.17,729.44 301,729.6 C304.26,730.23 317.67,729.6 326,729.6" fill="none" stroke="#b98ae6" stroke-width="1.4" stroke-linejoin="round" stroke-linecap="round" />
<path d="M89,728.8 C101.42,728.37 117.13,731.46 126.25,727.5 C133.13,724.51 136.76,716.99 141.25,712.5 C144.92,708.83 147.92,704.63 151.25,702.5 C153.75,700.9 156.33,699.43 158.75,699.75 C161.34,700.09 163.79,702.79 166.25,705 C169.22,707.66 171.95,712.65 175,715 C177.42,716.87 180.14,718.84 182.5,718.75 C184.7,718.67 186.71,715.7 188.75,715 C190.45,714.42 191.87,714.03 193.75,714.4 C196.59,714.96 200.42,718.87 203.75,720 C206.67,720.99 209.48,721.22 212.5,721.25 C215.72,721.28 219.78,721.49 222.5,720 C225.18,718.54 226.36,714.45 228.75,712.5 C230.98,710.68 233.99,708.14 236.25,708.5 C238.58,708.87 240.6,712.31 242.5,715 C244.87,718.35 246.68,725.19 248.75,727.5 C249.84,728.71 250.8,729.25 252,729.6 C253.22,729.96 254.67,729.6 256,729.6" fill="none" stroke="#7c86d6" stroke-width="1.4" stroke-linejoin="round" stroke-linecap="round" />
<path d="M256,729.6 C256.93,729.4 258.01,729.87 258.8,729 C261.32,726.21 260.8,711.77 262,700 C263.87,681.73 266.44,651.37 268.6,630 C270.43,611.93 272.17,594.1 274,580 C275.35,569.61 276.24,558.98 278.1,553 C279.09,549.81 280.35,546.01 281.5,546 C282.65,545.99 284.01,549.5 285,553 C287.42,561.6 287.64,586.09 289,600 C290.09,611.13 291.29,618.27 292.3,630 C293.72,646.55 294.48,672.23 296,690 C297.22,704.27 297.85,724.8 300.2,728.5 C300.75,729.36 300.99,729.32 302,729.6 C305.39,730.55 318,729.6 326,729.6" fill="none" stroke="#7c86d6" stroke-width="1.4" stroke-linejoin="round" stroke-linecap="round" />
<path d="M89,729.4 C104.33,728.35 125.71,730.81 135,726.25 C140.31,723.65 141.86,718.33 145,715 C147.64,712.2 149.73,707.7 152.5,707.5 C155.51,707.29 159.26,712.19 162.5,715 C165.94,717.99 169.18,724.32 172.5,725 C175.01,725.51 177.55,723.56 180,722 C182.99,720.09 185.69,714.11 188.75,713.75 C191.55,713.42 194.32,717.33 197.5,718.75 C200.95,720.29 205,721.25 208.75,722.5" fill="none" stroke="#8ccac4" stroke-width="1.8" stroke-linejoin="round" stroke-linecap="round" />
<path d="M208.75,722.5 L211.25,720 L215,702.5 L223.1,701 L230,729.6" fill="none" stroke="#8ccac4" stroke-width="2.4" stroke-linejoin="round" />
<path d="M259.4,729 L266,680 L269,630 L270,552.5" fill="none" stroke="#a8d4d0" stroke-width="1.3" stroke-linejoin="round" />
<path d="M295.6,552.5 L296.2,630 L297.5,690 L298.8,729" fill="none" stroke="#a8d4d0" stroke-width="1.3" stroke-linejoin="round" />
</g>
<rect x="88.8" y="552.5" width="237.7" height="177.3" fill="none" stroke="#231f20" stroke-width="1.45"/>
<line x1="99.02" y1="729.8" x2="99.02" y2="727.6" stroke="#231f20" stroke-width="1.0" />
<line x1="105" y1="729.8" x2="105" y2="727.6" stroke="#231f20" stroke-width="1.0" />
<line x1="109.24" y1="729.8" x2="109.24" y2="727.6" stroke="#231f20" stroke-width="1.0" />
<line x1="112.54" y1="729.8" x2="112.54" y2="727.6" stroke="#231f20" stroke-width="1.0" />
<line x1="115.22" y1="729.8" x2="115.22" y2="727.6" stroke="#231f20" stroke-width="1.0" />
<line x1="117.5" y1="729.8" x2="117.5" y2="727.6" stroke="#231f20" stroke-width="1.0" />
<line x1="119.47" y1="729.8" x2="119.47" y2="727.6" stroke="#231f20" stroke-width="1.0" />
<line x1="121.2" y1="729.8" x2="121.2" y2="727.6" stroke="#231f20" stroke-width="1.0" />
<line x1="122.76" y1="729.8" x2="122.76" y2="725.8" stroke="#231f20" stroke-width="1.2" />
<line x1="132.98" y1="729.8" x2="132.98" y2="727.6" stroke="#231f20" stroke-width="1.0" />
<line x1="138.96" y1="729.8" x2="138.96" y2="727.6" stroke="#231f20" stroke-width="1.0" />
<line x1="143.2" y1="729.8" x2="143.2" y2="727.6" stroke="#231f20" stroke-width="1.0" />
<line x1="146.49" y1="729.8" x2="146.49" y2="727.6" stroke="#231f20" stroke-width="1.0" />
<line x1="149.18" y1="729.8" x2="149.18" y2="727.6" stroke="#231f20" stroke-width="1.0" />
<line x1="151.45" y1="729.8" x2="151.45" y2="727.6" stroke="#231f20" stroke-width="1.0" />
<line x1="153.42" y1="729.8" x2="153.42" y2="727.6" stroke="#231f20" stroke-width="1.0" />
<line x1="155.16" y1="729.8" x2="155.16" y2="727.6" stroke="#231f20" stroke-width="1.0" />
<line x1="156.71" y1="729.8" x2="156.71" y2="725.8" stroke="#231f20" stroke-width="1.2" />
<line x1="166.94" y1="729.8" x2="166.94" y2="727.6" stroke="#231f20" stroke-width="1.0" />
<line x1="172.92" y1="729.8" x2="172.92" y2="727.6" stroke="#231f20" stroke-width="1.0" />
<line x1="177.16" y1="729.8" x2="177.16" y2="727.6" stroke="#231f20" stroke-width="1.0" />
<line x1="180.45" y1="729.8" x2="180.45" y2="727.6" stroke="#231f20" stroke-width="1.0" />
<line x1="183.14" y1="729.8" x2="183.14" y2="727.6" stroke="#231f20" stroke-width="1.0" />
<line x1="185.41" y1="729.8" x2="185.41" y2="727.6" stroke="#231f20" stroke-width="1.0" />
<line x1="187.38" y1="729.8" x2="187.38" y2="727.6" stroke="#231f20" stroke-width="1.0" />
<line x1="189.12" y1="729.8" x2="189.12" y2="727.6" stroke="#231f20" stroke-width="1.0" />
<line x1="190.67" y1="729.8" x2="190.67" y2="725.8" stroke="#231f20" stroke-width="1.2" />
<line x1="200.89" y1="729.8" x2="200.89" y2="727.6" stroke="#231f20" stroke-width="1.0" />
<line x1="206.87" y1="729.8" x2="206.87" y2="727.6" stroke="#231f20" stroke-width="1.0" />
<line x1="211.12" y1="729.8" x2="211.12" y2="727.6" stroke="#231f20" stroke-width="1.0" />
<line x1="214.41" y1="729.8" x2="214.41" y2="727.6" stroke="#231f20" stroke-width="1.0" />
<line x1="217.1" y1="729.8" x2="217.1" y2="727.6" stroke="#231f20" stroke-width="1.0" />
<line x1="219.37" y1="729.8" x2="219.37" y2="727.6" stroke="#231f20" stroke-width="1.0" />
<line x1="221.34" y1="729.8" x2="221.34" y2="727.6" stroke="#231f20" stroke-width="1.0" />
<line x1="223.07" y1="729.8" x2="223.07" y2="727.6" stroke="#231f20" stroke-width="1.0" />
<line x1="224.63" y1="729.8" x2="224.63" y2="725.8" stroke="#231f20" stroke-width="1.2" />
<line x1="234.85" y1="729.8" x2="234.85" y2="727.6" stroke="#231f20" stroke-width="1.0" />
<line x1="240.83" y1="729.8" x2="240.83" y2="727.6" stroke="#231f20" stroke-width="1.0" />
<line x1="245.07" y1="729.8" x2="245.07" y2="727.6" stroke="#231f20" stroke-width="1.0" />
<line x1="248.36" y1="729.8" x2="248.36" y2="727.6" stroke="#231f20" stroke-width="1.0" />
<line x1="251.05" y1="729.8" x2="251.05" y2="727.6" stroke="#231f20" stroke-width="1.0" />
<line x1="253.33" y1="729.8" x2="253.33" y2="727.6" stroke="#231f20" stroke-width="1.0" />
<line x1="255.29" y1="729.8" x2="255.29" y2="727.6" stroke="#231f20" stroke-width="1.0" />
<line x1="257.03" y1="729.8" x2="257.03" y2="727.6" stroke="#231f20" stroke-width="1.0" />
<line x1="258.59" y1="729.8" x2="258.59" y2="725.8" stroke="#231f20" stroke-width="1.2" />
<line x1="268.81" y1="729.8" x2="268.81" y2="727.6" stroke="#231f20" stroke-width="1.0" />
<line x1="274.79" y1="729.8" x2="274.79" y2="727.6" stroke="#231f20" stroke-width="1.0" />
<line x1="279.03" y1="729.8" x2="279.03" y2="727.6" stroke="#231f20" stroke-width="1.0" />
<line x1="282.32" y1="729.8" x2="282.32" y2="727.6" stroke="#231f20" stroke-width="1.0" />
<line x1="285.01" y1="729.8" x2="285.01" y2="727.6" stroke="#231f20" stroke-width="1.0" />
<line x1="287.28" y1="729.8" x2="287.28" y2="727.6" stroke="#231f20" stroke-width="1.0" />
<line x1="289.25" y1="729.8" x2="289.25" y2="727.6" stroke="#231f20" stroke-width="1.0" />
<line x1="290.99" y1="729.8" x2="290.99" y2="727.6" stroke="#231f20" stroke-width="1.0" />
<line x1="292.54" y1="729.8" x2="292.54" y2="725.8" stroke="#231f20" stroke-width="1.2" />
<line x1="302.76" y1="729.8" x2="302.76" y2="727.6" stroke="#231f20" stroke-width="1.0" />
<line x1="308.74" y1="729.8" x2="308.74" y2="727.6" stroke="#231f20" stroke-width="1.0" />
<line x1="312.99" y1="729.8" x2="312.99" y2="727.6" stroke="#231f20" stroke-width="1.0" />
<line x1="316.28" y1="729.8" x2="316.28" y2="727.6" stroke="#231f20" stroke-width="1.0" />
<line x1="318.97" y1="729.8" x2="318.97" y2="727.6" stroke="#231f20" stroke-width="1.0" />
<line x1="321.24" y1="729.8" x2="321.24" y2="727.6" stroke="#231f20" stroke-width="1.0" />
<line x1="323.21" y1="729.8" x2="323.21" y2="727.6" stroke="#231f20" stroke-width="1.0" />
<line x1="324.95" y1="729.8" x2="324.95" y2="727.6" stroke="#231f20" stroke-width="1.0" />
<line x1="88.8" y1="729.8" x2="92.3" y2="729.8" stroke="#231f20" stroke-width="1.2" />
<text x="81.5" y="735.7" font-size="18.4" text-anchor="end" fill="#231f20" >0</text>
<line x1="88.8" y1="685.47" x2="92.3" y2="685.47" stroke="#231f20" stroke-width="1.2" />
<text x="81.5" y="691.37" font-size="18.4" text-anchor="end" fill="#231f20" >400</text>
<line x1="88.8" y1="641.15" x2="92.3" y2="641.15" stroke="#231f20" stroke-width="1.2" />
<text x="81.5" y="647.05" font-size="18.4" text-anchor="end" fill="#231f20" >800</text>
<line x1="88.8" y1="596.83" x2="92.3" y2="596.83" stroke="#231f20" stroke-width="1.2" />
<text x="81.5" y="602.73" font-size="18.4" text-anchor="end" fill="#231f20" >1200</text>
<line x1="88.8" y1="552.5" x2="92.3" y2="552.5" stroke="#231f20" stroke-width="1.2" />
<text x="81.5" y="558.4" font-size="18.4" text-anchor="end" fill="#231f20" >1600</text>
<text transform="translate(128.76,748.5) rotate(-30)" font-size="18.4" text-anchor="end" fill="#231f20">1 × 10<tspan font-size="10.3" dy="-7.4">−3</tspan></text>
<text transform="translate(162.71,748.5) rotate(-30)" font-size="18.4" text-anchor="end" fill="#231f20">1 × 10<tspan font-size="10.3" dy="-7.4">−2</tspan></text>
<text transform="translate(196.67,748.5) rotate(-30)" font-size="18.4" text-anchor="end" fill="#231f20">1 × 10<tspan font-size="10.3" dy="-7.4">−1</tspan></text>
<text transform="translate(230.63,748.5) rotate(-30)" font-size="18.4" text-anchor="end" fill="#231f20">1 × 10<tspan font-size="10.3" dy="-7.4">0</tspan></text>
<text transform="translate(264.59,748.5) rotate(-30)" font-size="18.4" text-anchor="end" fill="#231f20">1 × 10<tspan font-size="10.3" dy="-7.4">1</tspan></text>
<text transform="translate(298.54,748.5) rotate(-30)" font-size="18.4" text-anchor="end" fill="#231f20">1 × 10<tspan font-size="10.3" dy="-7.4">2</tspan></text>
<text transform="translate(332.5,748.5) rotate(-30)" font-size="18.4" text-anchor="end" fill="#231f20">1 × 10<tspan font-size="10.3" dy="-7.4">3</tspan></text>
<text x="207" y="793.5" font-size="18.6" text-anchor="middle" fill="#231f20" ><tspan font-style="italic">τ</tspan> / s</text>
<text transform="translate(29.6,643) rotate(-90)" font-size="18.6" text-anchor="middle" fill="#231f20"><tspan font-style="italic">Y</tspan>(<tspan font-style="italic">τ</tspan>) / Ω</text>
<text x="16" y="544" font-size="18.6" text-anchor="start" fill="#231f20" >(f)</text>
<line x1="100.6" y1="568.1" x2="119.4" y2="568.1" stroke="#b98ae6" stroke-width="1.4" />
<text x="126.25" y="573.9" font-size="18.6" text-anchor="start" fill="#231f20" >0 cycled</text>
<line x1="100.6" y1="589.15" x2="119.4" y2="589.15" stroke="#7c86d6" stroke-width="1.4" />
<text x="126.25" y="594.95" font-size="18.6" text-anchor="start" fill="#231f20" >Charged</text>
<line x1="100.6" y1="610.2" x2="119.4" y2="610.2" stroke="#8ccac4" stroke-width="1.4" />
<text x="126.25" y="616" font-size="18.6" text-anchor="start" fill="#231f20" >Discharge</text>
<text x="156.25" y="660" font-size="18.6" text-anchor="start" fill="#231f20" >P<tspan font-size="10.4" dy="4.5">1</tspan></text>
<text x="220" y="618.1" font-size="18.6" text-anchor="start" fill="#231f20" >P<tspan font-size="10.4" dy="4.5">2</tspan></text>
<text x="304.4" y="596.25" font-size="18.6" text-anchor="start" fill="#231f20" >P<tspan font-size="10.4" dy="4.5">3</tspan></text>
<text x="138.1" y="696.25" font-size="18.6" text-anchor="start" fill="#231f20" ><tspan font-style="italic">τ</tspan><tspan font-size="10.4" dy="4.5">1</tspan></text>
<text x="172.5" y="706.9" font-size="18.6" text-anchor="start" fill="#231f20" ><tspan font-style="italic">τ</tspan><tspan font-size="10.4" dy="4.5">2</tspan></text>
<text x="203.1" y="694.4" font-size="18.6" text-anchor="start" fill="#231f20" ><tspan font-style="italic">τ</tspan><tspan font-size="10.4" dy="4.5">3</tspan></text>
<text x="246.25" y="656.25" font-size="18.6" text-anchor="start" fill="#231f20" ><tspan font-style="italic">τ</tspan><tspan font-size="10.4" dy="4.5">4</tspan></text>
<text x="304.4" y="694.4" font-size="18.6" text-anchor="start" fill="#231f20" ><tspan font-style="italic">τ</tspan><tspan font-size="10.4" dy="4.5">5</tspan></text>
<path d="M441,709.4 C447.33,707.93 453.21,706.38 460,705 C467.74,703.42 476.64,701.43 485,700.6 C493.3,699.77 501.68,699.59 510,700 C518.35,700.42 527.75,701.89 535,703.1 C540.66,704.04 545,706.25 550,706.25 C555,706.25 560.13,704.89 565,703.1 C570.14,701.22 575.53,697.55 580,695 C583.7,692.89 586.36,691.3 590,689 C594.53,686.14 599.04,682.88 605,679 C613.63,673.39 628.53,665.46 636.9,658.75 C643.17,653.73 647.53,649.62 651.9,643.75 C656.69,637.3 661.35,628.97 664,621.25 C666.5,613.95 666.53,606.25 667.8,598.75" fill="none" stroke="#b9b9b9" stroke-width="1.3" stroke-linejoin="round" stroke-linecap="round" />
<path d="M441,709.4 C447.33,702.6 452.08,694.78 460,689 C469.19,682.29 481.89,677.12 494,673 C506.8,668.65 523.76,666.5 535,664 C542.85,662.25 547.4,661.15 555,659.5 C565.04,657.32 580.36,655.76 590,652.2 C597.46,649.44 602.6,645.73 608.75,641.9 C615.11,637.94 621.32,633.38 627.5,628.75 C633.83,624.01 640.72,617.8 646.25,613.75 C650.4,610.71 653.86,608.79 657.5,606.25 C661.04,603.79 664.37,601.25 667.8,598.75" fill="none" stroke="#b9b9b9" stroke-width="1.3" stroke-linejoin="round" stroke-linecap="round" />
<path d="M441,687.5 C447.33,686.47 453.22,685.29 460,684.4 C467.75,683.38 476.66,682.53 485,681.9 C493.33,681.27 501.67,680.5 510,680.6 C518.34,680.7 527.13,681.83 535,682.5 C542.04,683.1 547.96,684.25 555,684.4 C562.86,684.57 573.56,683.86 580,683.1 C584.1,682.62 585.87,682.31 590,681.25 C597.05,679.43 609.85,675.69 618.1,671.9 C625.2,668.63 631.16,664.78 636.9,660.6 C642.37,656.61 647.39,651.53 651.9,647.5 C655.68,644.13 659.31,640.86 662.2,638.1 C664.38,636.02 665.93,634.37 667.8,632.5" fill="none" stroke="#6e6e6e" stroke-width="1.3" stroke-linejoin="round" stroke-linecap="round" />
<path d="M441,687.5 C447.33,685 452.64,682.19 460,680 C469.59,677.14 482.08,674.58 494,673 C506.97,671.28 523.76,671.33 535,670.5 C542.85,669.92 547.41,669.55 555,668.75 C565.05,667.69 580.21,666.47 590,664.4 C597.29,662.86 602.52,660.78 608.75,658.75 C615.02,656.71 621.25,654.39 627.5,652.2 C633.75,650.01 640.49,648.37 646.25,645.6 C651.68,642.99 657.25,638.64 661.25,636.25 C663.86,634.69 665.62,633.75 667.8,632.5" fill="none" stroke="#6e6e6e" stroke-width="1.3" stroke-linejoin="round" stroke-linecap="round" />
<path d="M441,697.5 C447.33,695.63 453.18,693.42 460,691.9 C467.71,690.19 476.65,689.04 485,688.1 C493.32,687.16 501.68,686.04 510,686.25 C518.34,686.46 527.83,687.5 535,689.4 C540.75,690.92 544.9,694.78 550,695.6 C554.91,696.39 560.03,695.22 565,694.5 C570.03,693.77 575.6,692.85 580,691.25 C583.77,689.88 586.35,687.99 590,686 C594.51,683.54 599.72,680.48 605,677.5 C610.9,674.18 618.09,670.36 623.75,667 C628.56,664.15 632.57,662.2 636.9,658.75 C641.97,654.71 647.43,648.92 651.9,643.75 C656.1,638.9 660.4,633.79 663.1,628.75 C665.43,624.4 666.23,619.98 667.8,615.6" fill="none" stroke="#b04fc4" stroke-width="1.6" stroke-linejoin="round" stroke-linecap="round" />
<path d="M441,697.5 C447.33,693 452.41,687.81 460,684 C469.4,679.28 482.01,675.8 494,673 C506.91,669.99 523.75,668.55 535,667 C542.85,665.92 547.41,665.4 555,664.4 C565.05,663.07 580.21,661.81 590,659.7 C597.29,658.13 602.63,656.67 608.75,654.1 C615.15,651.42 621.35,647.59 627.5,643.75 C633.86,639.78 640.77,634.34 646.25,630.6 C650.46,627.72 653.86,625.64 657.5,623.1 C661.04,620.64 664.37,618.1 667.8,615.6" fill="none" stroke="#b04fc4" stroke-width="1.6" stroke-linejoin="round" stroke-linecap="round" />
<path d="M441,701.25 C447.33,700.42 453.24,699.7 460,698.75 C467.77,697.66 476.65,696.04 485,695 C493.32,693.96 501.69,692.19 510,692.5 C518.35,692.81 527.8,694.94 535,696.9 C540.72,698.46 544.98,702.41 550,702.5 C554.98,702.59 560.01,699.25 565,697.5 C570.01,695.75 575.55,693.92 580,692 C583.72,690.39 586.37,688.99 590,687 C594.54,684.51 599.19,681.35 605,678 C612.87,673.47 625.78,667.99 633.1,662.5 C638.67,658.32 642.26,654.27 646.25,649.4 C650.43,644.31 654.37,638.45 657.5,632.5 C660.62,626.57 663.18,618.96 665,613.75 C666.26,610.13 666.87,607.52 667.8,604.4" fill="none" stroke="#e27ce2" stroke-width="1.3" stroke-linejoin="round" stroke-linecap="round" />
<path d="M441,701.25 C447.33,696.17 452.34,690.39 460,686 C469.36,680.63 481.98,676.44 494,673 C506.88,669.31 523.74,666.94 535,665 C542.83,663.65 547.4,663.03 555,662 C565.04,660.65 580.38,660.89 590,657.8 C597.49,655.39 602.6,651.32 608.75,647.5 C615.11,643.55 621.79,639.19 627.5,634.4 C633,629.79 637.98,623.44 642.5,619.4 C645.9,616.36 648.45,613.79 651.9,611.9 C655.32,610.03 660.26,609.64 663.1,608.1 C665.12,607 666.23,605.63 667.8,604.4" fill="none" stroke="#e27ce2" stroke-width="1.3" stroke-linejoin="round" stroke-linecap="round" />
<path d="M441,718.75 C447.33,717.08 453.25,715.65 460,713.75 C467.78,711.56 476.62,708.34 485,706.25 C493.28,704.18 502.71,701.43 510,701.25 C515.62,701.11 520.31,701.94 525,703.5 C529.63,705.04 534.04,708.19 538,710.5 C541.45,712.52 544.29,715.77 547.5,716.5 C550.3,717.14 553.1,716.6 556,715.5 C559.72,714.09 563.59,710.23 567.5,707.5 C571.58,704.65 576.03,701.38 580,698.75 C583.49,696.44 586.29,695.3 590,692.5 C595.43,688.4 603.07,681.62 608.75,675.6 C614.29,669.73 619.08,663.42 623.75,656.9 C628.47,650.31 632.65,643.5 636.9,636.25 C641.42,628.55 645.68,621.69 650,611.9 C656.02,598.26 661.87,578.13 667.8,561.25" fill="none" stroke="#3aa898" stroke-width="1.3" stroke-linejoin="round" stroke-linecap="round" />
<path d="M441,718.75 C447.33,710.83 452.67,701.87 460,695 C467.34,688.12 476.3,681.6 485,677.5 C493.02,673.72 501.62,672.48 510,670.6 C518.29,668.74 527.2,668.25 535,666.25 C542.12,664.42 547.44,662.18 555,659.4 C565.08,655.69 580.38,650.76 590,645.6 C597.5,641.58 602.71,637.56 608.75,632.5 C615.25,627.05 622.05,620.25 627.5,613.75 C632.56,607.71 636.45,598.95 640.6,595 C643.18,592.54 645.63,591.99 648.1,590.3 C650.64,588.56 653.41,586.88 655.6,584.7 C657.79,582.52 659.48,580.3 661.25,577.2 C663.65,572.99 665.62,566.57 667.8,561.25" fill="none" stroke="#3aa898" stroke-width="1.3" stroke-linejoin="round" stroke-linecap="round" />
<rect x="440" y="552.6" width="236.9" height="177.2" fill="none" stroke="#231f20" stroke-width="1.45"/>
<line x1="440" y1="710.11" x2="443.5" y2="710.11" stroke="#231f20" stroke-width="1.2" />
<text x="432.7" y="716.01" font-size="18.4" text-anchor="end" fill="#231f20" >−0.6</text>
<line x1="440" y1="670.73" x2="443.5" y2="670.73" stroke="#231f20" stroke-width="1.2" />
<text x="432.7" y="676.63" font-size="18.4" text-anchor="end" fill="#231f20" >0</text>
<line x1="440" y1="631.36" x2="443.5" y2="631.36" stroke="#231f20" stroke-width="1.2" />
<text x="432.7" y="637.26" font-size="18.4" text-anchor="end" fill="#231f20" >0.6</text>
<line x1="440" y1="591.98" x2="443.5" y2="591.98" stroke="#231f20" stroke-width="1.2" />
<text x="432.7" y="597.88" font-size="18.4" text-anchor="end" fill="#231f20" >1.2</text>
<line x1="440" y1="552.6" x2="443.5" y2="552.6" stroke="#231f20" stroke-width="1.2" />
<text x="432.7" y="558.5" font-size="18.4" text-anchor="end" fill="#231f20" >1.8</text>
<line x1="440" y1="729.8" x2="440" y2="726.3" stroke="#231f20" stroke-width="1.2" />
<text x="440" y="750.8" font-size="18.4" text-anchor="middle" fill="#231f20" >0</text>
<line x1="487.38" y1="729.8" x2="487.38" y2="726.3" stroke="#231f20" stroke-width="1.2" />
<text x="487.38" y="750.8" font-size="18.4" text-anchor="middle" fill="#231f20" >0.5</text>
<line x1="534.76" y1="729.8" x2="534.76" y2="726.3" stroke="#231f20" stroke-width="1.2" />
<text x="534.76" y="750.8" font-size="18.4" text-anchor="middle" fill="#231f20" >1.0</text>
<line x1="582.14" y1="729.8" x2="582.14" y2="726.3" stroke="#231f20" stroke-width="1.2" />
<text x="582.14" y="750.8" font-size="18.4" text-anchor="middle" fill="#231f20" >1.5</text>
<line x1="629.52" y1="729.8" x2="629.52" y2="726.3" stroke="#231f20" stroke-width="1.2" />
<text x="629.52" y="750.8" font-size="18.4" text-anchor="middle" fill="#231f20" >2.0</text>
<line x1="676.9" y1="729.8" x2="676.9" y2="726.3" stroke="#231f20" stroke-width="1.2" />
<text x="676.9" y="750.8" font-size="18.4" text-anchor="middle" fill="#231f20" >2.5</text>
<text x="558.5" y="777" font-size="18.6" text-anchor="middle" fill="#231f20" >Potential / V vs. Al<tspan font-size="10.4" dy="-7.4">3+</tspan><tspan dy="7.4">/Al</tspan></text>
<text transform="translate(388,641) rotate(-90)" font-size="18.6" text-anchor="middle" fill="#231f20">Current / (mA·cm<tspan font-size="10.4" dy="-7.4">−2</tspan><tspan dy="7.4">)</tspan></text>
<text x="364" y="544" font-size="18.6" text-anchor="start" fill="#231f20" >(g)</text>
<line x1="460" y1="570" x2="479.4" y2="570" stroke="#6e6e6e" stroke-width="1.5" />
<text x="487.5" y="575.4" font-size="18.6" text-anchor="start" fill="#231f20" >1 mV·s<tspan font-size="10.4" dy="-7.4">−1</tspan></text>
<line x1="460" y1="587.75" x2="479.4" y2="587.75" stroke="#b04fc4" stroke-width="2.0" />
<text x="487.5" y="593.15" font-size="18.6" text-anchor="start" fill="#231f20" >3 mV·s<tspan font-size="10.4" dy="-7.4">−1</tspan></text>
<line x1="460" y1="605.5" x2="479.4" y2="605.5" stroke="#e27ce2" stroke-width="1.5" />
<text x="487.5" y="610.9" font-size="18.6" text-anchor="start" fill="#231f20" >5 mV·s<tspan font-size="10.4" dy="-7.4">−1</tspan></text>
<line x1="460" y1="623.25" x2="479.4" y2="623.25" stroke="#b9b9b9" stroke-width="1.5" />
<text x="487.5" y="628.65" font-size="18.6" text-anchor="start" fill="#231f20" >8 mV·s<tspan font-size="10.4" dy="-7.4">−1</tspan></text>
<line x1="460" y1="641" x2="479.4" y2="641" stroke="#3aa898" stroke-width="1.5" />
<text x="487.5" y="646.4" font-size="18.6" text-anchor="start" fill="#231f20" >10 mV·s<tspan font-size="10.4" dy="-7.4">−1</tspan></text>
<text x="628.5" y="589.4" font-size="18.6" text-anchor="middle" fill="#231f20" >O</text>
<text x="518.8" y="724.4" font-size="18.6" text-anchor="middle" fill="#231f20" >R</text>
<defs><pattern id="hatch" patternUnits="userSpaceOnUse" width="3.2" height="3.2" patternTransform="rotate(-45)"><rect width="3.2" height="3.2" fill="#ffffff"/><line x1="0.8" y1="0" x2="0.8" y2="3.2" stroke="#b2dada" stroke-width="1.1"/></pattern></defs>
<rect x="800.3" y="582.13" width="34.4" height="132.75" fill="url(#hatch)"/>
<rect x="800.3" y="714.89" width="34.4" height="14.91" fill="#8fcaca"/>
<rect x="850.1" y="582.13" width="34.4" height="111.64" fill="url(#hatch)"/>
<rect x="850.1" y="693.77" width="34.4" height="36.03" fill="#8fcaca"/>
<rect x="899.8" y="582.13" width="34.4" height="98.94" fill="url(#hatch)"/>
<rect x="899.8" y="681.07" width="34.4" height="48.73" fill="#8fcaca"/>
<rect x="949.4" y="582.13" width="34.4" height="77.52" fill="url(#hatch)"/>
<rect x="949.4" y="659.66" width="34.4" height="70.14" fill="#8fcaca"/>
<rect x="999.8" y="582.13" width="34.4" height="74.57" fill="url(#hatch)"/>
<rect x="999.8" y="656.7" width="34.4" height="73.1" fill="#8fcaca"/>
<rect x="798.7" y="552.6" width="236.8" height="177.2" fill="none" stroke="#231f20" stroke-width="1.45"/>
<line x1="798.7" y1="729.8" x2="802.2" y2="729.8" stroke="#231f20" stroke-width="1.2" />
<text x="791.4" y="735.7" font-size="18.4" text-anchor="end" fill="#231f20" >0</text>
<line x1="798.7" y1="685.5" x2="802.2" y2="685.5" stroke="#231f20" stroke-width="1.2" />
<text x="791.4" y="691.4" font-size="18.4" text-anchor="end" fill="#231f20" >30</text>
<line x1="798.7" y1="641.2" x2="802.2" y2="641.2" stroke="#231f20" stroke-width="1.2" />
<text x="791.4" y="647.1" font-size="18.4" text-anchor="end" fill="#231f20" >60</text>
<line x1="798.7" y1="596.9" x2="802.2" y2="596.9" stroke="#231f20" stroke-width="1.2" />
<text x="791.4" y="602.8" font-size="18.4" text-anchor="end" fill="#231f20" >90</text>
<line x1="798.7" y1="552.6" x2="802.2" y2="552.6" stroke="#231f20" stroke-width="1.2" />
<text x="791.4" y="558.5" font-size="18.4" text-anchor="end" fill="#231f20" >120</text>
<line x1="817.5" y1="729.8" x2="817.5" y2="726.3" stroke="#231f20" stroke-width="1.2" />
<text x="817.5" y="750.8" font-size="18.4" text-anchor="middle" fill="#231f20" >1</text>
<line x1="867.3" y1="729.8" x2="867.3" y2="726.3" stroke="#231f20" stroke-width="1.2" />
<text x="867.3" y="750.8" font-size="18.4" text-anchor="middle" fill="#231f20" >3</text>
<line x1="917" y1="729.8" x2="917" y2="726.3" stroke="#231f20" stroke-width="1.2" />
<text x="917" y="750.8" font-size="18.4" text-anchor="middle" fill="#231f20" >5</text>
<line x1="966.6" y1="729.8" x2="966.6" y2="726.3" stroke="#231f20" stroke-width="1.2" />
<text x="966.6" y="750.8" font-size="18.4" text-anchor="middle" fill="#231f20" >8</text>
<line x1="1017" y1="729.8" x2="1017" y2="726.3" stroke="#231f20" stroke-width="1.2" />
<text x="1017" y="750.8" font-size="18.4" text-anchor="middle" fill="#231f20" >10</text>
<text x="913" y="777" font-size="18.6" text-anchor="middle" fill="#231f20" >Scan rate / (mV·s<tspan font-size="10.4" dy="-7.4">−1</tspan><tspan dy="7.4">)</tspan></text>
<text transform="translate(756,643) rotate(-90)" font-size="18.6" text-anchor="middle" fill="#231f20">Capacitive contribution / %</text>
<text x="715.4" y="544" font-size="18.6" text-anchor="start" fill="#231f20" >(h)</text>
<rect x="804.7" y="561.5" width="18.4" height="8.7" fill="url(#hatch)"/>
<text x="829.9" y="570.2" font-size="16.2" text-anchor="start" fill="#4b3a86" >Ionic diffusion</text>
<rect x="939.2" y="561.5" width="17.8" height="8.7" fill="#6fbcbc"/>
<text x="963.2" y="570.2" font-size="16.2" text-anchor="start" fill="#4b3a86" >Capacitive</text>
</svg></body></html>
